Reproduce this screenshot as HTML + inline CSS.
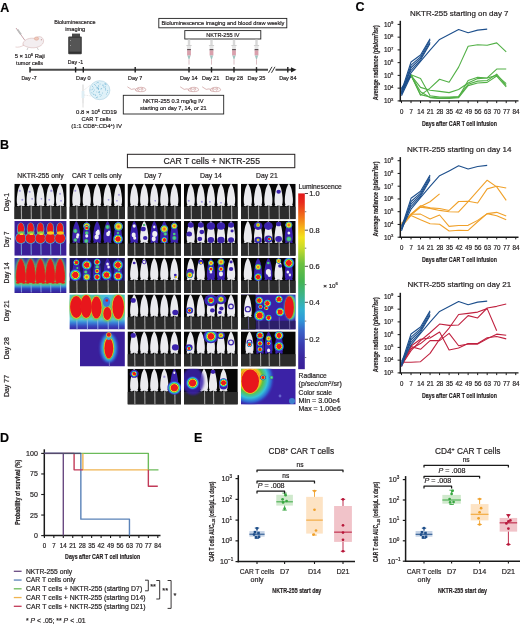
<!DOCTYPE html>
<html><head><meta charset="utf-8"><style>
html,body{margin:0;padding:0;background:#fff;width:520px;height:626px;overflow:hidden;}
svg{display:block;will-change:transform;}
text{font-family:"Liberation Sans", sans-serif;stroke:#231f20;stroke-width:0.2px;}
</style></head><body>
<svg width="520" height="626" viewBox="0 0 520 626" fill="#231f20">
<defs><radialGradient id="spR"><stop offset="0" stop-color="#ec1c1c"/><stop offset="0.42" stop-color="#ec1c1c"/><stop offset="0.52" stop-color="#f7e21b"/><stop offset="0.6" stop-color="#55c244"/><stop offset="0.7" stop-color="#2fc0dd"/><stop offset="0.82" stop-color="#3448d0"/><stop offset="1" stop-color="#3a1fa0" stop-opacity="0"/></radialGradient><radialGradient id="spP"><stop offset="0" stop-color="#4a32c8"/><stop offset="0.6" stop-color="#3a22b0"/><stop offset="1" stop-color="#3a22b0" stop-opacity="0"/></radialGradient><radialGradient id="spL"><stop offset="0" stop-color="#8d7fd8"/><stop offset="1" stop-color="#8d7fd8" stop-opacity="0"/></radialGradient><radialGradient id="spC"><stop offset="0" stop-color="#36d0e0"/><stop offset="0.5" stop-color="#50c060"/><stop offset="1" stop-color="#3a22b0" stop-opacity="0"/></radialGradient><filter id="bl" x="-20%" y="-20%" width="140%" height="140%"><feGaussianBlur stdDeviation="0.42"/></filter><filter id="bl2" x="-20%" y="-20%" width="140%" height="140%"><feGaussianBlur stdDeviation="0.8"/></filter><radialGradient id="spO"><stop offset="0" stop-color="#f04a1a"/><stop offset="0.3" stop-color="#f5a21a"/><stop offset="0.5" stop-color="#f0e030"/><stop offset="0.68" stop-color="#50c060"/><stop offset="0.84" stop-color="#3a6ad0"/><stop offset="1" stop-color="#3a22b0" stop-opacity="0"/></radialGradient><clipPath id="c00"><rect x="14.30" y="183.80" width="52.30" height="35.40"/></clipPath><clipPath id="c10"><rect x="69.40" y="183.80" width="55.50" height="35.40"/></clipPath><clipPath id="c20"><rect x="127.50" y="183.80" width="53.50" height="35.40"/></clipPath><clipPath id="c30"><rect x="184.00" y="183.80" width="53.80" height="35.40"/></clipPath><clipPath id="c40"><rect x="241.00" y="183.80" width="54.70" height="35.40"/></clipPath><clipPath id="c11"><rect x="69.40" y="221.00" width="55.50" height="34.80"/></clipPath><clipPath id="c21"><rect x="127.50" y="221.00" width="53.50" height="34.80"/></clipPath><clipPath id="c31"><rect x="184.00" y="221.00" width="53.80" height="34.80"/></clipPath><clipPath id="c41"><rect x="241.00" y="221.00" width="54.70" height="34.80"/></clipPath><clipPath id="c12"><rect x="69.40" y="258.00" width="55.50" height="35.00"/></clipPath><clipPath id="c22"><rect x="127.50" y="258.00" width="53.50" height="35.00"/></clipPath><clipPath id="c32"><rect x="184.00" y="258.00" width="53.80" height="35.00"/></clipPath><clipPath id="c42"><rect x="241.00" y="258.00" width="54.70" height="35.00"/></clipPath><clipPath id="c23"><rect x="127.50" y="294.40" width="53.50" height="35.10"/></clipPath><clipPath id="c33"><rect x="184.00" y="294.40" width="53.80" height="35.10"/></clipPath><clipPath id="c24"><rect x="127.50" y="331.40" width="53.50" height="35.10"/></clipPath><clipPath id="c34"><rect x="184.00" y="331.40" width="53.80" height="35.10"/></clipPath><clipPath id="c44"><rect x="241.00" y="331.40" width="54.70" height="35.10"/></clipPath><clipPath id="c25"><rect x="127.50" y="368.80" width="53.50" height="35.80"/></clipPath><clipPath id="c35"><rect x="184.00" y="368.80" width="53.80" height="35.80"/></clipPath><clipPath id="h21"><rect x="14.30" y="221.00" width="52.30" height="34.80"/></clipPath><linearGradient id="g31" x1="0" y1="0" x2="0" y2="1"><stop offset="0" stop-color="#3a3aa8"/><stop offset="0.5" stop-color="#3a7ad0"/><stop offset="0.74" stop-color="#48c0b8"/><stop offset="0.8" stop-color="#3aa0d8"/><stop offset="0.88" stop-color="#3040b8"/><stop offset="1" stop-color="#3a1f98"/></linearGradient><clipPath id="h31"><rect x="14.30" y="258.00" width="52.30" height="35.00"/></clipPath><linearGradient id="g42" x1="0" y1="0" x2="0" y2="1"><stop offset="0" stop-color="#48c0d8"/><stop offset="0.6" stop-color="#50c4c8"/><stop offset="0.7" stop-color="#58cce0"/><stop offset="0.8" stop-color="#3a88d8"/><stop offset="0.9" stop-color="#3848c0"/><stop offset="1" stop-color="#3a24a0"/></linearGradient><clipPath id="h42"><rect x="69.40" y="294.40" width="55.50" height="35.10"/></clipPath><clipPath id="h52"><rect x="80.00" y="331.40" width="44.90" height="35.10"/></clipPath><clipPath id="h45"><rect x="241.00" y="294.40" width="54.70" height="35.10"/></clipPath><clipPath id="h65"><rect x="241.00" y="368.80" width="54.70" height="35.80"/></clipPath><radialGradient id="g65" cx="0.5" cy="0.5" r="0.5"><stop offset="0" stop-color="#ec1c1c"/><stop offset="0.3" stop-color="#ec1c1c"/><stop offset="0.42" stop-color="#f5c01b"/><stop offset="0.52" stop-color="#5cc244"/><stop offset="0.7" stop-color="#34c3d9"/><stop offset="0.86" stop-color="#3060d0"/><stop offset="1" stop-color="#3b22a6" stop-opacity="0"/></radialGradient><linearGradient id="cbar" x1="0" y1="0" x2="0" y2="1"><stop offset="0" stop-color="#e3191c"/><stop offset="0.05" stop-color="#e82a1c"/><stop offset="0.14" stop-color="#f27a1a"/><stop offset="0.2" stop-color="#f6b81a"/><stop offset="0.25" stop-color="#f3e21c"/><stop offset="0.31" stop-color="#c8dc2a"/><stop offset="0.4" stop-color="#6cc040"/><stop offset="0.5" stop-color="#44b452"/><stop offset="0.58" stop-color="#3cb48a"/><stop offset="0.66" stop-color="#30b0d0"/><stop offset="0.72" stop-color="#3098d8"/><stop offset="0.78" stop-color="#3a64c8"/><stop offset="0.86" stop-color="#3a3cb0"/><stop offset="0.93" stop-color="#3a28a0"/><stop offset="1" stop-color="#3a1f98"/></linearGradient></defs>
<text x="0.30" y="11.90" font-size="12.5" font-weight="bold" fill="#000" >A</text>
<text x="0.10" y="149.00" font-size="12.5" font-weight="bold" fill="#000" >B</text>
<text x="355.60" y="10.80" font-size="12.5" font-weight="bold" fill="#000" >C</text>
<text x="0.10" y="442.30" font-size="12.5" font-weight="bold" fill="#000" >D</text>
<text x="193.90" y="442.30" font-size="12.5" font-weight="bold" fill="#000" >E</text>
<line x1="30.00" y1="69.80" x2="292.00" y2="69.80" stroke="#4a4a4a" stroke-width="2.1" />
<path d="M291,67.2 L296.5,69.8 L291,72.39999999999999 Z" fill="#222"/>
<line x1="30.00" y1="67.10" x2="30.00" y2="72.50" stroke="#222" stroke-width="1.4" />
<line x1="75.60" y1="67.10" x2="75.60" y2="72.50" stroke="#222" stroke-width="1.4" />
<line x1="83.30" y1="67.10" x2="83.30" y2="72.50" stroke="#222" stroke-width="1.4" />
<line x1="135.20" y1="67.10" x2="135.20" y2="72.50" stroke="#222" stroke-width="1.4" />
<line x1="189.00" y1="67.10" x2="189.00" y2="72.50" stroke="#222" stroke-width="1.4" />
<line x1="211.50" y1="67.10" x2="211.50" y2="72.50" stroke="#222" stroke-width="1.4" />
<line x1="234.00" y1="67.10" x2="234.00" y2="72.50" stroke="#222" stroke-width="1.4" />
<line x1="256.50" y1="67.10" x2="256.50" y2="72.50" stroke="#222" stroke-width="1.4" />
<line x1="287.80" y1="67.10" x2="287.80" y2="72.50" stroke="#222" stroke-width="1.4" />
<rect x="268" y="67.8" width="7.5" height="4" fill="#fff"/>
<line x1="268.50" y1="72.80" x2="272.00" y2="66.80" stroke="#222" stroke-width="0.9" />
<line x1="271.50" y1="72.80" x2="275.00" y2="66.80" stroke="#222" stroke-width="0.9" />
<text x="29.00" y="80.20" font-size="5.6" text-anchor="middle" textLength="15.20" lengthAdjust="spacingAndGlyphs" >Day -7</text>
<text x="75.50" y="63.60" font-size="5.6" text-anchor="middle" textLength="15.40" lengthAdjust="spacingAndGlyphs" >Day -1</text>
<text x="83.40" y="80.20" font-size="5.6" text-anchor="middle" textLength="14.60" lengthAdjust="spacingAndGlyphs" >Day 0</text>
<text x="135.20" y="80.20" font-size="5.6" text-anchor="middle" textLength="14.20" lengthAdjust="spacingAndGlyphs" >Day 7</text>
<text x="188.80" y="80.20" font-size="5.6" text-anchor="middle" textLength="17.60" lengthAdjust="spacingAndGlyphs" >Day 14</text>
<text x="210.70" y="80.20" font-size="5.6" text-anchor="middle" textLength="17.40" lengthAdjust="spacingAndGlyphs" >Day 21</text>
<text x="234.20" y="80.20" font-size="5.6" text-anchor="middle" textLength="17.60" lengthAdjust="spacingAndGlyphs" >Day 28</text>
<text x="256.40" y="80.20" font-size="5.6" text-anchor="middle" textLength="18.00" lengthAdjust="spacingAndGlyphs" >Day 35</text>
<text x="287.80" y="80.20" font-size="5.6" text-anchor="middle" textLength="17.30" lengthAdjust="spacingAndGlyphs" >Day 84</text>
<text x="74.90" y="23.80" font-size="6.2" text-anchor="middle" textLength="41.50" lengthAdjust="spacingAndGlyphs" >Bioluminescence</text>
<text x="75.30" y="30.80" font-size="6.2" text-anchor="middle" textLength="19.90" lengthAdjust="spacingAndGlyphs" >imaging</text>
<text x="29.80" y="58.40" font-size="5.9" text-anchor="middle" textLength="30.20" lengthAdjust="spacingAndGlyphs" >5 × 10<tspan font-size="3.8" dy="-2.3">6</tspan><tspan dy="2.3"> Raji</tspan></text>
<text x="29.60" y="65.30" font-size="5.9" text-anchor="middle" textLength="27.00" lengthAdjust="spacingAndGlyphs" >tumor cells</text>
<rect x="158.80" y="18.40" width="128.00" height="9.40" fill="#fff" stroke="#222" stroke-width="0.9" />
<text x="222.90" y="25.20" font-size="6.1" text-anchor="middle" textLength="123.00" lengthAdjust="spacingAndGlyphs" >Bioluminescence imaging and blood draw weekly</text>
<rect x="184.80" y="30.60" width="76.00" height="8.40" fill="#fff" stroke="#222" stroke-width="0.9" />
<text x="222.90" y="36.80" font-size="6.1" text-anchor="middle" textLength="33.40" lengthAdjust="spacingAndGlyphs" >NKTR-255 IV</text>
<rect x="123.30" y="95.30" width="100.40" height="18.70" fill="#fff" stroke="#222" stroke-width="0.9" />
<text x="173.30" y="103.30" font-size="6.0" text-anchor="middle" textLength="60.80" lengthAdjust="spacingAndGlyphs" >NKTR-255 0.3 mg/kg IV</text>
<text x="173.30" y="110.30" font-size="6.0" text-anchor="middle" textLength="66.70" lengthAdjust="spacingAndGlyphs" >starting on day 7, 14, or 21</text>
<g transform="translate(189,39.6)"><rect x="-1.2" y="0" width="2.4" height="5.6" fill="#d8d8d8"/><rect x="-2.6" y="5.4" width="5.2" height="1.1" fill="#cfcfcf"/><rect x="-1.9" y="6.5" width="3.8" height="3" fill="#e4e4e4"/><rect x="-1.9" y="9.4" width="3.8" height="1.5" fill="#5a4b50"/><rect x="-1.9" y="10.9" width="3.8" height="5" fill="#d9a0ac"/><path d="M-1.6,15.9 L1.6,15.9 L0.5,19.5 L-0.5,19.5 Z" fill="#9fc4c0"/><rect x="-0.35" y="19.5" width="0.7" height="5.5" fill="#c9a3aa"/></g>
<g transform="translate(211.5,39.6)"><rect x="-1.2" y="0" width="2.4" height="5.6" fill="#d8d8d8"/><rect x="-2.6" y="5.4" width="5.2" height="1.1" fill="#cfcfcf"/><rect x="-1.9" y="6.5" width="3.8" height="3" fill="#e4e4e4"/><rect x="-1.9" y="9.4" width="3.8" height="1.5" fill="#5a4b50"/><rect x="-1.9" y="10.9" width="3.8" height="5" fill="#d9a0ac"/><path d="M-1.6,15.9 L1.6,15.9 L0.5,19.5 L-0.5,19.5 Z" fill="#9fc4c0"/><rect x="-0.35" y="19.5" width="0.7" height="5.5" fill="#c9a3aa"/></g>
<g transform="translate(234,39.6)"><rect x="-1.2" y="0" width="2.4" height="5.6" fill="#d8d8d8"/><rect x="-2.6" y="5.4" width="5.2" height="1.1" fill="#cfcfcf"/><rect x="-1.9" y="6.5" width="3.8" height="3" fill="#e4e4e4"/><rect x="-1.9" y="9.4" width="3.8" height="1.5" fill="#5a4b50"/><rect x="-1.9" y="10.9" width="3.8" height="5" fill="#d9a0ac"/><path d="M-1.6,15.9 L1.6,15.9 L0.5,19.5 L-0.5,19.5 Z" fill="#9fc4c0"/><rect x="-0.35" y="19.5" width="0.7" height="5.5" fill="#c9a3aa"/></g>
<g transform="translate(256.5,39.6)"><rect x="-1.2" y="0" width="2.4" height="5.6" fill="#d8d8d8"/><rect x="-2.6" y="5.4" width="5.2" height="1.1" fill="#cfcfcf"/><rect x="-1.9" y="6.5" width="3.8" height="3" fill="#e4e4e4"/><rect x="-1.9" y="9.4" width="3.8" height="1.5" fill="#5a4b50"/><rect x="-1.9" y="10.9" width="3.8" height="5" fill="#d9a0ac"/><path d="M-1.6,15.9 L1.6,15.9 L0.5,19.5 L-0.5,19.5 Z" fill="#9fc4c0"/><rect x="-0.35" y="19.5" width="0.7" height="5.5" fill="#c9a3aa"/></g>
<g><rect x="72" y="33.6" width="8" height="4" fill="#4a4a4a"/><rect x="68.2" y="36.5" width="13.6" height="17.8" rx="1" fill="#3d3d3d"/><rect x="69.5" y="38" width="11" height="14.5" fill="#555"/><rect x="70" y="40" width="1" height="1" fill="#999"/><rect x="70" y="45" width="1" height="1" fill="#999"/><line x1="69" y1="52.2" x2="81" y2="52.2" stroke="#222" stroke-width="0.8"/></g>
<g><line x1="16" y1="28" x2="25" y2="40.5" stroke="#c9a3aa" stroke-width="1"/><line x1="17.5" y1="29.5" x2="21" y2="34.5" stroke="#bbb" stroke-width="1.8"/><path d="M23,43 C25,39 30,37.5 35,38.5 C37,36.5 40,36 42,37.5 C44,39.5 44,42 42.5,44 C41,46 38,47.5 34,47.8 C30,48 26,47 23,45 Z" fill="#f3eef0" stroke="#d9b7b7" stroke-width="0.6"/><ellipse cx="36.5" cy="38.6" rx="2.2" ry="1.6" fill="#f0c9bc" stroke="#d79c8a" stroke-width="0.5"/><circle cx="41.3" cy="39.8" r="0.5" fill="#a66"/><path d="M24,45 C21,47 18,47.5 15.5,47" fill="none" stroke="#d9b7b7" stroke-width="0.6"/><line x1="28" y1="47.6" x2="27" y2="50" stroke="#aaa" stroke-width="0.6"/><line x1="37" y1="47.5" x2="38.5" y2="50" stroke="#aaa" stroke-width="0.6"/></g>
<g><rect x="82.2" y="84.5" width="1.6" height="19" fill="#e3e3e3"/><rect x="81.6" y="91" width="2.8" height="7" fill="#dfeef4"/><line x1="83" y1="103.5" x2="83" y2="107.5" stroke="#bbb" stroke-width="0.5"/><line x1="84" y1="90" x2="90.5" y2="85" stroke="#bbb" stroke-width="0.4" stroke-dasharray="0.8,0.8"/><line x1="84" y1="95" x2="91" y2="96" stroke="#bbb" stroke-width="0.4" stroke-dasharray="0.8,0.8"/><ellipse cx="99.7" cy="90.2" rx="10.2" ry="9.5" fill="#dff1f8" stroke="#9cc6da" stroke-width="0.5"/></g>
<circle cx="100.19" cy="96.16" r="0.45" fill="#5aa8cc"/>
<circle cx="95.02" cy="94.79" r="0.45" fill="#5aa8cc"/>
<circle cx="98.11" cy="88.73" r="0.45" fill="#5aa8cc"/>
<circle cx="107.73" cy="90.81" r="0.45" fill="#5aa8cc"/>
<circle cx="99.45" cy="94.11" r="0.45" fill="#5aa8cc"/>
<circle cx="105.73" cy="90.05" r="0.45" fill="#5aa8cc"/>
<circle cx="102.84" cy="85.42" r="0.45" fill="#5aa8cc"/>
<circle cx="97.51" cy="87.79" r="0.45" fill="#5aa8cc"/>
<circle cx="94.27" cy="84.55" r="0.45" fill="#5aa8cc"/>
<circle cx="92.20" cy="89.19" r="0.45" fill="#5aa8cc"/>
<circle cx="98.64" cy="88.40" r="0.45" fill="#5aa8cc"/>
<circle cx="100.05" cy="83.98" r="0.45" fill="#5aa8cc"/>
<circle cx="99.21" cy="91.55" r="0.45" fill="#5aa8cc"/>
<circle cx="103.72" cy="86.04" r="0.45" fill="#5aa8cc"/>
<circle cx="98.09" cy="82.76" r="0.45" fill="#5aa8cc"/>
<circle cx="97.81" cy="82.63" r="0.45" fill="#5aa8cc"/>
<circle cx="93.48" cy="94.64" r="0.45" fill="#5aa8cc"/>
<circle cx="91.70" cy="92.87" r="0.45" fill="#5aa8cc"/>
<circle cx="101.69" cy="88.46" r="0.45" fill="#5aa8cc"/>
<circle cx="102.39" cy="93.04" r="0.45" fill="#5aa8cc"/>
<circle cx="105.38" cy="89.05" r="0.45" fill="#5aa8cc"/>
<circle cx="96.32" cy="87.03" r="0.45" fill="#5aa8cc"/>
<circle cx="94.24" cy="89.97" r="0.45" fill="#5aa8cc"/>
<circle cx="95.71" cy="95.19" r="0.45" fill="#5aa8cc"/>
<circle cx="92.48" cy="86.31" r="0.45" fill="#5aa8cc"/>
<circle cx="96.18" cy="83.10" r="0.45" fill="#5aa8cc"/>
<circle cx="105.13" cy="83.88" r="0.45" fill="#5aa8cc"/>
<circle cx="98.01" cy="87.32" r="0.45" fill="#5aa8cc"/>
<circle cx="105.24" cy="84.09" r="0.45" fill="#5aa8cc"/>
<circle cx="105.18" cy="86.76" r="0.45" fill="#5aa8cc"/>
<circle cx="98.79" cy="86.58" r="0.45" fill="#5aa8cc"/>
<circle cx="102.97" cy="84.86" r="0.45" fill="#5aa8cc"/>
<circle cx="99.22" cy="92.19" r="0.45" fill="#5aa8cc"/>
<circle cx="105.02" cy="83.80" r="0.45" fill="#5aa8cc"/>
<circle cx="106.39" cy="94.02" r="0.45" fill="#5aa8cc"/>
<circle cx="96.81" cy="91.88" r="0.45" fill="#5aa8cc"/>
<circle cx="97.60" cy="97.03" r="0.45" fill="#5aa8cc"/>
<circle cx="100.99" cy="88.98" r="0.45" fill="#5aa8cc"/>
<circle cx="98.30" cy="89.07" r="0.45" fill="#5aa8cc"/>
<circle cx="98.70" cy="85.63" r="0.45" fill="#5aa8cc"/>
<circle cx="106.09" cy="84.75" r="0.45" fill="#5aa8cc"/>
<circle cx="90.91" cy="89.92" r="0.45" fill="#5aa8cc"/>
<circle cx="98.81" cy="92.29" r="0.45" fill="#5aa8cc"/>
<circle cx="98.44" cy="89.36" r="0.45" fill="#5aa8cc"/>
<circle cx="101.52" cy="95.09" r="0.45" fill="#5aa8cc"/>
<circle cx="97.03" cy="88.15" r="0.45" fill="#5aa8cc"/>
<circle cx="107.61" cy="92.19" r="0.45" fill="#5aa8cc"/>
<circle cx="96.34" cy="97.50" r="0.45" fill="#5aa8cc"/>
<circle cx="104.01" cy="87.19" r="0.45" fill="#5aa8cc"/>
<circle cx="93.55" cy="91.64" r="0.45" fill="#5aa8cc"/>
<circle cx="95.50" cy="85.29" r="0.45" fill="#5aa8cc"/>
<circle cx="93.25" cy="87.88" r="0.45" fill="#5aa8cc"/>
<circle cx="105.54" cy="88.10" r="0.45" fill="#5aa8cc"/>
<circle cx="92.92" cy="93.08" r="0.45" fill="#5aa8cc"/>
<circle cx="100.07" cy="94.63" r="0.45" fill="#5aa8cc"/>
<text x="96.50" y="114.00" font-size="5.9" text-anchor="middle" textLength="40.80" lengthAdjust="spacingAndGlyphs" >0.8 × 10<tspan font-size="3.8" dy="-2.3">6</tspan><tspan dy="2.3"> CD19</tspan></text>
<text x="96.30" y="121.10" font-size="5.9" text-anchor="middle" textLength="29.60" lengthAdjust="spacingAndGlyphs" >CAR T cells</text>
<text x="96.60" y="128.00" font-size="5.9" text-anchor="middle" textLength="50.60" lengthAdjust="spacingAndGlyphs" >(1:1 CD8<tspan font-size="3.8" dy="-2.3">+</tspan><tspan dy="2.3">:CD4</tspan><tspan font-size="3.8" dy="-2.3">+</tspan><tspan dy="2.3">) IV</tspan></text>
<g transform="translate(127.4,88.8)" fill="none" stroke="#cc9a9a" stroke-width="0.7"><path d="M0,-2 L4,0.6 L7,0 L9,1.8"/><path d="M8,0.5 C10,-1.5 14,-2 16.5,-1 C18.5,-0.5 19,1.2 17.5,2.2 C15,3.2 11,3 8.5,2 Z"/><circle cx="11" cy="0.5" r="1"/><circle cx="14.5" cy="0.4" r="1"/></g>
<g transform="translate(180.2,88.8)" fill="none" stroke="#cc9a9a" stroke-width="0.7"><path d="M0,-2 L4,0.6 L7,0 L9,1.8"/><path d="M8,0.5 C10,-1.5 14,-2 16.5,-1 C18.5,-0.5 19,1.2 17.5,2.2 C15,3.2 11,3 8.5,2 Z"/><circle cx="11" cy="0.5" r="1"/><circle cx="14.5" cy="0.4" r="1"/></g>
<g transform="translate(202.2,88.8)" fill="none" stroke="#cc9a9a" stroke-width="0.7"><path d="M0,-2 L4,0.6 L7,0 L9,1.8"/><path d="M8,0.5 C10,-1.5 14,-2 16.5,-1 C18.5,-0.5 19,1.2 17.5,2.2 C15,3.2 11,3 8.5,2 Z"/><circle cx="11" cy="0.5" r="1"/><circle cx="14.5" cy="0.4" r="1"/></g>
<g clip-path="url(#c00)">
<rect x="14.30" y="183.80" width="52.30" height="35.40" fill="#070707" />
<rect x="14.30" y="206.73" width="52.30" height="12.47" fill="#2c2c2c" />
<line x1="21.34" y1="204.93" x2="21.54" y2="219.20" stroke="#a4a4a4" stroke-width="1.1" />
<line x1="31.14" y1="204.93" x2="31.34" y2="219.20" stroke="#a4a4a4" stroke-width="1.1" />
<line x1="40.95" y1="204.93" x2="41.15" y2="219.20" stroke="#a4a4a4" stroke-width="1.1" />
<line x1="50.76" y1="204.93" x2="50.96" y2="219.20" stroke="#a4a4a4" stroke-width="1.1" />
<line x1="60.56" y1="204.93" x2="60.76" y2="219.20" stroke="#a4a4a4" stroke-width="1.1" />
<path d="M20.84,184.10 C21.36,184.10 21.78,184.87 22.10,185.64 L22.94,187.56 C23.25,188.53 23.46,189.29 23.67,190.06 C23.88,191.22 24.09,192.18 24.25,193.33 C24.41,194.30 24.62,196.03 24.83,198.05 C24.98,199.97 24.93,201.90 24.72,203.34 L24.20,204.49 L24.93,205.84 L22.94,206.23 L21.68,205.46 L20.00,205.46 L18.74,206.23 L16.74,205.84 L17.48,204.49 L16.95,203.34 C16.74,201.90 16.69,199.97 16.85,198.05 C17.06,196.03 17.27,194.30 17.42,193.33 C17.58,192.18 17.79,191.22 18.00,190.06 C18.21,189.29 18.42,188.53 18.74,187.56 L19.58,185.64 C19.89,184.87 20.31,184.10 20.84,184.10 Z" fill="#ebebef" filter="url(#bl)"/>
<circle cx="19.84" cy="190.80" r="1.70" fill="url(#spL)"/>
<circle cx="22.34" cy="199.80" r="1.50" fill="url(#spL)"/>
<path d="M30.64,184.10 C31.17,184.10 31.59,184.87 31.90,185.64 L32.74,187.56 C33.06,188.53 33.27,189.29 33.48,190.06 C33.69,191.22 33.90,192.18 34.06,193.33 C34.21,194.30 34.42,196.03 34.63,198.05 C34.79,199.97 34.74,201.90 34.53,203.34 L34.00,204.49 L34.74,205.84 L32.74,206.23 L31.48,205.46 L29.80,205.46 L28.54,206.23 L26.55,205.84 L27.28,204.49 L26.76,203.34 C26.55,201.90 26.50,199.97 26.65,198.05 C26.86,196.03 27.07,194.30 27.23,193.33 C27.39,192.18 27.60,191.22 27.81,190.06 C28.02,189.29 28.23,188.53 28.54,187.56 L29.38,185.64 C29.70,184.87 30.12,184.10 30.64,184.10 Z" fill="#ebebef" filter="url(#bl)"/>
<circle cx="29.64" cy="191.80" r="1.60" fill="url(#spL)"/>
<circle cx="32.14" cy="198.80" r="1.40" fill="url(#spL)"/>
<path d="M40.45,184.10 C40.98,184.10 41.40,184.87 41.71,185.64 L42.55,187.56 C42.87,188.53 43.08,189.29 43.29,190.06 C43.50,191.22 43.71,192.18 43.86,193.33 C44.02,194.30 44.23,196.03 44.44,198.05 C44.60,199.97 44.55,201.90 44.34,203.34 L43.81,204.49 L44.55,205.84 L42.55,206.23 L41.29,205.46 L39.61,205.46 L38.35,206.23 L36.36,205.84 L37.09,204.49 L36.57,203.34 C36.36,201.90 36.30,199.97 36.46,198.05 C36.67,196.03 36.88,194.30 37.04,193.33 C37.20,192.18 37.41,191.22 37.62,190.06 C37.83,189.29 38.04,188.53 38.35,187.56 L39.19,185.64 C39.51,184.87 39.93,184.10 40.45,184.10 Z" fill="#ebebef" filter="url(#bl)"/>
<circle cx="41.45" cy="198.80" r="1.30" fill="url(#spL)"/>
<path d="M50.26,184.10 C50.78,184.10 51.20,184.87 51.52,185.64 L52.36,187.56 C52.67,188.53 52.88,189.29 53.09,190.06 C53.30,191.22 53.51,192.18 53.67,193.33 C53.83,194.30 54.04,196.03 54.25,198.05 C54.40,199.97 54.35,201.90 54.14,203.34 L53.62,204.49 L54.35,205.84 L52.36,206.23 L51.10,205.46 L49.42,205.46 L48.16,206.23 L46.16,205.84 L46.90,204.49 L46.37,203.34 C46.16,201.90 46.11,199.97 46.27,198.05 C46.48,196.03 46.69,194.30 46.84,193.33 C47.00,192.18 47.21,191.22 47.42,190.06 C47.63,189.29 47.84,188.53 48.16,187.56 L49.00,185.64 C49.31,184.87 49.73,184.10 50.26,184.10 Z" fill="#ebebef" filter="url(#bl)"/>
<circle cx="51.26" cy="190.80" r="1.90" fill="url(#spL)"/>
<circle cx="49.26" cy="199.80" r="1.40" fill="url(#spL)"/>
<path d="M60.06,184.10 C60.59,184.10 61.01,184.87 61.32,185.64 L62.16,187.56 C62.48,188.53 62.69,189.29 62.90,190.06 C63.11,191.22 63.32,192.18 63.48,193.33 C63.63,194.30 63.84,196.03 64.05,198.05 C64.21,199.97 64.16,201.90 63.95,203.34 L63.42,204.49 L64.16,205.84 L62.16,206.23 L60.90,205.46 L59.22,205.46 L57.96,206.23 L55.97,205.84 L56.70,204.49 L56.18,203.34 C55.97,201.90 55.91,199.97 56.07,198.05 C56.28,196.03 56.49,194.30 56.65,193.33 C56.81,192.18 57.02,191.22 57.23,190.06 C57.44,189.29 57.65,188.53 57.96,187.56 L58.80,185.64 C59.12,184.87 59.54,184.10 60.06,184.10 Z" fill="#ebebef" filter="url(#bl)"/>
<circle cx="60.06" cy="193.80" r="1.50" fill="url(#spL)"/>
<circle cx="61.06" cy="200.80" r="1.40" fill="url(#spL)"/>
</g>
<g clip-path="url(#c10)">
<rect x="69.40" y="183.80" width="55.50" height="35.40" fill="#070707" />
<rect x="69.40" y="206.73" width="55.50" height="12.47" fill="#2c2c2c" />
<line x1="76.84" y1="204.93" x2="77.04" y2="219.20" stroke="#a4a4a4" stroke-width="1.1" />
<line x1="87.24" y1="204.93" x2="87.44" y2="219.20" stroke="#a4a4a4" stroke-width="1.1" />
<line x1="97.65" y1="204.93" x2="97.85" y2="219.20" stroke="#a4a4a4" stroke-width="1.1" />
<line x1="108.06" y1="204.93" x2="108.26" y2="219.20" stroke="#a4a4a4" stroke-width="1.1" />
<line x1="118.46" y1="204.93" x2="118.66" y2="219.20" stroke="#a4a4a4" stroke-width="1.1" />
<path d="M76.34,184.10 C76.86,184.10 77.28,184.87 77.60,185.64 L78.44,187.56 C78.75,188.53 78.96,189.29 79.17,190.06 C79.38,191.22 79.59,192.18 79.75,193.33 C79.91,194.30 80.12,196.03 80.33,198.05 C80.48,199.97 80.43,201.90 80.22,203.34 L79.70,204.49 L80.43,205.84 L78.44,206.23 L77.18,205.46 L75.50,205.46 L74.24,206.23 L72.24,205.84 L72.98,204.49 L72.45,203.34 C72.24,201.90 72.19,199.97 72.35,198.05 C72.56,196.03 72.77,194.30 72.93,193.33 C73.08,192.18 73.29,191.22 73.50,190.06 C73.71,189.29 73.92,188.53 74.24,187.56 L75.08,185.64 C75.39,184.87 75.81,184.10 76.34,184.10 Z" fill="#ebebef" filter="url(#bl)"/>
<circle cx="75.34" cy="190.80" r="1.50" fill="url(#spL)"/>
<path d="M86.74,184.10 C87.27,184.10 87.69,184.87 88.00,185.64 L88.84,187.56 C89.16,188.53 89.37,189.29 89.58,190.06 C89.79,191.22 90.00,192.18 90.16,193.33 C90.31,194.30 90.52,196.03 90.73,198.05 C90.89,199.97 90.84,201.90 90.63,203.34 L90.10,204.49 L90.84,205.84 L88.84,206.23 L87.58,205.46 L85.90,205.46 L84.64,206.23 L82.65,205.84 L83.38,204.49 L82.86,203.34 C82.65,201.90 82.60,199.97 82.75,198.05 C82.96,196.03 83.17,194.30 83.33,193.33 C83.49,192.18 83.70,191.22 83.91,190.06 C84.12,189.29 84.33,188.53 84.64,187.56 L85.48,185.64 C85.80,184.87 86.22,184.10 86.74,184.10 Z" fill="#ebebef" filter="url(#bl)"/>
<path d="M97.15,184.10 C97.68,184.10 98.09,184.87 98.41,185.64 L99.25,187.56 C99.57,188.53 99.78,189.29 99.98,190.06 C100.20,191.22 100.41,192.18 100.56,193.33 C100.72,194.30 100.93,196.03 101.14,198.05 C101.30,199.97 101.25,201.90 101.04,203.34 L100.51,204.49 L101.25,205.84 L99.25,206.23 L97.99,205.46 L96.31,205.46 L95.05,206.23 L93.06,205.84 L93.79,204.49 L93.27,203.34 C93.06,201.90 93.00,199.97 93.16,198.05 C93.37,196.03 93.58,194.30 93.74,193.33 C93.90,192.18 94.11,191.22 94.32,190.06 C94.53,189.29 94.73,188.53 95.05,187.56 L95.89,185.64 C96.21,184.87 96.62,184.10 97.15,184.10 Z" fill="#ebebef" filter="url(#bl)"/>
<path d="M107.56,184.10 C108.08,184.10 108.50,184.87 108.82,185.64 L109.66,187.56 C109.97,188.53 110.18,189.29 110.39,190.06 C110.60,191.22 110.81,192.18 110.97,193.33 C111.13,194.30 111.34,196.03 111.55,198.05 C111.70,199.97 111.65,201.90 111.44,203.34 L110.92,204.49 L111.65,205.84 L109.66,206.23 L108.40,205.46 L106.72,205.46 L105.46,206.23 L103.46,205.84 L104.20,204.49 L103.67,203.34 C103.46,201.90 103.41,199.97 103.57,198.05 C103.78,196.03 103.99,194.30 104.14,193.33 C104.30,192.18 104.51,191.22 104.72,190.06 C104.93,189.29 105.14,188.53 105.46,187.56 L106.30,185.64 C106.61,184.87 107.03,184.10 107.56,184.10 Z" fill="#ebebef" filter="url(#bl)"/>
<circle cx="108.56" cy="199.80" r="1.40" fill="url(#spL)"/>
<path d="M117.96,184.10 C118.49,184.10 118.91,184.87 119.22,185.64 L120.06,187.56 C120.38,188.53 120.59,189.29 120.80,190.06 C121.01,191.22 121.22,192.18 121.38,193.33 C121.53,194.30 121.74,196.03 121.95,198.05 C122.11,199.97 122.06,201.90 121.85,203.34 L121.32,204.49 L122.06,205.84 L120.06,206.23 L118.80,205.46 L117.12,205.46 L115.86,206.23 L113.87,205.84 L114.60,204.49 L114.08,203.34 C113.87,201.90 113.82,199.97 113.97,198.05 C114.18,196.03 114.39,194.30 114.55,193.33 C114.71,192.18 114.92,191.22 115.13,190.06 C115.34,189.29 115.55,188.53 115.86,187.56 L116.70,185.64 C117.02,184.87 117.44,184.10 117.96,184.10 Z" fill="#ebebef" filter="url(#bl)"/>
<circle cx="118.96" cy="194.80" r="1.60" fill="url(#spL)"/>
<circle cx="116.96" cy="200.80" r="1.30" fill="url(#spL)"/>
</g>
<g clip-path="url(#c20)">
<rect x="127.50" y="183.80" width="53.50" height="35.40" fill="#070707" />
<rect x="127.50" y="206.73" width="53.50" height="12.47" fill="#2c2c2c" />
<line x1="134.69" y1="204.93" x2="134.89" y2="219.20" stroke="#a4a4a4" stroke-width="1.1" />
<line x1="144.72" y1="204.93" x2="144.92" y2="219.20" stroke="#a4a4a4" stroke-width="1.1" />
<line x1="154.75" y1="204.93" x2="154.95" y2="219.20" stroke="#a4a4a4" stroke-width="1.1" />
<line x1="164.78" y1="204.93" x2="164.98" y2="219.20" stroke="#a4a4a4" stroke-width="1.1" />
<line x1="174.81" y1="204.93" x2="175.01" y2="219.20" stroke="#a4a4a4" stroke-width="1.1" />
<path d="M134.19,184.10 C134.71,184.10 135.13,184.87 135.45,185.64 L136.29,187.56 C136.60,188.53 136.81,189.29 137.02,190.06 C137.23,191.22 137.44,192.18 137.60,193.33 C137.76,194.30 137.97,196.03 138.18,198.05 C138.34,199.97 138.28,201.90 138.07,203.34 L137.55,204.49 L138.28,205.84 L136.29,206.23 L135.03,205.46 L133.35,205.46 L132.09,206.23 L130.09,205.84 L130.83,204.49 L130.30,203.34 C130.09,201.90 130.04,199.97 130.20,198.05 C130.41,196.03 130.62,194.30 130.78,193.33 C130.93,192.18 131.14,191.22 131.35,190.06 C131.56,189.29 131.77,188.53 132.09,187.56 L132.93,185.64 C133.24,184.87 133.66,184.10 134.19,184.10 Z" fill="#ebebef" filter="url(#bl)"/>
<path d="M144.22,184.10 C144.74,184.10 145.16,184.87 145.48,185.64 L146.32,187.56 C146.63,188.53 146.84,189.29 147.05,190.06 C147.26,191.22 147.47,192.18 147.63,193.33 C147.79,194.30 148.00,196.03 148.21,198.05 C148.37,199.97 148.31,201.90 148.10,203.34 L147.58,204.49 L148.31,205.84 L146.32,206.23 L145.06,205.46 L143.38,205.46 L142.12,206.23 L140.12,205.84 L140.86,204.49 L140.33,203.34 C140.12,201.90 140.07,199.97 140.23,198.05 C140.44,196.03 140.65,194.30 140.81,193.33 C140.96,192.18 141.17,191.22 141.38,190.06 C141.59,189.29 141.80,188.53 142.12,187.56 L142.96,185.64 C143.27,184.87 143.69,184.10 144.22,184.10 Z" fill="#ebebef" filter="url(#bl)"/>
<path d="M154.25,184.10 C154.78,184.10 155.19,184.87 155.51,185.64 L156.35,187.56 C156.66,188.53 156.88,189.29 157.09,190.06 C157.29,191.22 157.50,192.18 157.66,193.33 C157.82,194.30 158.03,196.03 158.24,198.05 C158.40,199.97 158.34,201.90 158.13,203.34 L157.61,204.49 L158.34,205.84 L156.35,206.23 L155.09,205.46 L153.41,205.46 L152.15,206.23 L150.16,205.84 L150.89,204.49 L150.37,203.34 C150.16,201.90 150.10,199.97 150.26,198.05 C150.47,196.03 150.68,194.30 150.84,193.33 C151.00,192.18 151.21,191.22 151.41,190.06 C151.62,189.29 151.84,188.53 152.15,187.56 L152.99,185.64 C153.31,184.87 153.72,184.10 154.25,184.10 Z" fill="#ebebef" filter="url(#bl)"/>
<circle cx="155.25" cy="200.80" r="1.30" fill="url(#spL)"/>
<path d="M164.28,184.10 C164.81,184.10 165.23,184.87 165.54,185.64 L166.38,187.56 C166.70,188.53 166.91,189.29 167.12,190.06 C167.33,191.22 167.54,192.18 167.69,193.33 C167.85,194.30 168.06,196.03 168.27,198.05 C168.43,199.97 168.38,201.90 168.17,203.34 L167.64,204.49 L168.38,205.84 L166.38,206.23 L165.12,205.46 L163.44,205.46 L162.18,206.23 L160.19,205.84 L160.92,204.49 L160.40,203.34 C160.19,201.90 160.13,199.97 160.29,198.05 C160.50,196.03 160.71,194.30 160.87,193.33 C161.03,192.18 161.24,191.22 161.45,190.06 C161.66,189.29 161.87,188.53 162.18,187.56 L163.02,185.64 C163.34,184.87 163.76,184.10 164.28,184.10 Z" fill="#ebebef" filter="url(#bl)"/>
<path d="M174.31,184.10 C174.84,184.10 175.26,184.87 175.57,185.64 L176.41,187.56 C176.73,188.53 176.94,189.29 177.15,190.06 C177.36,191.22 177.57,192.18 177.72,193.33 C177.88,194.30 178.09,196.03 178.30,198.05 C178.46,199.97 178.41,201.90 178.20,203.34 L177.67,204.49 L178.41,205.84 L176.41,206.23 L175.15,205.46 L173.47,205.46 L172.21,206.23 L170.22,205.84 L170.95,204.49 L170.43,203.34 C170.22,201.90 170.16,199.97 170.32,198.05 C170.53,196.03 170.74,194.30 170.90,193.33 C171.06,192.18 171.27,191.22 171.48,190.06 C171.69,189.29 171.90,188.53 172.21,187.56 L173.05,185.64 C173.37,184.87 173.79,184.10 174.31,184.10 Z" fill="#ebebef" filter="url(#bl)"/>
</g>
<g clip-path="url(#c30)">
<rect x="184.00" y="183.80" width="53.80" height="35.40" fill="#070707" />
<rect x="184.00" y="206.73" width="53.80" height="12.47" fill="#2c2c2c" />
<line x1="191.22" y1="204.93" x2="191.42" y2="219.20" stroke="#a4a4a4" stroke-width="1.1" />
<line x1="201.31" y1="204.93" x2="201.51" y2="219.20" stroke="#a4a4a4" stroke-width="1.1" />
<line x1="211.40" y1="204.93" x2="211.60" y2="219.20" stroke="#a4a4a4" stroke-width="1.1" />
<line x1="221.49" y1="204.93" x2="221.69" y2="219.20" stroke="#a4a4a4" stroke-width="1.1" />
<line x1="231.58" y1="204.93" x2="231.78" y2="219.20" stroke="#a4a4a4" stroke-width="1.1" />
<path d="M190.72,184.10 C191.25,184.10 191.67,184.87 191.98,185.64 L192.82,187.56 C193.14,188.53 193.35,189.29 193.56,190.06 C193.77,191.22 193.98,192.18 194.14,193.33 C194.29,194.30 194.50,196.03 194.72,198.05 C194.87,199.97 194.82,201.90 194.61,203.34 L194.09,204.49 L194.82,205.84 L192.82,206.23 L191.56,205.46 L189.88,205.46 L188.62,206.23 L186.63,205.84 L187.36,204.49 L186.84,203.34 C186.63,201.90 186.58,199.97 186.73,198.05 C186.94,196.03 187.16,194.30 187.31,193.33 C187.47,192.18 187.68,191.22 187.89,190.06 C188.10,189.29 188.31,188.53 188.62,187.56 L189.47,185.64 C189.78,184.87 190.20,184.10 190.72,184.10 Z" fill="#ebebef" filter="url(#bl)"/>
<circle cx="188.72" cy="200.80" r="1.50" fill="url(#spL)"/>
<path d="M200.81,184.10 C201.34,184.10 201.76,184.87 202.07,185.64 L202.91,187.56 C203.23,188.53 203.44,189.29 203.65,190.06 C203.86,191.22 204.07,192.18 204.22,193.33 C204.38,194.30 204.59,196.03 204.80,198.05 C204.96,199.97 204.91,201.90 204.70,203.34 L204.17,204.49 L204.91,205.84 L202.91,206.23 L201.65,205.46 L199.97,205.46 L198.71,206.23 L196.72,205.84 L197.45,204.49 L196.93,203.34 C196.72,201.90 196.66,199.97 196.82,198.05 C197.03,196.03 197.24,194.30 197.40,193.33 C197.56,192.18 197.77,191.22 197.98,190.06 C198.19,189.29 198.40,188.53 198.71,187.56 L199.55,185.64 C199.87,184.87 200.29,184.10 200.81,184.10 Z" fill="#ebebef" filter="url(#bl)"/>
<circle cx="201.81" cy="201.80" r="1.60" fill="url(#spL)"/>
<path d="M210.90,184.10 C211.43,184.10 211.84,184.87 212.16,185.64 L213.00,187.56 C213.31,188.53 213.53,189.29 213.74,190.06 C213.94,191.22 214.16,192.18 214.31,193.33 C214.47,194.30 214.68,196.03 214.89,198.05 C215.05,199.97 215.00,201.90 214.78,203.34 L214.26,204.49 L215.00,205.84 L213.00,206.23 L211.74,205.46 L210.06,205.46 L208.80,206.23 L206.81,205.84 L207.54,204.49 L207.02,203.34 C206.81,201.90 206.75,199.97 206.91,198.05 C207.12,196.03 207.33,194.30 207.49,193.33 C207.65,192.18 207.86,191.22 208.06,190.06 C208.28,189.29 208.49,188.53 208.80,187.56 L209.64,185.64 C209.96,184.87 210.38,184.10 210.90,184.10 Z" fill="#ebebef" filter="url(#bl)"/>
<circle cx="209.90" cy="201.80" r="1.40" fill="url(#spL)"/>
<path d="M220.99,184.10 C221.51,184.10 221.93,184.87 222.25,185.64 L223.09,187.56 C223.40,188.53 223.61,189.29 223.82,190.06 C224.03,191.22 224.24,192.18 224.40,193.33 C224.56,194.30 224.77,196.03 224.98,198.05 C225.14,199.97 225.08,201.90 224.87,203.34 L224.35,204.49 L225.08,205.84 L223.09,206.23 L221.83,205.46 L220.15,205.46 L218.89,206.23 L216.89,205.84 L217.63,204.49 L217.10,203.34 C216.89,201.90 216.84,199.97 217.00,198.05 C217.21,196.03 217.42,194.30 217.58,193.33 C217.73,192.18 217.94,191.22 218.15,190.06 C218.36,189.29 218.57,188.53 218.89,187.56 L219.73,185.64 C220.04,184.87 220.46,184.10 220.99,184.10 Z" fill="#ebebef" filter="url(#bl)"/>
<circle cx="220.99" cy="202.80" r="1.30" fill="url(#spL)"/>
<path d="M231.08,184.10 C231.60,184.10 232.02,184.87 232.34,185.64 L233.18,187.56 C233.49,188.53 233.70,189.29 233.91,190.06 C234.12,191.22 234.33,192.18 234.49,193.33 C234.65,194.30 234.86,196.03 235.07,198.05 C235.22,199.97 235.17,201.90 234.96,203.34 L234.44,204.49 L235.17,205.84 L233.18,206.23 L231.92,205.46 L230.24,205.46 L228.98,206.23 L226.98,205.84 L227.72,204.49 L227.19,203.34 C226.98,201.90 226.93,199.97 227.09,198.05 C227.30,196.03 227.51,194.30 227.66,193.33 C227.82,192.18 228.03,191.22 228.24,190.06 C228.45,189.29 228.66,188.53 228.98,187.56 L229.82,185.64 C230.13,184.87 230.55,184.10 231.08,184.10 Z" fill="#ebebef" filter="url(#bl)"/>
</g>
<g clip-path="url(#c40)">
<rect x="241.00" y="183.80" width="54.70" height="35.40" fill="#070707" />
<rect x="241.00" y="206.73" width="54.70" height="12.47" fill="#2c2c2c" />
<line x1="248.34" y1="204.93" x2="248.54" y2="219.20" stroke="#a4a4a4" stroke-width="1.1" />
<line x1="258.59" y1="204.93" x2="258.79" y2="219.20" stroke="#a4a4a4" stroke-width="1.1" />
<line x1="268.85" y1="204.93" x2="269.05" y2="219.20" stroke="#a4a4a4" stroke-width="1.1" />
<line x1="279.11" y1="204.93" x2="279.31" y2="219.20" stroke="#a4a4a4" stroke-width="1.1" />
<line x1="289.36" y1="204.93" x2="289.56" y2="219.20" stroke="#a4a4a4" stroke-width="1.1" />
<path d="M247.84,184.10 C248.36,184.10 248.78,184.87 249.10,185.64 L249.94,187.56 C250.25,188.53 250.46,189.29 250.67,190.06 C250.88,191.22 251.09,192.18 251.25,193.33 C251.41,194.30 251.62,196.03 251.83,198.05 C251.99,199.97 251.93,201.90 251.72,203.34 L251.20,204.49 L251.93,205.84 L249.94,206.23 L248.68,205.46 L247.00,205.46 L245.74,206.23 L243.74,205.84 L244.48,204.49 L243.95,203.34 C243.74,201.90 243.69,199.97 243.85,198.05 C244.06,196.03 244.27,194.30 244.43,193.33 C244.58,192.18 244.79,191.22 245.00,190.06 C245.21,189.29 245.42,188.53 245.74,187.56 L246.58,185.64 C246.89,184.87 247.31,184.10 247.84,184.10 Z" fill="#ebebef" filter="url(#bl)"/>
<path d="M258.09,184.10 C258.62,184.10 259.04,184.87 259.35,185.64 L260.19,187.56 C260.51,188.53 260.72,189.29 260.93,190.06 C261.14,191.22 261.35,192.18 261.51,193.33 C261.66,194.30 261.87,196.03 262.08,198.05 C262.24,199.97 262.19,201.90 261.98,203.34 L261.45,204.49 L262.19,205.84 L260.19,206.23 L258.93,205.46 L257.25,205.46 L255.99,206.23 L254.00,205.84 L254.73,204.49 L254.21,203.34 C254.00,201.90 253.95,199.97 254.10,198.05 C254.31,196.03 254.52,194.30 254.68,193.33 C254.84,192.18 255.05,191.22 255.26,190.06 C255.47,189.29 255.68,188.53 255.99,187.56 L256.83,185.64 C257.15,184.87 257.57,184.10 258.09,184.10 Z" fill="#ebebef" filter="url(#bl)"/>
<path d="M268.35,184.10 C268.88,184.10 269.30,184.87 269.61,185.64 L270.45,187.56 C270.77,188.53 270.98,189.29 271.19,190.06 C271.40,191.22 271.61,192.18 271.76,193.33 C271.92,194.30 272.13,196.03 272.34,198.05 C272.50,199.97 272.45,201.90 272.24,203.34 L271.71,204.49 L272.45,205.84 L270.45,206.23 L269.19,205.46 L267.51,205.46 L266.25,206.23 L264.25,205.84 L264.99,204.49 L264.47,203.34 C264.25,201.90 264.20,199.97 264.36,198.05 C264.57,196.03 264.78,194.30 264.94,193.33 C265.10,192.18 265.31,191.22 265.52,190.06 C265.73,189.29 265.94,188.53 266.25,187.56 L267.09,185.64 C267.41,184.87 267.83,184.10 268.35,184.10 Z" fill="#ebebef" filter="url(#bl)"/>
<path d="M278.61,184.10 C279.13,184.10 279.55,184.87 279.87,185.64 L280.71,187.56 C281.02,188.53 281.23,189.29 281.44,190.06 C281.65,191.22 281.86,192.18 282.02,193.33 C282.18,194.30 282.39,196.03 282.60,198.05 C282.75,199.97 282.70,201.90 282.49,203.34 L281.97,204.49 L282.70,205.84 L280.71,206.23 L279.45,205.46 L277.77,205.46 L276.51,206.23 L274.51,205.84 L275.25,204.49 L274.72,203.34 C274.51,201.90 274.46,199.97 274.62,198.05 C274.83,196.03 275.04,194.30 275.19,193.33 C275.35,192.18 275.56,191.22 275.77,190.06 C275.98,189.29 276.19,188.53 276.51,187.56 L277.35,185.64 C277.66,184.87 278.08,184.10 278.61,184.10 Z" fill="#ebebef" filter="url(#bl)"/>
<ellipse cx="278.61" cy="191.80" rx="2.20" ry="1.98" fill="#3b22ad" filter="url(#bl)"/>
<path d="M288.86,184.10 C289.39,184.10 289.81,184.87 290.12,185.64 L290.96,187.56 C291.28,188.53 291.49,189.29 291.70,190.06 C291.91,191.22 292.12,192.18 292.28,193.33 C292.43,194.30 292.64,196.03 292.85,198.05 C293.01,199.97 292.96,201.90 292.75,203.34 L292.22,204.49 L292.96,205.84 L290.96,206.23 L289.70,205.46 L288.02,205.46 L286.76,206.23 L284.77,205.84 L285.50,204.49 L284.98,203.34 C284.77,201.90 284.72,199.97 284.87,198.05 C285.08,196.03 285.29,194.30 285.45,193.33 C285.61,192.18 285.82,191.22 286.03,190.06 C286.24,189.29 286.45,188.53 286.76,187.56 L287.60,185.64 C287.92,184.87 288.34,184.10 288.86,184.10 Z" fill="#ebebef" filter="url(#bl)"/>
</g>
<g clip-path="url(#c11)">
<rect x="69.40" y="221.00" width="55.50" height="34.80" fill="#070707" />
<rect x="69.40" y="243.55" width="55.50" height="12.25" fill="#2c2c2c" />
<line x1="76.84" y1="241.75" x2="77.04" y2="255.80" stroke="#a4a4a4" stroke-width="1.1" />
<line x1="87.24" y1="241.75" x2="87.44" y2="255.80" stroke="#a4a4a4" stroke-width="1.1" />
<line x1="97.65" y1="241.75" x2="97.85" y2="255.80" stroke="#a4a4a4" stroke-width="1.1" />
<line x1="108.06" y1="241.75" x2="108.26" y2="255.80" stroke="#a4a4a4" stroke-width="1.1" />
<line x1="118.46" y1="241.75" x2="118.66" y2="255.80" stroke="#a4a4a4" stroke-width="1.1" />
<path d="M76.34,221.30 C76.86,221.30 77.28,222.06 77.60,222.81 L78.44,224.70 C78.75,225.65 78.96,226.41 79.17,227.16 C79.38,228.30 79.59,229.24 79.75,230.38 C79.91,231.32 80.12,233.03 80.33,235.01 C80.48,236.90 80.43,238.79 80.22,240.21 L79.70,241.35 L80.43,242.67 L78.44,243.05 L77.18,242.29 L75.50,242.29 L74.24,243.05 L72.24,242.67 L72.98,241.35 L72.45,240.21 C72.24,238.79 72.19,236.90 72.35,235.01 C72.56,233.03 72.77,231.32 72.93,230.38 C73.08,229.24 73.29,228.30 73.50,227.16 C73.71,226.41 73.92,225.65 74.24,224.70 L75.08,222.81 C75.39,222.06 75.81,221.30 76.34,221.30 Z" fill="#3b22ad" filter="url(#bl)"/>
<circle cx="75.34" cy="231.00" r="3.00" fill="url(#spC)"/>
<ellipse cx="77.84" cy="235.00" rx="1.53" ry="1.80" fill="#f0f0f4" filter="url(#bl)"/>
<ellipse cx="77.34" cy="237.00" rx="1.36" ry="1.60" fill="#f0f0f4" filter="url(#bl)"/>
<circle cx="75.34" cy="240.00" r="2.60" fill="url(#spC)"/>
<path d="M86.74,221.30 C87.27,221.30 87.69,222.06 88.00,222.81 L88.84,224.70 C89.16,225.65 89.37,226.41 89.58,227.16 C89.79,228.30 90.00,229.24 90.16,230.38 C90.31,231.32 90.52,233.03 90.73,235.01 C90.89,236.90 90.84,238.79 90.63,240.21 L90.10,241.35 L90.84,242.67 L88.84,243.05 L87.58,242.29 L85.90,242.29 L84.64,243.05 L82.65,242.67 L83.38,241.35 L82.86,240.21 C82.65,238.79 82.60,236.90 82.75,235.01 C82.96,233.03 83.17,231.32 83.33,230.38 C83.49,229.24 83.70,228.30 83.91,227.16 C84.12,226.41 84.33,225.65 84.64,224.70 L85.48,222.81 C85.80,222.06 86.22,221.30 86.74,221.30 Z" fill="#3b22ad" filter="url(#bl)"/>
<circle cx="86.74" cy="226.00" r="4.00" fill="url(#spO)"/>
<circle cx="86.74" cy="228.00" r="3.00" fill="url(#spR)"/>
<circle cx="86.74" cy="233.00" r="2.60" fill="url(#spC)"/>
<ellipse cx="86.74" cy="236.00" rx="1.53" ry="1.80" fill="#f0f0f4" filter="url(#bl)"/>
<circle cx="86.24" cy="241.00" r="3.00" fill="url(#spC)"/>
<path d="M97.15,221.30 C97.68,221.30 98.09,222.06 98.41,222.81 L99.25,224.70 C99.57,225.65 99.78,226.41 99.98,227.16 C100.20,228.30 100.41,229.24 100.56,230.38 C100.72,231.32 100.93,233.03 101.14,235.01 C101.30,236.90 101.25,238.79 101.04,240.21 L100.51,241.35 L101.25,242.67 L99.25,243.05 L97.99,242.29 L96.31,242.29 L95.05,243.05 L93.06,242.67 L93.79,241.35 L93.27,240.21 C93.06,238.79 93.00,236.90 93.16,235.01 C93.37,233.03 93.58,231.32 93.74,230.38 C93.90,229.24 94.11,228.30 94.32,227.16 C94.53,226.41 94.73,225.65 95.05,224.70 L95.89,222.81 C96.21,222.06 96.62,221.30 97.15,221.30 Z" fill="#3b22ad" filter="url(#bl)"/>
<ellipse cx="97.65" cy="233.00" rx="2.21" ry="2.60" fill="#f0f0f4" filter="url(#bl)"/>
<ellipse cx="96.65" cy="237.00" rx="2.21" ry="2.60" fill="#f0f0f4" filter="url(#bl)"/>
<ellipse cx="98.15" cy="231.00" rx="1.36" ry="1.60" fill="#f0f0f4" filter="url(#bl)"/>
<path d="M107.56,221.30 C108.08,221.30 108.50,222.06 108.82,222.81 L109.66,224.70 C109.97,225.65 110.18,226.41 110.39,227.16 C110.60,228.30 110.81,229.24 110.97,230.38 C111.13,231.32 111.34,233.03 111.55,235.01 C111.70,236.90 111.65,238.79 111.44,240.21 L110.92,241.35 L111.65,242.67 L109.66,243.05 L108.40,242.29 L106.72,242.29 L105.46,243.05 L103.46,242.67 L104.20,241.35 L103.67,240.21 C103.46,238.79 103.41,236.90 103.57,235.01 C103.78,233.03 103.99,231.32 104.14,230.38 C104.30,229.24 104.51,228.30 104.72,227.16 C104.93,226.41 105.14,225.65 105.46,224.70 L106.30,222.81 C106.61,222.06 107.03,221.30 107.56,221.30 Z" fill="#3b22ad" filter="url(#bl)"/>
<circle cx="107.56" cy="227.00" r="3.00" fill="url(#spC)"/>
<ellipse cx="108.06" cy="234.00" rx="1.87" ry="2.20" fill="#f0f0f4" filter="url(#bl)"/>
<ellipse cx="109.06" cy="232.00" rx="1.27" ry="1.50" fill="#f0f0f4" filter="url(#bl)"/>
<path d="M117.96,221.30 C118.49,221.30 118.91,222.06 119.22,222.81 L120.06,224.70 C120.38,225.65 120.59,226.41 120.80,227.16 C121.01,228.30 121.22,229.24 121.38,230.38 C121.53,231.32 121.74,233.03 121.95,235.01 C122.11,236.90 122.06,238.79 121.85,240.21 L121.32,241.35 L122.06,242.67 L120.06,243.05 L118.80,242.29 L117.12,242.29 L115.86,243.05 L113.87,242.67 L114.60,241.35 L114.08,240.21 C113.87,238.79 113.82,236.90 113.97,235.01 C114.18,233.03 114.39,231.32 114.55,230.38 C114.71,229.24 114.92,228.30 115.13,227.16 C115.34,226.41 115.55,225.65 115.86,224.70 L116.70,222.81 C117.02,222.06 117.44,221.30 117.96,221.30 Z" fill="#3b22ad" filter="url(#bl)"/>
<circle cx="118.46" cy="226.50" r="5.00" fill="url(#spO)"/>
<circle cx="117.96" cy="239.00" r="5.50" fill="url(#spR)"/>
<circle cx="117.96" cy="233.00" r="2.00" fill="url(#spC)"/>
</g>
<g clip-path="url(#c21)">
<rect x="127.50" y="221.00" width="53.50" height="34.80" fill="#070707" />
<rect x="127.50" y="243.55" width="53.50" height="12.25" fill="#2c2c2c" />
<line x1="134.69" y1="241.75" x2="134.89" y2="255.80" stroke="#a4a4a4" stroke-width="1.1" />
<line x1="144.72" y1="241.75" x2="144.92" y2="255.80" stroke="#a4a4a4" stroke-width="1.1" />
<line x1="154.75" y1="241.75" x2="154.95" y2="255.80" stroke="#a4a4a4" stroke-width="1.1" />
<line x1="164.78" y1="241.75" x2="164.98" y2="255.80" stroke="#a4a4a4" stroke-width="1.1" />
<line x1="174.81" y1="241.75" x2="175.01" y2="255.80" stroke="#a4a4a4" stroke-width="1.1" />
<path d="M134.19,221.30 C134.71,221.30 135.13,222.06 135.45,222.81 L136.29,224.70 C136.60,225.65 136.81,226.41 137.02,227.16 C137.23,228.30 137.44,229.24 137.60,230.38 C137.76,231.32 137.97,233.03 138.18,235.01 C138.34,236.90 138.28,238.79 138.07,240.21 L137.55,241.35 L138.28,242.67 L136.29,243.05 L135.03,242.29 L133.35,242.29 L132.09,243.05 L130.09,242.67 L130.83,241.35 L130.30,240.21 C130.09,238.79 130.04,236.90 130.20,235.01 C130.41,233.03 130.62,231.32 130.78,230.38 C130.93,229.24 131.14,228.30 131.35,227.16 C131.56,226.41 131.77,225.65 132.09,224.70 L132.93,222.81 C133.24,222.06 133.66,221.30 134.19,221.30 Z" fill="#3b22ad" filter="url(#bl)"/>
<ellipse cx="134.19" cy="226.00" rx="1.53" ry="1.80" fill="#f0f0f4" filter="url(#bl)"/>
<ellipse cx="133.69" cy="235.00" rx="2.04" ry="2.40" fill="#f0f0f4" filter="url(#bl)"/>
<ellipse cx="134.69" cy="238.00" rx="1.53" ry="1.80" fill="#f0f0f4" filter="url(#bl)"/>
<path d="M144.22,221.30 C144.74,221.30 145.16,222.06 145.48,222.81 L146.32,224.70 C146.63,225.65 146.84,226.41 147.05,227.16 C147.26,228.30 147.47,229.24 147.63,230.38 C147.79,231.32 148.00,233.03 148.21,235.01 C148.37,236.90 148.31,238.79 148.10,240.21 L147.58,241.35 L148.31,242.67 L146.32,243.05 L145.06,242.29 L143.38,242.29 L142.12,243.05 L140.12,242.67 L140.86,241.35 L140.33,240.21 C140.12,238.79 140.07,236.90 140.23,235.01 C140.44,233.03 140.65,231.32 140.81,230.38 C140.96,229.24 141.17,228.30 141.38,227.16 C141.59,226.41 141.80,225.65 142.12,224.70 L142.96,222.81 C143.27,222.06 143.69,221.30 144.22,221.30 Z" fill="#ebebef" filter="url(#bl)"/>
<ellipse cx="143.22" cy="229.00" rx="2.60" ry="2.34" fill="#3b22ad" filter="url(#bl)"/>
<ellipse cx="145.22" cy="238.00" rx="2.20" ry="1.98" fill="#3b22ad" filter="url(#bl)"/>
<circle cx="144.22" cy="225.00" r="1.60" fill="url(#spC)"/>
<path d="M154.25,221.30 C154.78,221.30 155.19,222.06 155.51,222.81 L156.35,224.70 C156.66,225.65 156.88,226.41 157.09,227.16 C157.29,228.30 157.50,229.24 157.66,230.38 C157.82,231.32 158.03,233.03 158.24,235.01 C158.40,236.90 158.34,238.79 158.13,240.21 L157.61,241.35 L158.34,242.67 L156.35,243.05 L155.09,242.29 L153.41,242.29 L152.15,243.05 L150.16,242.67 L150.89,241.35 L150.37,240.21 C150.16,238.79 150.10,236.90 150.26,235.01 C150.47,233.03 150.68,231.32 150.84,230.38 C151.00,229.24 151.21,228.30 151.41,227.16 C151.62,226.41 151.84,225.65 152.15,224.70 L152.99,222.81 C153.31,222.06 153.72,221.30 154.25,221.30 Z" fill="#3b22ad" filter="url(#bl)"/>
<ellipse cx="154.75" cy="234.00" rx="2.55" ry="3.00" fill="#f0f0f4" filter="url(#bl)"/>
<ellipse cx="153.75" cy="239.00" rx="2.04" ry="2.40" fill="#f0f0f4" filter="url(#bl)"/>
<ellipse cx="154.25" cy="227.00" rx="1.19" ry="1.40" fill="#f0f0f4" filter="url(#bl)"/>
<path d="M164.28,221.30 C164.81,221.30 165.23,222.06 165.54,222.81 L166.38,224.70 C166.70,225.65 166.91,226.41 167.12,227.16 C167.33,228.30 167.54,229.24 167.69,230.38 C167.85,231.32 168.06,233.03 168.27,235.01 C168.43,236.90 168.38,238.79 168.17,240.21 L167.64,241.35 L168.38,242.67 L166.38,243.05 L165.12,242.29 L163.44,242.29 L162.18,243.05 L160.19,242.67 L160.92,241.35 L160.40,240.21 C160.19,238.79 160.13,236.90 160.29,235.01 C160.50,233.03 160.71,231.32 160.87,230.38 C161.03,229.24 161.24,228.30 161.45,227.16 C161.66,226.41 161.87,225.65 162.18,224.70 L163.02,222.81 C163.34,222.06 163.76,221.30 164.28,221.30 Z" fill="#3b22ad" filter="url(#bl)"/>
<circle cx="164.28" cy="229.00" r="4.50" fill="url(#spO)"/>
<circle cx="164.28" cy="240.00" r="3.50" fill="url(#spR)"/>
<circle cx="165.28" cy="234.00" r="2.40" fill="url(#spC)"/>
<path d="M174.31,221.30 C174.84,221.30 175.26,222.06 175.57,222.81 L176.41,224.70 C176.73,225.65 176.94,226.41 177.15,227.16 C177.36,228.30 177.57,229.24 177.72,230.38 C177.88,231.32 178.09,233.03 178.30,235.01 C178.46,236.90 178.41,238.79 178.20,240.21 L177.67,241.35 L178.41,242.67 L176.41,243.05 L175.15,242.29 L173.47,242.29 L172.21,243.05 L170.22,242.67 L170.95,241.35 L170.43,240.21 C170.22,238.79 170.16,236.90 170.32,235.01 C170.53,233.03 170.74,231.32 170.90,230.38 C171.06,229.24 171.27,228.30 171.48,227.16 C171.69,226.41 171.90,225.65 172.21,224.70 L173.05,222.81 C173.37,222.06 173.79,221.30 174.31,221.30 Z" fill="#3b22ad" filter="url(#bl)"/>
<circle cx="174.31" cy="226.00" r="3.60" fill="url(#spO)"/>
<circle cx="174.31" cy="238.00" r="3.00" fill="url(#spC)"/>
<circle cx="174.31" cy="234.00" r="2.00" fill="url(#spC)"/>
</g>
<g clip-path="url(#c31)">
<rect x="184.00" y="221.00" width="53.80" height="34.80" fill="#070707" />
<rect x="184.00" y="243.55" width="53.80" height="12.25" fill="#2c2c2c" />
<line x1="191.22" y1="241.75" x2="191.42" y2="255.80" stroke="#a4a4a4" stroke-width="1.1" />
<line x1="201.31" y1="241.75" x2="201.51" y2="255.80" stroke="#a4a4a4" stroke-width="1.1" />
<line x1="211.40" y1="241.75" x2="211.60" y2="255.80" stroke="#a4a4a4" stroke-width="1.1" />
<line x1="221.49" y1="241.75" x2="221.69" y2="255.80" stroke="#a4a4a4" stroke-width="1.1" />
<line x1="231.58" y1="241.75" x2="231.78" y2="255.80" stroke="#a4a4a4" stroke-width="1.1" />
<path d="M190.72,221.30 C191.25,221.30 191.67,222.06 191.98,222.81 L192.82,224.70 C193.14,225.65 193.35,226.41 193.56,227.16 C193.77,228.30 193.98,229.24 194.14,230.38 C194.29,231.32 194.50,233.03 194.72,235.01 C194.87,236.90 194.82,238.79 194.61,240.21 L194.09,241.35 L194.82,242.67 L192.82,243.05 L191.56,242.29 L189.88,242.29 L188.62,243.05 L186.63,242.67 L187.36,241.35 L186.84,240.21 C186.63,238.79 186.58,236.90 186.73,235.01 C186.94,233.03 187.16,231.32 187.31,230.38 C187.47,229.24 187.68,228.30 187.89,227.16 C188.10,226.41 188.31,225.65 188.62,224.70 L189.47,222.81 C189.78,222.06 190.20,221.30 190.72,221.30 Z" fill="#ebebef" filter="url(#bl)"/>
<ellipse cx="190.72" cy="225.00" rx="3.00" ry="2.70" fill="#3b22ad" filter="url(#bl)"/>
<ellipse cx="189.22" cy="234.00" rx="2.80" ry="2.52" fill="#3b22ad" filter="url(#bl)"/>
<path d="M200.81,221.30 C201.34,221.30 201.76,222.06 202.07,222.81 L202.91,224.70 C203.23,225.65 203.44,226.41 203.65,227.16 C203.86,228.30 204.07,229.24 204.22,230.38 C204.38,231.32 204.59,233.03 204.80,235.01 C204.96,236.90 204.91,238.79 204.70,240.21 L204.17,241.35 L204.91,242.67 L202.91,243.05 L201.65,242.29 L199.97,242.29 L198.71,243.05 L196.72,242.67 L197.45,241.35 L196.93,240.21 C196.72,238.79 196.66,236.90 196.82,235.01 C197.03,233.03 197.24,231.32 197.40,230.38 C197.56,229.24 197.77,228.30 197.98,227.16 C198.19,226.41 198.40,225.65 198.71,224.70 L199.55,222.81 C199.87,222.06 200.29,221.30 200.81,221.30 Z" fill="#ebebef" filter="url(#bl)"/>
<ellipse cx="200.81" cy="225.00" rx="3.00" ry="2.70" fill="#3b22ad" filter="url(#bl)"/>
<ellipse cx="201.81" cy="232.00" rx="2.40" ry="2.16" fill="#3b22ad" filter="url(#bl)"/>
<ellipse cx="199.81" cy="239.00" rx="2.40" ry="2.16" fill="#3b22ad" filter="url(#bl)"/>
<path d="M210.90,221.30 C211.43,221.30 211.84,222.06 212.16,222.81 L213.00,224.70 C213.31,225.65 213.53,226.41 213.74,227.16 C213.94,228.30 214.16,229.24 214.31,230.38 C214.47,231.32 214.68,233.03 214.89,235.01 C215.05,236.90 215.00,238.79 214.78,240.21 L214.26,241.35 L215.00,242.67 L213.00,243.05 L211.74,242.29 L210.06,242.29 L208.80,243.05 L206.81,242.67 L207.54,241.35 L207.02,240.21 C206.81,238.79 206.75,236.90 206.91,235.01 C207.12,233.03 207.33,231.32 207.49,230.38 C207.65,229.24 207.86,228.30 208.06,227.16 C208.28,226.41 208.49,225.65 208.80,224.70 L209.64,222.81 C209.96,222.06 210.38,221.30 210.90,221.30 Z" fill="#ebebef" filter="url(#bl)"/>
<ellipse cx="210.90" cy="226.00" rx="4.20" ry="3.78" fill="#3b22ad" filter="url(#bl)"/>
<ellipse cx="210.90" cy="240.00" rx="3.20" ry="2.88" fill="#3b22ad" filter="url(#bl)"/>
<path d="M220.99,221.30 C221.51,221.30 221.93,222.06 222.25,222.81 L223.09,224.70 C223.40,225.65 223.61,226.41 223.82,227.16 C224.03,228.30 224.24,229.24 224.40,230.38 C224.56,231.32 224.77,233.03 224.98,235.01 C225.14,236.90 225.08,238.79 224.87,240.21 L224.35,241.35 L225.08,242.67 L223.09,243.05 L221.83,242.29 L220.15,242.29 L218.89,243.05 L216.89,242.67 L217.63,241.35 L217.10,240.21 C216.89,238.79 216.84,236.90 217.00,235.01 C217.21,233.03 217.42,231.32 217.58,230.38 C217.73,229.24 217.94,228.30 218.15,227.16 C218.36,226.41 218.57,225.65 218.89,224.70 L219.73,222.81 C220.04,222.06 220.46,221.30 220.99,221.30 Z" fill="#ebebef" filter="url(#bl)"/>
<ellipse cx="220.99" cy="226.00" rx="4.20" ry="3.78" fill="#3b22ad" filter="url(#bl)"/>
<ellipse cx="220.99" cy="240.00" rx="3.60" ry="3.24" fill="#3b22ad" filter="url(#bl)"/>
<path d="M231.08,221.30 C231.60,221.30 232.02,222.06 232.34,222.81 L233.18,224.70 C233.49,225.65 233.70,226.41 233.91,227.16 C234.12,228.30 234.33,229.24 234.49,230.38 C234.65,231.32 234.86,233.03 235.07,235.01 C235.22,236.90 235.17,238.79 234.96,240.21 L234.44,241.35 L235.17,242.67 L233.18,243.05 L231.92,242.29 L230.24,242.29 L228.98,243.05 L226.98,242.67 L227.72,241.35 L227.19,240.21 C226.98,238.79 226.93,236.90 227.09,235.01 C227.30,233.03 227.51,231.32 227.66,230.38 C227.82,229.24 228.03,228.30 228.24,227.16 C228.45,226.41 228.66,225.65 228.98,224.70 L229.82,222.81 C230.13,222.06 230.55,221.30 231.08,221.30 Z" fill="#ebebef" filter="url(#bl)"/>
<ellipse cx="231.08" cy="225.00" rx="3.00" ry="2.70" fill="#3b22ad" filter="url(#bl)"/>
<ellipse cx="231.08" cy="240.00" rx="3.00" ry="2.70" fill="#3b22ad" filter="url(#bl)"/>
<ellipse cx="232.08" cy="231.00" rx="1.60" ry="1.44" fill="#3b22ad" filter="url(#bl)"/>
</g>
<g clip-path="url(#c41)">
<rect x="241.00" y="221.00" width="54.70" height="34.80" fill="#070707" />
<rect x="241.00" y="243.55" width="54.70" height="12.25" fill="#2c2c2c" />
<line x1="248.34" y1="241.75" x2="248.54" y2="255.80" stroke="#a4a4a4" stroke-width="1.1" />
<line x1="258.59" y1="241.75" x2="258.79" y2="255.80" stroke="#a4a4a4" stroke-width="1.1" />
<line x1="268.85" y1="241.75" x2="269.05" y2="255.80" stroke="#a4a4a4" stroke-width="1.1" />
<line x1="279.11" y1="241.75" x2="279.31" y2="255.80" stroke="#a4a4a4" stroke-width="1.1" />
<line x1="289.36" y1="241.75" x2="289.56" y2="255.80" stroke="#a4a4a4" stroke-width="1.1" />
<path d="M247.84,221.30 C248.36,221.30 248.78,222.06 249.10,222.81 L249.94,224.70 C250.25,225.65 250.46,226.41 250.67,227.16 C250.88,228.30 251.09,229.24 251.25,230.38 C251.41,231.32 251.62,233.03 251.83,235.01 C251.99,236.90 251.93,238.79 251.72,240.21 L251.20,241.35 L251.93,242.67 L249.94,243.05 L248.68,242.29 L247.00,242.29 L245.74,243.05 L243.74,242.67 L244.48,241.35 L243.95,240.21 C243.74,238.79 243.69,236.90 243.85,235.01 C244.06,233.03 244.27,231.32 244.43,230.38 C244.58,229.24 244.79,228.30 245.00,227.16 C245.21,226.41 245.42,225.65 245.74,224.70 L246.58,222.81 C246.89,222.06 247.31,221.30 247.84,221.30 Z" fill="#ebebef" filter="url(#bl)"/>
<path d="M258.09,221.30 C258.62,221.30 259.04,222.06 259.35,222.81 L260.19,224.70 C260.51,225.65 260.72,226.41 260.93,227.16 C261.14,228.30 261.35,229.24 261.51,230.38 C261.66,231.32 261.87,233.03 262.08,235.01 C262.24,236.90 262.19,238.79 261.98,240.21 L261.45,241.35 L262.19,242.67 L260.19,243.05 L258.93,242.29 L257.25,242.29 L255.99,243.05 L254.00,242.67 L254.73,241.35 L254.21,240.21 C254.00,238.79 253.95,236.90 254.10,235.01 C254.31,233.03 254.52,231.32 254.68,230.38 C254.84,229.24 255.05,228.30 255.26,227.16 C255.47,226.41 255.68,225.65 255.99,224.70 L256.83,222.81 C257.15,222.06 257.57,221.30 258.09,221.30 Z" fill="#ebebef" filter="url(#bl)"/>
<ellipse cx="258.09" cy="226.00" rx="4.40" ry="3.96" fill="#3b22ad" filter="url(#bl)"/>
<circle cx="258.09" cy="225.00" r="2.60" fill="url(#spO)"/>
<ellipse cx="258.09" cy="240.00" rx="3.60" ry="3.24" fill="#3b22ad" filter="url(#bl)"/>
<circle cx="258.09" cy="240.00" r="2.00" fill="url(#spO)"/>
<path d="M268.35,221.30 C268.88,221.30 269.30,222.06 269.61,222.81 L270.45,224.70 C270.77,225.65 270.98,226.41 271.19,227.16 C271.40,228.30 271.61,229.24 271.76,230.38 C271.92,231.32 272.13,233.03 272.34,235.01 C272.50,236.90 272.45,238.79 272.24,240.21 L271.71,241.35 L272.45,242.67 L270.45,243.05 L269.19,242.29 L267.51,242.29 L266.25,243.05 L264.25,242.67 L264.99,241.35 L264.47,240.21 C264.25,238.79 264.20,236.90 264.36,235.01 C264.57,233.03 264.78,231.32 264.94,230.38 C265.10,229.24 265.31,228.30 265.52,227.16 C265.73,226.41 265.94,225.65 266.25,224.70 L267.09,222.81 C267.41,222.06 267.83,221.30 268.35,221.30 Z" fill="#ebebef" filter="url(#bl)"/>
<ellipse cx="268.35" cy="226.00" rx="4.40" ry="3.96" fill="#3b22ad" filter="url(#bl)"/>
<ellipse cx="268.35" cy="239.00" rx="4.00" ry="3.60" fill="#3b22ad" filter="url(#bl)"/>
<circle cx="269.35" cy="239.00" r="2.40" fill="url(#spR)"/>
<path d="M278.61,221.30 C279.13,221.30 279.55,222.06 279.87,222.81 L280.71,224.70 C281.02,225.65 281.23,226.41 281.44,227.16 C281.65,228.30 281.86,229.24 282.02,230.38 C282.18,231.32 282.39,233.03 282.60,235.01 C282.75,236.90 282.70,238.79 282.49,240.21 L281.97,241.35 L282.70,242.67 L280.71,243.05 L279.45,242.29 L277.77,242.29 L276.51,243.05 L274.51,242.67 L275.25,241.35 L274.72,240.21 C274.51,238.79 274.46,236.90 274.62,235.01 C274.83,233.03 275.04,231.32 275.19,230.38 C275.35,229.24 275.56,228.30 275.77,227.16 C275.98,226.41 276.19,225.65 276.51,224.70 L277.35,222.81 C277.66,222.06 278.08,221.30 278.61,221.30 Z" fill="#ebebef" filter="url(#bl)"/>
<ellipse cx="278.61" cy="224.00" rx="2.60" ry="2.34" fill="#3b22ad" filter="url(#bl)"/>
<ellipse cx="278.61" cy="239.00" rx="3.40" ry="3.06" fill="#3b22ad" filter="url(#bl)"/>
<path d="M288.86,221.30 C289.39,221.30 289.81,222.06 290.12,222.81 L290.96,224.70 C291.28,225.65 291.49,226.41 291.70,227.16 C291.91,228.30 292.12,229.24 292.28,230.38 C292.43,231.32 292.64,233.03 292.85,235.01 C293.01,236.90 292.96,238.79 292.75,240.21 L292.22,241.35 L292.96,242.67 L290.96,243.05 L289.70,242.29 L288.02,242.29 L286.76,243.05 L284.77,242.67 L285.50,241.35 L284.98,240.21 C284.77,238.79 284.72,236.90 284.87,235.01 C285.08,233.03 285.29,231.32 285.45,230.38 C285.61,229.24 285.82,228.30 286.03,227.16 C286.24,226.41 286.45,225.65 286.76,224.70 L287.60,222.81 C287.92,222.06 288.34,221.30 288.86,221.30 Z" fill="#3b22ad" filter="url(#bl)"/>
<circle cx="288.86" cy="225.00" r="4.00" fill="url(#spO)"/>
<circle cx="288.86" cy="239.00" r="3.60" fill="url(#spC)"/>
<ellipse cx="288.86" cy="233.00" rx="1.36" ry="1.60" fill="#f0f0f4" filter="url(#bl)"/>
</g>
<g clip-path="url(#c12)">
<rect x="69.40" y="258.00" width="55.50" height="35.00" fill="#1e1560" />
<rect x="69.40" y="280.68" width="55.50" height="12.32" fill="#2c2c2c" />
<line x1="76.84" y1="278.88" x2="77.04" y2="293.00" stroke="#a4a4a4" stroke-width="1.1" />
<line x1="87.24" y1="278.88" x2="87.44" y2="293.00" stroke="#a4a4a4" stroke-width="1.1" />
<line x1="97.65" y1="278.88" x2="97.85" y2="293.00" stroke="#a4a4a4" stroke-width="1.1" />
<line x1="108.06" y1="278.88" x2="108.26" y2="293.00" stroke="#a4a4a4" stroke-width="1.1" />
<line x1="118.46" y1="278.88" x2="118.66" y2="293.00" stroke="#a4a4a4" stroke-width="1.1" />
<path d="M76.34,258.30 C76.86,258.30 77.28,259.06 77.60,259.82 L78.44,261.72 C78.75,262.68 78.96,263.44 79.17,264.20 C79.38,265.34 79.59,266.29 79.75,267.43 C79.91,268.38 80.12,270.09 80.33,272.09 C80.48,273.99 80.43,275.90 80.22,277.32 L79.70,278.46 L80.43,279.79 L78.44,280.18 L77.18,279.41 L75.50,279.41 L74.24,280.18 L72.24,279.79 L72.98,278.46 L72.45,277.32 C72.24,275.90 72.19,273.99 72.35,272.09 C72.56,270.09 72.77,268.38 72.93,267.43 C73.08,266.29 73.29,265.34 73.50,264.20 C73.71,263.44 73.92,262.68 74.24,261.72 L75.08,259.82 C75.39,259.06 75.81,258.30 76.34,258.30 Z" fill="#3b22ad" filter="url(#bl)"/>
<circle cx="76.34" cy="262.50" r="3.60" fill="url(#spR)"/>
<circle cx="75.34" cy="275.00" r="6.60" fill="url(#spR)"/>
<circle cx="77.34" cy="268.00" r="1.60" fill="url(#spC)"/>
<path d="M86.74,258.30 C87.27,258.30 87.69,259.06 88.00,259.82 L88.84,261.72 C89.16,262.68 89.37,263.44 89.58,264.20 C89.79,265.34 90.00,266.29 90.16,267.43 C90.31,268.38 90.52,270.09 90.73,272.09 C90.89,273.99 90.84,275.90 90.63,277.32 L90.10,278.46 L90.84,279.79 L88.84,280.18 L87.58,279.41 L85.90,279.41 L84.64,280.18 L82.65,279.79 L83.38,278.46 L82.86,277.32 C82.65,275.90 82.60,273.99 82.75,272.09 C82.96,270.09 83.17,268.38 83.33,267.43 C83.49,266.29 83.70,265.34 83.91,264.20 C84.12,263.44 84.33,262.68 84.64,261.72 L85.48,259.82 C85.80,259.06 86.22,258.30 86.74,258.30 Z" fill="#3b22ad" filter="url(#bl)"/>
<circle cx="86.74" cy="265.00" r="5.60" fill="url(#spR)"/>
<circle cx="85.74" cy="272.00" r="2.40" fill="url(#spC)"/>
<circle cx="86.74" cy="277.00" r="4.00" fill="url(#spO)"/>
<path d="M97.15,258.30 C97.68,258.30 98.09,259.06 98.41,259.82 L99.25,261.72 C99.57,262.68 99.78,263.44 99.98,264.20 C100.20,265.34 100.41,266.29 100.56,267.43 C100.72,268.38 100.93,270.09 101.14,272.09 C101.30,273.99 101.25,275.90 101.04,277.32 L100.51,278.46 L101.25,279.79 L99.25,280.18 L97.99,279.41 L96.31,279.41 L95.05,280.18 L93.06,279.79 L93.79,278.46 L93.27,277.32 C93.06,275.90 93.00,273.99 93.16,272.09 C93.37,270.09 93.58,268.38 93.74,267.43 C93.90,266.29 94.11,265.34 94.32,264.20 C94.53,263.44 94.73,262.68 95.05,261.72 L95.89,259.82 C96.21,259.06 96.62,258.30 97.15,258.30 Z" fill="#3b22ad" filter="url(#bl)"/>
<circle cx="97.15" cy="262.00" r="4.00" fill="url(#spR)"/>
<circle cx="97.15" cy="267.00" r="2.80" fill="url(#spC)"/>
<circle cx="97.15" cy="271.00" r="3.00" fill="url(#spR)"/>
<circle cx="97.15" cy="277.00" r="4.00" fill="url(#spR)"/>
<path d="M107.56,258.30 C108.08,258.30 108.50,259.06 108.82,259.82 L109.66,261.72 C109.97,262.68 110.18,263.44 110.39,264.20 C110.60,265.34 110.81,266.29 110.97,267.43 C111.13,268.38 111.34,270.09 111.55,272.09 C111.70,273.99 111.65,275.90 111.44,277.32 L110.92,278.46 L111.65,279.79 L109.66,280.18 L108.40,279.41 L106.72,279.41 L105.46,280.18 L103.46,279.79 L104.20,278.46 L103.67,277.32 C103.46,275.90 103.41,273.99 103.57,272.09 C103.78,270.09 103.99,268.38 104.14,267.43 C104.30,266.29 104.51,265.34 104.72,264.20 C104.93,263.44 105.14,262.68 105.46,261.72 L106.30,259.82 C106.61,259.06 107.03,258.30 107.56,258.30 Z" fill="#3b22ad" filter="url(#bl)"/>
<ellipse cx="107.56" cy="264.00" rx="1.36" ry="1.60" fill="#f0f0f4" filter="url(#bl)"/>
<ellipse cx="108.56" cy="267.00" rx="1.27" ry="1.50" fill="#f0f0f4" filter="url(#bl)"/>
<circle cx="106.56" cy="275.00" r="5.60" fill="url(#spR)"/>
<path d="M117.96,258.30 C118.49,258.30 118.91,259.06 119.22,259.82 L120.06,261.72 C120.38,262.68 120.59,263.44 120.80,264.20 C121.01,265.34 121.22,266.29 121.38,267.43 C121.53,268.38 121.74,270.09 121.95,272.09 C122.11,273.99 122.06,275.90 121.85,277.32 L121.32,278.46 L122.06,279.79 L120.06,280.18 L118.80,279.41 L117.12,279.41 L115.86,280.18 L113.87,279.79 L114.60,278.46 L114.08,277.32 C113.87,275.90 113.82,273.99 113.97,272.09 C114.18,270.09 114.39,268.38 114.55,267.43 C114.71,266.29 114.92,265.34 115.13,264.20 C115.34,263.44 115.55,262.68 115.86,261.72 L116.70,259.82 C117.02,259.06 117.44,258.30 117.96,258.30 Z" fill="#3b22ad" filter="url(#bl)"/>
<circle cx="117.96" cy="265.00" r="5.80" fill="url(#spR)"/>
<circle cx="117.96" cy="276.00" r="5.40" fill="url(#spR)"/>
<circle cx="118.96" cy="270.00" r="2.00" fill="url(#spC)"/>
</g>
<g clip-path="url(#c22)">
<rect x="127.50" y="258.00" width="53.50" height="35.00" fill="#070707" />
<rect x="127.50" y="280.68" width="53.50" height="12.32" fill="#2c2c2c" />
<line x1="134.69" y1="278.88" x2="134.89" y2="293.00" stroke="#a4a4a4" stroke-width="1.1" />
<line x1="144.72" y1="278.88" x2="144.92" y2="293.00" stroke="#a4a4a4" stroke-width="1.1" />
<line x1="154.75" y1="278.88" x2="154.95" y2="293.00" stroke="#a4a4a4" stroke-width="1.1" />
<line x1="164.78" y1="278.88" x2="164.98" y2="293.00" stroke="#a4a4a4" stroke-width="1.1" />
<line x1="174.81" y1="278.88" x2="175.01" y2="293.00" stroke="#a4a4a4" stroke-width="1.1" />
<path d="M134.19,258.30 C134.71,258.30 135.13,259.06 135.45,259.82 L136.29,261.72 C136.60,262.68 136.81,263.44 137.02,264.20 C137.23,265.34 137.44,266.29 137.60,267.43 C137.76,268.38 137.97,270.09 138.18,272.09 C138.34,273.99 138.28,275.90 138.07,277.32 L137.55,278.46 L138.28,279.79 L136.29,280.18 L135.03,279.41 L133.35,279.41 L132.09,280.18 L130.09,279.79 L130.83,278.46 L130.30,277.32 C130.09,275.90 130.04,273.99 130.20,272.09 C130.41,270.09 130.62,268.38 130.78,267.43 C130.93,266.29 131.14,265.34 131.35,264.20 C131.56,263.44 131.77,262.68 132.09,261.72 L132.93,259.82 C133.24,259.06 133.66,258.30 134.19,258.30 Z" fill="#ebebef" filter="url(#bl)"/>
<ellipse cx="134.19" cy="263.00" rx="1.40" ry="1.26" fill="#3b22ad" filter="url(#bl)"/>
<path d="M144.22,258.30 C144.74,258.30 145.16,259.06 145.48,259.82 L146.32,261.72 C146.63,262.68 146.84,263.44 147.05,264.20 C147.26,265.34 147.47,266.29 147.63,267.43 C147.79,268.38 148.00,270.09 148.21,272.09 C148.37,273.99 148.31,275.90 148.10,277.32 L147.58,278.46 L148.31,279.79 L146.32,280.18 L145.06,279.41 L143.38,279.41 L142.12,280.18 L140.12,279.79 L140.86,278.46 L140.33,277.32 C140.12,275.90 140.07,273.99 140.23,272.09 C140.44,270.09 140.65,268.38 140.81,267.43 C140.96,266.29 141.17,265.34 141.38,264.20 C141.59,263.44 141.80,262.68 142.12,261.72 L142.96,259.82 C143.27,259.06 143.69,258.30 144.22,258.30 Z" fill="#ebebef" filter="url(#bl)"/>
<circle cx="144.22" cy="262.00" r="1.80" fill="none" stroke="#3b22ad" stroke-width="0.90" filter="url(#bl)"/>
<path d="M154.25,258.30 C154.78,258.30 155.19,259.06 155.51,259.82 L156.35,261.72 C156.66,262.68 156.88,263.44 157.09,264.20 C157.29,265.34 157.50,266.29 157.66,267.43 C157.82,268.38 158.03,270.09 158.24,272.09 C158.40,273.99 158.34,275.90 158.13,277.32 L157.61,278.46 L158.34,279.79 L156.35,280.18 L155.09,279.41 L153.41,279.41 L152.15,280.18 L150.16,279.79 L150.89,278.46 L150.37,277.32 C150.16,275.90 150.10,273.99 150.26,272.09 C150.47,270.09 150.68,268.38 150.84,267.43 C151.00,266.29 151.21,265.34 151.41,264.20 C151.62,263.44 151.84,262.68 152.15,261.72 L152.99,259.82 C153.31,259.06 153.72,258.30 154.25,258.30 Z" fill="#ebebef" filter="url(#bl)"/>
<path d="M164.28,258.30 C164.81,258.30 165.23,259.06 165.54,259.82 L166.38,261.72 C166.70,262.68 166.91,263.44 167.12,264.20 C167.33,265.34 167.54,266.29 167.69,267.43 C167.85,268.38 168.06,270.09 168.27,272.09 C168.43,273.99 168.38,275.90 168.17,277.32 L167.64,278.46 L168.38,279.79 L166.38,280.18 L165.12,279.41 L163.44,279.41 L162.18,280.18 L160.19,279.79 L160.92,278.46 L160.40,277.32 C160.19,275.90 160.13,273.99 160.29,272.09 C160.50,270.09 160.71,268.38 160.87,267.43 C161.03,266.29 161.24,265.34 161.45,264.20 C161.66,263.44 161.87,262.68 162.18,261.72 L163.02,259.82 C163.34,259.06 163.76,258.30 164.28,258.30 Z" fill="#ebebef" filter="url(#bl)"/>
<path d="M174.31,258.30 C174.84,258.30 175.26,259.06 175.57,259.82 L176.41,261.72 C176.73,262.68 176.94,263.44 177.15,264.20 C177.36,265.34 177.57,266.29 177.72,267.43 C177.88,268.38 178.09,270.09 178.30,272.09 C178.46,273.99 178.41,275.90 178.20,277.32 L177.67,278.46 L178.41,279.79 L176.41,280.18 L175.15,279.41 L173.47,279.41 L172.21,280.18 L170.22,279.79 L170.95,278.46 L170.43,277.32 C170.22,275.90 170.16,273.99 170.32,272.09 C170.53,270.09 170.74,268.38 170.90,267.43 C171.06,266.29 171.27,265.34 171.48,264.20 C171.69,263.44 171.90,262.68 172.21,261.72 L173.05,259.82 C173.37,259.06 173.79,258.30 174.31,258.30 Z" fill="#ebebef" filter="url(#bl)"/>
<circle cx="175.81" cy="277.00" r="1.60" fill="url(#spO)"/>
<ellipse cx="175.31" cy="275.00" rx="1.40" ry="1.26" fill="#3b22ad" filter="url(#bl)"/>
</g>
<g clip-path="url(#c32)">
<rect x="184.00" y="258.00" width="53.80" height="35.00" fill="#070707" />
<rect x="184.00" y="280.68" width="53.80" height="12.32" fill="#2c2c2c" />
<line x1="191.22" y1="278.88" x2="191.42" y2="293.00" stroke="#a4a4a4" stroke-width="1.1" />
<line x1="201.31" y1="278.88" x2="201.51" y2="293.00" stroke="#a4a4a4" stroke-width="1.1" />
<line x1="211.40" y1="278.88" x2="211.60" y2="293.00" stroke="#a4a4a4" stroke-width="1.1" />
<line x1="221.49" y1="278.88" x2="221.69" y2="293.00" stroke="#a4a4a4" stroke-width="1.1" />
<line x1="231.58" y1="278.88" x2="231.78" y2="293.00" stroke="#a4a4a4" stroke-width="1.1" />
<path d="M190.72,258.30 C191.25,258.30 191.67,259.06 191.98,259.82 L192.82,261.72 C193.14,262.68 193.35,263.44 193.56,264.20 C193.77,265.34 193.98,266.29 194.14,267.43 C194.29,268.38 194.50,270.09 194.72,272.09 C194.87,273.99 194.82,275.90 194.61,277.32 L194.09,278.46 L194.82,279.79 L192.82,280.18 L191.56,279.41 L189.88,279.41 L188.62,280.18 L186.63,279.79 L187.36,278.46 L186.84,277.32 C186.63,275.90 186.58,273.99 186.73,272.09 C186.94,270.09 187.16,268.38 187.31,267.43 C187.47,266.29 187.68,265.34 187.89,264.20 C188.10,263.44 188.31,262.68 188.62,261.72 L189.47,259.82 C189.78,259.06 190.20,258.30 190.72,258.30 Z" fill="#ebebef" filter="url(#bl)"/>
<ellipse cx="190.22" cy="272.00" rx="3.60" ry="3.24" fill="#3b22ad" filter="url(#bl)"/>
<circle cx="189.72" cy="275.00" r="3.60" fill="url(#spO)"/>
<path d="M200.81,258.30 C201.34,258.30 201.76,259.06 202.07,259.82 L202.91,261.72 C203.23,262.68 203.44,263.44 203.65,264.20 C203.86,265.34 204.07,266.29 204.22,267.43 C204.38,268.38 204.59,270.09 204.80,272.09 C204.96,273.99 204.91,275.90 204.70,277.32 L204.17,278.46 L204.91,279.79 L202.91,280.18 L201.65,279.41 L199.97,279.41 L198.71,280.18 L196.72,279.79 L197.45,278.46 L196.93,277.32 C196.72,275.90 196.66,273.99 196.82,272.09 C197.03,270.09 197.24,268.38 197.40,267.43 C197.56,266.29 197.77,265.34 197.98,264.20 C198.19,263.44 198.40,262.68 198.71,261.72 L199.55,259.82 C199.87,259.06 200.29,258.30 200.81,258.30 Z" fill="#ebebef" filter="url(#bl)"/>
<ellipse cx="200.81" cy="262.00" rx="2.60" ry="2.34" fill="#3b22ad" filter="url(#bl)"/>
<circle cx="200.81" cy="263.00" r="1.80" fill="url(#spO)"/>
<path d="M210.90,258.30 C211.43,258.30 211.84,259.06 212.16,259.82 L213.00,261.72 C213.31,262.68 213.53,263.44 213.74,264.20 C213.94,265.34 214.16,266.29 214.31,267.43 C214.47,268.38 214.68,270.09 214.89,272.09 C215.05,273.99 215.00,275.90 214.78,277.32 L214.26,278.46 L215.00,279.79 L213.00,280.18 L211.74,279.41 L210.06,279.41 L208.80,280.18 L206.81,279.79 L207.54,278.46 L207.02,277.32 C206.81,275.90 206.75,273.99 206.91,272.09 C207.12,270.09 207.33,268.38 207.49,267.43 C207.65,266.29 207.86,265.34 208.06,264.20 C208.28,263.44 208.49,262.68 208.80,261.72 L209.64,259.82 C209.96,259.06 210.38,258.30 210.90,258.30 Z" fill="#3b22ad" filter="url(#bl)"/>
<circle cx="210.90" cy="263.00" r="3.20" fill="url(#spO)"/>
<circle cx="210.90" cy="269.00" r="3.00" fill="url(#spR)"/>
<circle cx="210.90" cy="276.00" r="2.20" fill="none" stroke="#3b22ad" stroke-width="1.10" filter="url(#bl)"/>
<ellipse cx="210.90" cy="272.00" rx="1.36" ry="1.60" fill="#f0f0f4" filter="url(#bl)"/>
<path d="M220.99,258.30 C221.51,258.30 221.93,259.06 222.25,259.82 L223.09,261.72 C223.40,262.68 223.61,263.44 223.82,264.20 C224.03,265.34 224.24,266.29 224.40,267.43 C224.56,268.38 224.77,270.09 224.98,272.09 C225.14,273.99 225.08,275.90 224.87,277.32 L224.35,278.46 L225.08,279.79 L223.09,280.18 L221.83,279.41 L220.15,279.41 L218.89,280.18 L216.89,279.79 L217.63,278.46 L217.10,277.32 C216.89,275.90 216.84,273.99 217.00,272.09 C217.21,270.09 217.42,268.38 217.58,267.43 C217.73,266.29 217.94,265.34 218.15,264.20 C218.36,263.44 218.57,262.68 218.89,261.72 L219.73,259.82 C220.04,259.06 220.46,258.30 220.99,258.30 Z" fill="#3b22ad" filter="url(#bl)"/>
<circle cx="220.99" cy="262.00" r="4.00" fill="url(#spO)"/>
<circle cx="220.99" cy="269.00" r="3.20" fill="url(#spR)"/>
<ellipse cx="220.99" cy="274.00" rx="2.04" ry="2.40" fill="#f0f0f4" filter="url(#bl)"/>
<path d="M231.08,258.30 C231.60,258.30 232.02,259.06 232.34,259.82 L233.18,261.72 C233.49,262.68 233.70,263.44 233.91,264.20 C234.12,265.34 234.33,266.29 234.49,267.43 C234.65,268.38 234.86,270.09 235.07,272.09 C235.22,273.99 235.17,275.90 234.96,277.32 L234.44,278.46 L235.17,279.79 L233.18,280.18 L231.92,279.41 L230.24,279.41 L228.98,280.18 L226.98,279.79 L227.72,278.46 L227.19,277.32 C226.98,275.90 226.93,273.99 227.09,272.09 C227.30,270.09 227.51,268.38 227.66,267.43 C227.82,266.29 228.03,265.34 228.24,264.20 C228.45,263.44 228.66,262.68 228.98,261.72 L229.82,259.82 C230.13,259.06 230.55,258.30 231.08,258.30 Z" fill="#ebebef" filter="url(#bl)"/>
<ellipse cx="231.08" cy="269.00" rx="2.20" ry="1.98" fill="#3b22ad" filter="url(#bl)"/>
<ellipse cx="231.08" cy="262.00" rx="1.60" ry="1.44" fill="#3b22ad" filter="url(#bl)"/>
</g>
<g clip-path="url(#c42)">
<rect x="241.00" y="258.00" width="54.70" height="35.00" fill="#070707" />
<rect x="241.00" y="280.68" width="54.70" height="12.32" fill="#2c2c2c" />
<line x1="248.34" y1="278.88" x2="248.54" y2="293.00" stroke="#a4a4a4" stroke-width="1.1" />
<line x1="258.59" y1="278.88" x2="258.79" y2="293.00" stroke="#a4a4a4" stroke-width="1.1" />
<line x1="268.85" y1="278.88" x2="269.05" y2="293.00" stroke="#a4a4a4" stroke-width="1.1" />
<line x1="279.11" y1="278.88" x2="279.31" y2="293.00" stroke="#a4a4a4" stroke-width="1.1" />
<line x1="289.36" y1="278.88" x2="289.56" y2="293.00" stroke="#a4a4a4" stroke-width="1.1" />
<path d="M247.84,258.30 C248.36,258.30 248.78,259.06 249.10,259.82 L249.94,261.72 C250.25,262.68 250.46,263.44 250.67,264.20 C250.88,265.34 251.09,266.29 251.25,267.43 C251.41,268.38 251.62,270.09 251.83,272.09 C251.99,273.99 251.93,275.90 251.72,277.32 L251.20,278.46 L251.93,279.79 L249.94,280.18 L248.68,279.41 L247.00,279.41 L245.74,280.18 L243.74,279.79 L244.48,278.46 L243.95,277.32 C243.74,275.90 243.69,273.99 243.85,272.09 C244.06,270.09 244.27,268.38 244.43,267.43 C244.58,266.29 244.79,265.34 245.00,264.20 C245.21,263.44 245.42,262.68 245.74,261.72 L246.58,259.82 C246.89,259.06 247.31,258.30 247.84,258.30 Z" fill="#ebebef" filter="url(#bl)"/>
<path d="M258.09,258.30 C258.62,258.30 259.04,259.06 259.35,259.82 L260.19,261.72 C260.51,262.68 260.72,263.44 260.93,264.20 C261.14,265.34 261.35,266.29 261.51,267.43 C261.66,268.38 261.87,270.09 262.08,272.09 C262.24,273.99 262.19,275.90 261.98,277.32 L261.45,278.46 L262.19,279.79 L260.19,280.18 L258.93,279.41 L257.25,279.41 L255.99,280.18 L254.00,279.79 L254.73,278.46 L254.21,277.32 C254.00,275.90 253.95,273.99 254.10,272.09 C254.31,270.09 254.52,268.38 254.68,267.43 C254.84,266.29 255.05,265.34 255.26,264.20 C255.47,263.44 255.68,262.68 255.99,261.72 L256.83,259.82 C257.15,259.06 257.57,258.30 258.09,258.30 Z" fill="#3b22ad" filter="url(#bl)"/>
<circle cx="258.09" cy="267.00" r="3.60" fill="url(#spO)"/>
<circle cx="258.09" cy="277.00" r="4.50" fill="url(#spR)"/>
<path d="M268.35,258.30 C268.88,258.30 269.30,259.06 269.61,259.82 L270.45,261.72 C270.77,262.68 270.98,263.44 271.19,264.20 C271.40,265.34 271.61,266.29 271.76,267.43 C271.92,268.38 272.13,270.09 272.34,272.09 C272.50,273.99 272.45,275.90 272.24,277.32 L271.71,278.46 L272.45,279.79 L270.45,280.18 L269.19,279.41 L267.51,279.41 L266.25,280.18 L264.25,279.79 L264.99,278.46 L264.47,277.32 C264.25,275.90 264.20,273.99 264.36,272.09 C264.57,270.09 264.78,268.38 264.94,267.43 C265.10,266.29 265.31,265.34 265.52,264.20 C265.73,263.44 265.94,262.68 266.25,261.72 L267.09,259.82 C267.41,259.06 267.83,258.30 268.35,258.30 Z" fill="#3b22ad" filter="url(#bl)"/>
<ellipse cx="268.35" cy="272.00" rx="2.55" ry="3.00" fill="#f0f0f4" filter="url(#bl)"/>
<ellipse cx="269.35" cy="275.00" rx="1.70" ry="2.00" fill="#f0f0f4" filter="url(#bl)"/>
<circle cx="268.35" cy="263.00" r="2.00" fill="url(#spC)"/>
<path d="M278.61,258.30 C279.13,258.30 279.55,259.06 279.87,259.82 L280.71,261.72 C281.02,262.68 281.23,263.44 281.44,264.20 C281.65,265.34 281.86,266.29 282.02,267.43 C282.18,268.38 282.39,270.09 282.60,272.09 C282.75,273.99 282.70,275.90 282.49,277.32 L281.97,278.46 L282.70,279.79 L280.71,280.18 L279.45,279.41 L277.77,279.41 L276.51,280.18 L274.51,279.79 L275.25,278.46 L274.72,277.32 C274.51,275.90 274.46,273.99 274.62,272.09 C274.83,270.09 275.04,268.38 275.19,267.43 C275.35,266.29 275.56,265.34 275.77,264.20 C275.98,263.44 276.19,262.68 276.51,261.72 L277.35,259.82 C277.66,259.06 278.08,258.30 278.61,258.30 Z" fill="#ebebef" filter="url(#bl)"/>
<circle cx="278.61" cy="261.00" r="3.00" fill="url(#spO)"/>
<ellipse cx="280.11" cy="266.00" rx="2.00" ry="1.80" fill="#3b22ad" filter="url(#bl)"/>
<path d="M288.86,258.30 C289.39,258.30 289.81,259.06 290.12,259.82 L290.96,261.72 C291.28,262.68 291.49,263.44 291.70,264.20 C291.91,265.34 292.12,266.29 292.28,267.43 C292.43,268.38 292.64,270.09 292.85,272.09 C293.01,273.99 292.96,275.90 292.75,277.32 L292.22,278.46 L292.96,279.79 L290.96,280.18 L289.70,279.41 L288.02,279.41 L286.76,280.18 L284.77,279.79 L285.50,278.46 L284.98,277.32 C284.77,275.90 284.72,273.99 284.87,272.09 C285.08,270.09 285.29,268.38 285.45,267.43 C285.61,266.29 285.82,265.34 286.03,264.20 C286.24,263.44 286.45,262.68 286.76,261.72 L287.60,259.82 C287.92,259.06 288.34,258.30 288.86,258.30 Z" fill="#3b22ad" filter="url(#bl)"/>
<circle cx="288.86" cy="263.00" r="6.00" fill="url(#spR)"/>
<ellipse cx="287.86" cy="272.00" rx="1.36" ry="1.60" fill="#f0f0f4" filter="url(#bl)"/>
<ellipse cx="289.86" cy="275.00" rx="1.19" ry="1.40" fill="#f0f0f4" filter="url(#bl)"/>
</g>
<g clip-path="url(#c23)">
<rect x="127.50" y="294.40" width="53.50" height="35.10" fill="#070707" />
<rect x="127.50" y="317.14" width="53.50" height="12.36" fill="#2c2c2c" />
<line x1="134.69" y1="315.34" x2="134.89" y2="329.50" stroke="#a4a4a4" stroke-width="1.1" />
<line x1="144.72" y1="315.34" x2="144.92" y2="329.50" stroke="#a4a4a4" stroke-width="1.1" />
<line x1="154.75" y1="315.34" x2="154.95" y2="329.50" stroke="#a4a4a4" stroke-width="1.1" />
<line x1="164.78" y1="315.34" x2="164.98" y2="329.50" stroke="#a4a4a4" stroke-width="1.1" />
<line x1="174.81" y1="315.34" x2="175.01" y2="329.50" stroke="#a4a4a4" stroke-width="1.1" />
<path d="M134.19,294.70 C134.71,294.70 135.13,295.46 135.45,296.23 L136.29,298.13 C136.60,299.09 136.81,299.85 137.02,300.61 C137.23,301.76 137.44,302.71 137.60,303.86 C137.76,304.81 137.97,306.53 138.18,308.53 C138.34,310.44 138.28,312.35 138.07,313.78 L137.55,314.92 L138.28,316.26 L136.29,316.64 L135.03,315.87 L133.35,315.87 L132.09,316.64 L130.09,316.26 L130.83,314.92 L130.30,313.78 C130.09,312.35 130.04,310.44 130.20,308.53 C130.41,306.53 130.62,304.81 130.78,303.86 C130.93,302.71 131.14,301.76 131.35,300.61 C131.56,299.85 131.77,299.09 132.09,298.13 L132.93,296.23 C133.24,295.46 133.66,294.70 134.19,294.70 Z" fill="#ebebef" filter="url(#bl)"/>
<ellipse cx="133.19" cy="300.40" rx="2.60" ry="2.34" fill="#3b22ad" filter="url(#bl)"/>
<path d="M144.22,294.70 C144.74,294.70 145.16,295.46 145.48,296.23 L146.32,298.13 C146.63,299.09 146.84,299.85 147.05,300.61 C147.26,301.76 147.47,302.71 147.63,303.86 C147.79,304.81 148.00,306.53 148.21,308.53 C148.37,310.44 148.31,312.35 148.10,313.78 L147.58,314.92 L148.31,316.26 L146.32,316.64 L145.06,315.87 L143.38,315.87 L142.12,316.64 L140.12,316.26 L140.86,314.92 L140.33,313.78 C140.12,312.35 140.07,310.44 140.23,308.53 C140.44,306.53 140.65,304.81 140.81,303.86 C140.96,302.71 141.17,301.76 141.38,300.61 C141.59,299.85 141.80,299.09 142.12,298.13 L142.96,296.23 C143.27,295.46 143.69,294.70 144.22,294.70 Z" fill="#ebebef" filter="url(#bl)"/>
<path d="M154.25,294.70 C154.78,294.70 155.19,295.46 155.51,296.23 L156.35,298.13 C156.66,299.09 156.88,299.85 157.09,300.61 C157.29,301.76 157.50,302.71 157.66,303.86 C157.82,304.81 158.03,306.53 158.24,308.53 C158.40,310.44 158.34,312.35 158.13,313.78 L157.61,314.92 L158.34,316.26 L156.35,316.64 L155.09,315.87 L153.41,315.87 L152.15,316.64 L150.16,316.26 L150.89,314.92 L150.37,313.78 C150.16,312.35 150.10,310.44 150.26,308.53 C150.47,306.53 150.68,304.81 150.84,303.86 C151.00,302.71 151.21,301.76 151.41,300.61 C151.62,299.85 151.84,299.09 152.15,298.13 L152.99,296.23 C153.31,295.46 153.72,294.70 154.25,294.70 Z" fill="#ebebef" filter="url(#bl)"/>
<path d="M164.28,294.70 C164.81,294.70 165.23,295.46 165.54,296.23 L166.38,298.13 C166.70,299.09 166.91,299.85 167.12,300.61 C167.33,301.76 167.54,302.71 167.69,303.86 C167.85,304.81 168.06,306.53 168.27,308.53 C168.43,310.44 168.38,312.35 168.17,313.78 L167.64,314.92 L168.38,316.26 L166.38,316.64 L165.12,315.87 L163.44,315.87 L162.18,316.64 L160.19,316.26 L160.92,314.92 L160.40,313.78 C160.19,312.35 160.13,310.44 160.29,308.53 C160.50,306.53 160.71,304.81 160.87,303.86 C161.03,302.71 161.24,301.76 161.45,300.61 C161.66,299.85 161.87,299.09 162.18,298.13 L163.02,296.23 C163.34,295.46 163.76,294.70 164.28,294.70 Z" fill="#ebebef" filter="url(#bl)"/>
<path d="M174.31,294.70 C174.84,294.70 175.26,295.46 175.57,296.23 L176.41,298.13 C176.73,299.09 176.94,299.85 177.15,300.61 C177.36,301.76 177.57,302.71 177.72,303.86 C177.88,304.81 178.09,306.53 178.30,308.53 C178.46,310.44 178.41,312.35 178.20,313.78 L177.67,314.92 L178.41,316.26 L176.41,316.64 L175.15,315.87 L173.47,315.87 L172.21,316.64 L170.22,316.26 L170.95,314.92 L170.43,313.78 C170.22,312.35 170.16,310.44 170.32,308.53 C170.53,306.53 170.74,304.81 170.90,303.86 C171.06,302.71 171.27,301.76 171.48,300.61 C171.69,299.85 171.90,299.09 172.21,298.13 L173.05,296.23 C173.37,295.46 173.79,294.70 174.31,294.70 Z" fill="#ebebef" filter="url(#bl)"/>
<ellipse cx="175.31" cy="312.40" rx="3.00" ry="2.70" fill="#3b22ad" filter="url(#bl)"/>
</g>
<g clip-path="url(#c33)">
<rect x="184.00" y="294.40" width="53.80" height="35.10" fill="#070707" />
<rect x="184.00" y="317.14" width="53.80" height="12.36" fill="#2c2c2c" />
<line x1="191.00" y1="315.34" x2="191.20" y2="329.50" stroke="#a4a4a4" stroke-width="1.1" />
<line x1="201.30" y1="315.34" x2="201.50" y2="329.50" stroke="#a4a4a4" stroke-width="1.1" />
<line x1="211.40" y1="315.34" x2="211.60" y2="329.50" stroke="#a4a4a4" stroke-width="1.1" />
<line x1="221.40" y1="315.34" x2="221.60" y2="329.50" stroke="#a4a4a4" stroke-width="1.1" />
<line x1="231.50" y1="315.34" x2="231.70" y2="329.50" stroke="#a4a4a4" stroke-width="1.1" />
<path d="M190.50,294.70 C191.03,294.70 191.44,295.46 191.76,296.23 L192.60,298.13 C192.91,299.09 193.12,299.85 193.34,300.61 C193.54,301.76 193.75,302.71 193.91,303.86 C194.07,304.81 194.28,306.53 194.49,308.53 C194.65,310.44 194.59,312.35 194.38,313.78 L193.86,314.92 L194.59,316.26 L192.60,316.64 L191.34,315.87 L189.66,315.87 L188.40,316.64 L186.41,316.26 L187.14,314.92 L186.62,313.78 C186.41,312.35 186.35,310.44 186.51,308.53 C186.72,306.53 186.93,304.81 187.09,303.86 C187.25,302.71 187.46,301.76 187.66,300.61 C187.88,299.85 188.09,299.09 188.40,298.13 L189.24,296.23 C189.56,295.46 189.97,294.70 190.50,294.70 Z" fill="#ebebef" filter="url(#bl)"/>
<ellipse cx="189.50" cy="310.40" rx="3.60" ry="3.24" fill="#3b22ad" filter="url(#bl)"/>
<circle cx="189.50" cy="310.40" r="2.80" fill="url(#spR)"/>
<path d="M200.80,294.70 C201.33,294.70 201.75,295.46 202.06,296.23 L202.90,298.13 C203.22,299.09 203.43,299.85 203.64,300.61 C203.84,301.76 204.06,302.71 204.21,303.86 C204.37,304.81 204.58,306.53 204.79,308.53 C204.95,310.44 204.90,312.35 204.69,313.78 L204.16,314.92 L204.90,316.26 L202.90,316.64 L201.64,315.87 L199.96,315.87 L198.70,316.64 L196.71,316.26 L197.44,314.92 L196.92,313.78 C196.71,312.35 196.65,310.44 196.81,308.53 C197.02,306.53 197.23,304.81 197.39,303.86 C197.55,302.71 197.76,301.76 197.97,300.61 C198.18,299.85 198.39,299.09 198.70,298.13 L199.54,296.23 C199.86,295.46 200.28,294.70 200.80,294.70 Z" fill="#ebebef" filter="url(#bl)"/>
<path d="M210.90,294.70 C211.43,294.70 211.84,295.46 212.16,296.23 L213.00,298.13 C213.31,299.09 213.53,299.85 213.74,300.61 C213.94,301.76 214.16,302.71 214.31,303.86 C214.47,304.81 214.68,306.53 214.89,308.53 C215.05,310.44 215.00,312.35 214.78,313.78 L214.26,314.92 L215.00,316.26 L213.00,316.64 L211.74,315.87 L210.06,315.87 L208.80,316.64 L206.81,316.26 L207.54,314.92 L207.02,313.78 C206.81,312.35 206.75,310.44 206.91,308.53 C207.12,306.53 207.33,304.81 207.49,303.86 C207.65,302.71 207.86,301.76 208.06,300.61 C208.28,299.85 208.49,299.09 208.80,298.13 L209.64,296.23 C209.96,295.46 210.38,294.70 210.90,294.70 Z" fill="#ebebef" filter="url(#bl)"/>
<ellipse cx="210.90" cy="300.40" rx="6.50" ry="5.85" fill="#3b22ad" filter="url(#bl)"/>
<circle cx="210.90" cy="300.40" r="4.20" fill="url(#spR)"/>
<ellipse cx="212.40" cy="310.40" rx="2.40" ry="2.16" fill="#3b22ad" filter="url(#bl)"/>
<path d="M220.90,294.70 C221.43,294.70 221.84,295.46 222.16,296.23 L223.00,298.13 C223.31,299.09 223.53,299.85 223.74,300.61 C223.94,301.76 224.16,302.71 224.31,303.86 C224.47,304.81 224.68,306.53 224.89,308.53 C225.05,310.44 225.00,312.35 224.78,313.78 L224.26,314.92 L225.00,316.26 L223.00,316.64 L221.74,315.87 L220.06,315.87 L218.80,316.64 L216.81,316.26 L217.54,314.92 L217.02,313.78 C216.81,312.35 216.75,310.44 216.91,308.53 C217.12,306.53 217.33,304.81 217.49,303.86 C217.65,302.71 217.86,301.76 218.06,300.61 C218.28,299.85 218.49,299.09 218.80,298.13 L219.64,296.23 C219.96,295.46 220.38,294.70 220.90,294.70 Z" fill="#ebebef" filter="url(#bl)"/>
<ellipse cx="220.90" cy="299.40" rx="5.50" ry="4.95" fill="#3b22ad" filter="url(#bl)"/>
<circle cx="220.90" cy="299.40" r="3.60" fill="url(#spO)"/>
<ellipse cx="221.40" cy="308.40" rx="2.20" ry="1.98" fill="#3b22ad" filter="url(#bl)"/>
<ellipse cx="219.90" cy="312.40" rx="1.80" ry="1.62" fill="#3b22ad" filter="url(#bl)"/>
<path d="M231.00,294.70 C231.53,294.70 231.94,295.46 232.26,296.23 L233.10,298.13 C233.41,299.09 233.62,299.85 233.84,300.61 C234.04,301.76 234.25,302.71 234.41,303.86 C234.57,304.81 234.78,306.53 234.99,308.53 C235.15,310.44 235.09,312.35 234.88,313.78 L234.36,314.92 L235.09,316.26 L233.10,316.64 L231.84,315.87 L230.16,315.87 L228.90,316.64 L226.91,316.26 L227.64,314.92 L227.12,313.78 C226.91,312.35 226.85,310.44 227.01,308.53 C227.22,306.53 227.43,304.81 227.59,303.86 C227.75,302.71 227.96,301.76 228.16,300.61 C228.38,299.85 228.59,299.09 228.90,298.13 L229.74,296.23 C230.06,295.46 230.47,294.70 231.00,294.70 Z" fill="#ebebef" filter="url(#bl)"/>
<circle cx="231.00" cy="306.40" r="2.30" fill="none" stroke="#3b22ad" stroke-width="1.15" filter="url(#bl)"/>
</g>
<g clip-path="url(#c24)">
<rect x="127.50" y="331.40" width="53.50" height="35.10" fill="#070707" />
<rect x="127.50" y="354.14" width="53.50" height="12.36" fill="#2c2c2c" />
<line x1="134.69" y1="352.34" x2="134.89" y2="366.50" stroke="#a4a4a4" stroke-width="1.1" />
<line x1="144.72" y1="352.34" x2="144.92" y2="366.50" stroke="#a4a4a4" stroke-width="1.1" />
<line x1="154.75" y1="352.34" x2="154.95" y2="366.50" stroke="#a4a4a4" stroke-width="1.1" />
<line x1="164.78" y1="352.34" x2="164.98" y2="366.50" stroke="#a4a4a4" stroke-width="1.1" />
<line x1="174.81" y1="352.34" x2="175.01" y2="366.50" stroke="#a4a4a4" stroke-width="1.1" />
<path d="M134.19,331.70 C134.71,331.70 135.13,332.46 135.45,333.23 L136.29,335.13 C136.60,336.09 136.81,336.85 137.02,337.61 C137.23,338.76 137.44,339.71 137.60,340.86 C137.76,341.81 137.97,343.53 138.18,345.53 C138.34,347.44 138.28,349.35 138.07,350.78 L137.55,351.92 L138.28,353.26 L136.29,353.64 L135.03,352.87 L133.35,352.87 L132.09,353.64 L130.09,353.26 L130.83,351.92 L130.30,350.78 C130.09,349.35 130.04,347.44 130.20,345.53 C130.41,343.53 130.62,341.81 130.78,340.86 C130.93,339.71 131.14,338.76 131.35,337.61 C131.56,336.85 131.77,336.09 132.09,335.13 L132.93,333.23 C133.24,332.46 133.66,331.70 134.19,331.70 Z" fill="#ebebef" filter="url(#bl)"/>
<ellipse cx="133.19" cy="335.40" rx="2.60" ry="2.34" fill="#3b22ad" filter="url(#bl)"/>
<path d="M144.22,331.70 C144.74,331.70 145.16,332.46 145.48,333.23 L146.32,335.13 C146.63,336.09 146.84,336.85 147.05,337.61 C147.26,338.76 147.47,339.71 147.63,340.86 C147.79,341.81 148.00,343.53 148.21,345.53 C148.37,347.44 148.31,349.35 148.10,350.78 L147.58,351.92 L148.31,353.26 L146.32,353.64 L145.06,352.87 L143.38,352.87 L142.12,353.64 L140.12,353.26 L140.86,351.92 L140.33,350.78 C140.12,349.35 140.07,347.44 140.23,345.53 C140.44,343.53 140.65,341.81 140.81,340.86 C140.96,339.71 141.17,338.76 141.38,337.61 C141.59,336.85 141.80,336.09 142.12,335.13 L142.96,333.23 C143.27,332.46 143.69,331.70 144.22,331.70 Z" fill="#ebebef" filter="url(#bl)"/>
<path d="M154.25,331.70 C154.78,331.70 155.19,332.46 155.51,333.23 L156.35,335.13 C156.66,336.09 156.88,336.85 157.09,337.61 C157.29,338.76 157.50,339.71 157.66,340.86 C157.82,341.81 158.03,343.53 158.24,345.53 C158.40,347.44 158.34,349.35 158.13,350.78 L157.61,351.92 L158.34,353.26 L156.35,353.64 L155.09,352.87 L153.41,352.87 L152.15,353.64 L150.16,353.26 L150.89,351.92 L150.37,350.78 C150.16,349.35 150.10,347.44 150.26,345.53 C150.47,343.53 150.68,341.81 150.84,340.86 C151.00,339.71 151.21,338.76 151.41,337.61 C151.62,336.85 151.84,336.09 152.15,335.13 L152.99,333.23 C153.31,332.46 153.72,331.70 154.25,331.70 Z" fill="#ebebef" filter="url(#bl)"/>
<path d="M164.28,331.70 C164.81,331.70 165.23,332.46 165.54,333.23 L166.38,335.13 C166.70,336.09 166.91,336.85 167.12,337.61 C167.33,338.76 167.54,339.71 167.69,340.86 C167.85,341.81 168.06,343.53 168.27,345.53 C168.43,347.44 168.38,349.35 168.17,350.78 L167.64,351.92 L168.38,353.26 L166.38,353.64 L165.12,352.87 L163.44,352.87 L162.18,353.64 L160.19,353.26 L160.92,351.92 L160.40,350.78 C160.19,349.35 160.13,347.44 160.29,345.53 C160.50,343.53 160.71,341.81 160.87,340.86 C161.03,339.71 161.24,338.76 161.45,337.61 C161.66,336.85 161.87,336.09 162.18,335.13 L163.02,333.23 C163.34,332.46 163.76,331.70 164.28,331.70 Z" fill="#ebebef" filter="url(#bl)"/>
<path d="M174.31,331.70 C174.84,331.70 175.26,332.46 175.57,333.23 L176.41,335.13 C176.73,336.09 176.94,336.85 177.15,337.61 C177.36,338.76 177.57,339.71 177.72,340.86 C177.88,341.81 178.09,343.53 178.30,345.53 C178.46,347.44 178.41,349.35 178.20,350.78 L177.67,351.92 L178.41,353.26 L176.41,353.64 L175.15,352.87 L173.47,352.87 L172.21,353.64 L170.22,353.26 L170.95,351.92 L170.43,350.78 C170.22,349.35 170.16,347.44 170.32,345.53 C170.53,343.53 170.74,341.81 170.90,340.86 C171.06,339.71 171.27,338.76 171.48,337.61 C171.69,336.85 171.90,336.09 172.21,335.13 L173.05,333.23 C173.37,332.46 173.79,331.70 174.31,331.70 Z" fill="#ebebef" filter="url(#bl)"/>
<ellipse cx="175.31" cy="347.40" rx="3.40" ry="3.06" fill="#3b22ad" filter="url(#bl)"/>
</g>
<g clip-path="url(#c34)">
<rect x="184.00" y="331.40" width="53.80" height="35.10" fill="#070707" />
<rect x="184.00" y="354.14" width="53.80" height="12.36" fill="#2c2c2c" />
<line x1="191.00" y1="352.34" x2="191.20" y2="366.50" stroke="#a4a4a4" stroke-width="1.1" />
<line x1="201.30" y1="352.34" x2="201.50" y2="366.50" stroke="#a4a4a4" stroke-width="1.1" />
<line x1="211.40" y1="352.34" x2="211.60" y2="366.50" stroke="#a4a4a4" stroke-width="1.1" />
<line x1="221.40" y1="352.34" x2="221.60" y2="366.50" stroke="#a4a4a4" stroke-width="1.1" />
<line x1="231.50" y1="352.34" x2="231.70" y2="366.50" stroke="#a4a4a4" stroke-width="1.1" />
<path d="M190.50,331.70 C191.03,331.70 191.44,332.46 191.76,333.23 L192.60,335.13 C192.91,336.09 193.12,336.85 193.34,337.61 C193.54,338.76 193.75,339.71 193.91,340.86 C194.07,341.81 194.28,343.53 194.49,345.53 C194.65,347.44 194.59,349.35 194.38,350.78 L193.86,351.92 L194.59,353.26 L192.60,353.64 L191.34,352.87 L189.66,352.87 L188.40,353.64 L186.41,353.26 L187.14,351.92 L186.62,350.78 C186.41,349.35 186.35,347.44 186.51,345.53 C186.72,343.53 186.93,341.81 187.09,340.86 C187.25,339.71 187.46,338.76 187.66,337.61 C187.88,336.85 188.09,336.09 188.40,335.13 L189.24,333.23 C189.56,332.46 189.97,331.70 190.50,331.70 Z" fill="#ebebef" filter="url(#bl)"/>
<ellipse cx="189.00" cy="347.40" rx="3.60" ry="3.24" fill="#3b22ad" filter="url(#bl)"/>
<circle cx="189.00" cy="348.40" r="2.80" fill="url(#spR)"/>
<path d="M200.80,331.70 C201.33,331.70 201.75,332.46 202.06,333.23 L202.90,335.13 C203.22,336.09 203.43,336.85 203.64,337.61 C203.84,338.76 204.06,339.71 204.21,340.86 C204.37,341.81 204.58,343.53 204.79,345.53 C204.95,347.44 204.90,349.35 204.69,350.78 L204.16,351.92 L204.90,353.26 L202.90,353.64 L201.64,352.87 L199.96,352.87 L198.70,353.64 L196.71,353.26 L197.44,351.92 L196.92,350.78 C196.71,349.35 196.65,347.44 196.81,345.53 C197.02,343.53 197.23,341.81 197.39,340.86 C197.55,339.71 197.76,338.76 197.97,337.61 C198.18,336.85 198.39,336.09 198.70,335.13 L199.54,333.23 C199.86,332.46 200.28,331.70 200.80,331.70 Z" fill="#ebebef" filter="url(#bl)"/>
<path d="M210.90,331.70 C211.43,331.70 211.84,332.46 212.16,333.23 L213.00,335.13 C213.31,336.09 213.53,336.85 213.74,337.61 C213.94,338.76 214.16,339.71 214.31,340.86 C214.47,341.81 214.68,343.53 214.89,345.53 C215.05,347.44 215.00,349.35 214.78,350.78 L214.26,351.92 L215.00,353.26 L213.00,353.64 L211.74,352.87 L210.06,352.87 L208.80,353.64 L206.81,353.26 L207.54,351.92 L207.02,350.78 C206.81,349.35 206.75,347.44 206.91,345.53 C207.12,343.53 207.33,341.81 207.49,340.86 C207.65,339.71 207.86,338.76 208.06,337.61 C208.28,336.85 208.49,336.09 208.80,335.13 L209.64,333.23 C209.96,332.46 210.38,331.70 210.90,331.70 Z" fill="#ebebef" filter="url(#bl)"/>
<ellipse cx="210.90" cy="336.40" rx="7.50" ry="6.75" fill="#3b22ad" filter="url(#bl)"/>
<circle cx="210.90" cy="336.40" r="6.80" fill="url(#spR)"/>
<path d="M220.90,331.70 C221.43,331.70 221.84,332.46 222.16,333.23 L223.00,335.13 C223.31,336.09 223.53,336.85 223.74,337.61 C223.94,338.76 224.16,339.71 224.31,340.86 C224.47,341.81 224.68,343.53 224.89,345.53 C225.05,347.44 225.00,349.35 224.78,350.78 L224.26,351.92 L225.00,353.26 L223.00,353.64 L221.74,352.87 L220.06,352.87 L218.80,353.64 L216.81,353.26 L217.54,351.92 L217.02,350.78 C216.81,349.35 216.75,347.44 216.91,345.53 C217.12,343.53 217.33,341.81 217.49,340.86 C217.65,339.71 217.86,338.76 218.06,337.61 C218.28,336.85 218.49,336.09 218.80,335.13 L219.64,333.23 C219.96,332.46 220.38,331.70 220.90,331.70 Z" fill="#ebebef" filter="url(#bl)"/>
<ellipse cx="220.90" cy="335.40" rx="4.00" ry="3.60" fill="#3b22ad" filter="url(#bl)"/>
<circle cx="220.90" cy="335.40" r="3.20" fill="url(#spO)"/>
<path d="M231.00,331.70 C231.53,331.70 231.94,332.46 232.26,333.23 L233.10,335.13 C233.41,336.09 233.62,336.85 233.84,337.61 C234.04,338.76 234.25,339.71 234.41,340.86 C234.57,341.81 234.78,343.53 234.99,345.53 C235.15,347.44 235.09,349.35 234.88,350.78 L234.36,351.92 L235.09,353.26 L233.10,353.64 L231.84,352.87 L230.16,352.87 L228.90,353.64 L226.91,353.26 L227.64,351.92 L227.12,350.78 C226.91,349.35 226.85,347.44 227.01,345.53 C227.22,343.53 227.43,341.81 227.59,340.86 C227.75,339.71 227.96,338.76 228.16,337.61 C228.38,336.85 228.59,336.09 228.90,335.13 L229.74,333.23 C230.06,332.46 230.47,331.70 231.00,331.70 Z" fill="#ebebef" filter="url(#bl)"/>
<circle cx="231.00" cy="342.40" r="2.40" fill="none" stroke="#3b22ad" stroke-width="1.20" filter="url(#bl)"/>
</g>
<g clip-path="url(#c44)">
<rect x="241.00" y="331.40" width="54.70" height="35.10" fill="#070707" />
<rect x="241.00" y="354.14" width="54.70" height="12.36" fill="#2c2c2c" />
<line x1="250.00" y1="352.34" x2="250.20" y2="366.50" stroke="#a4a4a4" stroke-width="1.1" />
<line x1="260.50" y1="352.34" x2="260.70" y2="366.50" stroke="#a4a4a4" stroke-width="1.1" />
<line x1="269.10" y1="352.34" x2="269.30" y2="366.50" stroke="#a4a4a4" stroke-width="1.1" />
<line x1="279.50" y1="352.34" x2="279.70" y2="366.50" stroke="#a4a4a4" stroke-width="1.1" />
<path d="M249.50,331.70 C250.03,331.70 250.44,332.46 250.76,333.23 L251.60,335.13 C251.91,336.09 252.12,336.85 252.34,337.61 C252.54,338.76 252.75,339.71 252.91,340.86 C253.07,341.81 253.28,343.53 253.49,345.53 C253.65,347.44 253.59,349.35 253.38,350.78 L252.86,351.92 L253.59,353.26 L251.60,353.64 L250.34,352.87 L248.66,352.87 L247.40,353.64 L245.41,353.26 L246.14,351.92 L245.62,350.78 C245.41,349.35 245.35,347.44 245.51,345.53 C245.72,343.53 245.93,341.81 246.09,340.86 C246.25,339.71 246.46,338.76 246.66,337.61 C246.88,336.85 247.09,336.09 247.40,335.13 L248.24,333.23 C248.56,332.46 248.97,331.70 249.50,331.70 Z" fill="#ebebef" filter="url(#bl)"/>
<circle cx="249.50" cy="342.40" r="2.40" fill="none" stroke="#3b22ad" stroke-width="1.20" filter="url(#bl)"/>
<circle cx="249.50" cy="344.40" r="3.00" fill="url(#spR)"/>
<path d="M260.00,331.70 C260.52,331.70 260.94,332.46 261.26,333.23 L262.10,335.13 C262.42,336.09 262.62,336.85 262.83,337.61 C263.05,338.76 263.25,339.71 263.41,340.86 C263.57,341.81 263.78,343.53 263.99,345.53 C264.15,347.44 264.10,349.35 263.88,350.78 L263.36,351.92 L264.10,353.26 L262.10,353.64 L260.84,352.87 L259.16,352.87 L257.90,353.64 L255.91,353.26 L256.64,351.92 L256.12,350.78 C255.91,349.35 255.85,347.44 256.01,345.53 C256.22,343.53 256.43,341.81 256.59,340.86 C256.75,339.71 256.95,338.76 257.17,337.61 C257.38,336.85 257.58,336.09 257.90,335.13 L258.74,333.23 C259.06,332.46 259.48,331.70 260.00,331.70 Z" fill="#3b22ad" filter="url(#bl)"/>
<circle cx="260.00" cy="335.40" r="4.50" fill="url(#spR)"/>
<circle cx="260.00" cy="343.40" r="3.40" fill="url(#spR)"/>
<circle cx="260.00" cy="349.40" r="3.20" fill="url(#spR)"/>
<path d="M268.60,331.70 C269.12,331.70 269.55,332.46 269.86,333.23 L270.70,335.13 C271.02,336.09 271.23,336.85 271.44,337.61 C271.65,338.76 271.86,339.71 272.01,340.86 C272.17,341.81 272.38,343.53 272.59,345.53 C272.75,347.44 272.70,349.35 272.49,350.78 L271.96,351.92 L272.70,353.26 L270.70,353.64 L269.44,352.87 L267.76,352.87 L266.50,353.64 L264.50,353.26 L265.24,351.92 L264.72,350.78 C264.50,349.35 264.45,347.44 264.61,345.53 C264.82,343.53 265.03,341.81 265.19,340.86 C265.35,339.71 265.56,338.76 265.77,337.61 C265.98,336.85 266.19,336.09 266.50,335.13 L267.34,333.23 C267.66,332.46 268.08,331.70 268.60,331.70 Z" fill="#3b22ad" filter="url(#bl)"/>
<circle cx="268.60" cy="338.40" r="3.20" fill="url(#spO)"/>
<circle cx="268.60" cy="343.40" r="2.60" fill="url(#spR)"/>
<ellipse cx="268.60" cy="350.40" rx="1.53" ry="1.80" fill="#f0f0f4" filter="url(#bl)"/>
<path d="M279.00,331.70 C279.52,331.70 279.94,332.46 280.26,333.23 L281.10,335.13 C281.42,336.09 281.62,336.85 281.83,337.61 C282.05,338.76 282.25,339.71 282.41,340.86 C282.57,341.81 282.78,343.53 282.99,345.53 C283.15,347.44 283.10,349.35 282.88,350.78 L282.36,351.92 L283.10,353.26 L281.10,353.64 L279.84,352.87 L278.16,352.87 L276.90,353.64 L274.90,353.26 L275.64,351.92 L275.12,350.78 C274.90,349.35 274.85,347.44 275.01,345.53 C275.22,343.53 275.43,341.81 275.59,340.86 C275.75,339.71 275.95,338.76 276.17,337.61 C276.38,336.85 276.58,336.09 276.90,335.13 L277.74,333.23 C278.06,332.46 278.48,331.70 279.00,331.70 Z" fill="#3b22ad" filter="url(#bl)"/>
<circle cx="279.00" cy="335.40" r="5.00" fill="url(#spR)"/>
<circle cx="279.00" cy="346.40" r="5.40" fill="url(#spR)"/>
</g>
<g clip-path="url(#c25)">
<rect x="127.50" y="368.80" width="53.50" height="35.80" fill="#070707" />
<rect x="127.50" y="391.98" width="53.50" height="12.63" fill="#2c2c2c" />
<line x1="134.69" y1="390.18" x2="134.89" y2="404.60" stroke="#a4a4a4" stroke-width="1.1" />
<line x1="144.72" y1="390.18" x2="144.92" y2="404.60" stroke="#a4a4a4" stroke-width="1.1" />
<line x1="154.75" y1="390.18" x2="154.95" y2="404.60" stroke="#a4a4a4" stroke-width="1.1" />
<line x1="164.78" y1="390.18" x2="164.98" y2="404.60" stroke="#a4a4a4" stroke-width="1.1" />
<line x1="174.81" y1="390.18" x2="175.01" y2="404.60" stroke="#a4a4a4" stroke-width="1.1" />
<path d="M134.19,369.10 C134.71,369.10 135.13,369.88 135.45,370.66 L136.29,372.60 C136.60,373.58 136.81,374.35 137.02,375.13 C137.23,376.30 137.44,377.27 137.60,378.44 C137.76,379.41 137.97,381.16 138.18,383.21 C138.34,385.15 138.28,387.10 138.07,388.56 L137.55,389.72 L138.28,391.09 L136.29,391.48 L135.03,390.70 L133.35,390.70 L132.09,391.48 L130.09,391.09 L130.83,389.72 L130.30,388.56 C130.09,387.10 130.04,385.15 130.20,383.21 C130.41,381.16 130.62,379.41 130.78,378.44 C130.93,377.27 131.14,376.30 131.35,375.13 C131.56,374.35 131.77,373.58 132.09,372.60 L132.93,370.66 C133.24,369.88 133.66,369.10 134.19,369.10 Z" fill="#ebebef" filter="url(#bl)"/>
<ellipse cx="134.19" cy="373.80" rx="4.50" ry="4.05" fill="#3b22ad" filter="url(#bl)"/>
<circle cx="134.19" cy="373.80" r="3.60" fill="url(#spR)"/>
<path d="M144.22,369.10 C144.74,369.10 145.16,369.88 145.48,370.66 L146.32,372.60 C146.63,373.58 146.84,374.35 147.05,375.13 C147.26,376.30 147.47,377.27 147.63,378.44 C147.79,379.41 148.00,381.16 148.21,383.21 C148.37,385.15 148.31,387.10 148.10,388.56 L147.58,389.72 L148.31,391.09 L146.32,391.48 L145.06,390.70 L143.38,390.70 L142.12,391.48 L140.12,391.09 L140.86,389.72 L140.33,388.56 C140.12,387.10 140.07,385.15 140.23,383.21 C140.44,381.16 140.65,379.41 140.81,378.44 C140.96,377.27 141.17,376.30 141.38,375.13 C141.59,374.35 141.80,373.58 142.12,372.60 L142.96,370.66 C143.27,369.88 143.69,369.10 144.22,369.10 Z" fill="#ebebef" filter="url(#bl)"/>
<path d="M154.25,369.10 C154.78,369.10 155.19,369.88 155.51,370.66 L156.35,372.60 C156.66,373.58 156.88,374.35 157.09,375.13 C157.29,376.30 157.50,377.27 157.66,378.44 C157.82,379.41 158.03,381.16 158.24,383.21 C158.40,385.15 158.34,387.10 158.13,388.56 L157.61,389.72 L158.34,391.09 L156.35,391.48 L155.09,390.70 L153.41,390.70 L152.15,391.48 L150.16,391.09 L150.89,389.72 L150.37,388.56 C150.16,387.10 150.10,385.15 150.26,383.21 C150.47,381.16 150.68,379.41 150.84,378.44 C151.00,377.27 151.21,376.30 151.41,375.13 C151.62,374.35 151.84,373.58 152.15,372.60 L152.99,370.66 C153.31,369.88 153.72,369.10 154.25,369.10 Z" fill="#ebebef" filter="url(#bl)"/>
<path d="M164.28,369.10 C164.81,369.10 165.23,369.88 165.54,370.66 L166.38,372.60 C166.70,373.58 166.91,374.35 167.12,375.13 C167.33,376.30 167.54,377.27 167.69,378.44 C167.85,379.41 168.06,381.16 168.27,383.21 C168.43,385.15 168.38,387.10 168.17,388.56 L167.64,389.72 L168.38,391.09 L166.38,391.48 L165.12,390.70 L163.44,390.70 L162.18,391.48 L160.19,391.09 L160.92,389.72 L160.40,388.56 C160.19,387.10 160.13,385.15 160.29,383.21 C160.50,381.16 160.71,379.41 160.87,378.44 C161.03,377.27 161.24,376.30 161.45,375.13 C161.66,374.35 161.87,373.58 162.18,372.60 L163.02,370.66 C163.34,369.88 163.76,369.10 164.28,369.10 Z" fill="#ebebef" filter="url(#bl)"/>
<circle cx="164.28" cy="376.80" r="1.80" fill="url(#spL)"/>
<path d="M174.31,369.10 C174.84,369.10 175.26,369.88 175.57,370.66 L176.41,372.60 C176.73,373.58 176.94,374.35 177.15,375.13 C177.36,376.30 177.57,377.27 177.72,378.44 C177.88,379.41 178.09,381.16 178.30,383.21 C178.46,385.15 178.41,387.10 178.20,388.56 L177.67,389.72 L178.41,391.09 L176.41,391.48 L175.15,390.70 L173.47,390.70 L172.21,391.48 L170.22,391.09 L170.95,389.72 L170.43,388.56 C170.22,387.10 170.16,385.15 170.32,383.21 C170.53,381.16 170.74,379.41 170.90,378.44 C171.06,377.27 171.27,376.30 171.48,375.13 C171.69,374.35 171.90,373.58 172.21,372.60 L173.05,370.66 C173.37,369.88 173.79,369.10 174.31,369.10 Z" fill="#3b22ad" filter="url(#bl)"/>
<circle cx="174.31" cy="387.80" r="7.60" fill="url(#spR)"/>
<ellipse cx="174.31" cy="372.80" rx="1.02" ry="1.20" fill="#f0f0f4" filter="url(#bl)"/>
</g>
<g clip-path="url(#c35)">
<rect x="184.00" y="368.80" width="53.80" height="35.80" fill="#070707" />
<rect x="184.00" y="391.98" width="53.80" height="12.63" fill="#2c2c2c" />
<line x1="204.50" y1="390.18" x2="204.70" y2="404.60" stroke="#a4a4a4" stroke-width="1.1" />
<line x1="213.50" y1="390.18" x2="213.70" y2="404.60" stroke="#a4a4a4" stroke-width="1.1" />
<line x1="224.00" y1="390.18" x2="224.20" y2="404.60" stroke="#a4a4a4" stroke-width="1.1" />
<path d="M204.00,369.10 C204.53,369.10 204.94,369.88 205.26,370.66 L206.10,372.60 C206.41,373.58 206.62,374.35 206.84,375.13 C207.04,376.30 207.25,377.27 207.41,378.44 C207.57,379.41 207.78,381.16 207.99,383.21 C208.15,385.15 208.09,387.10 207.88,388.56 L207.36,389.72 L208.09,391.09 L206.10,391.48 L204.84,390.70 L203.16,390.70 L201.90,391.48 L199.91,391.09 L200.64,389.72 L200.12,388.56 C199.91,387.10 199.85,385.15 200.01,383.21 C200.22,381.16 200.43,379.41 200.59,378.44 C200.75,377.27 200.96,376.30 201.16,375.13 C201.38,374.35 201.59,373.58 201.90,372.60 L202.74,370.66 C203.06,369.88 203.47,369.10 204.00,369.10 Z" fill="#ebebef" filter="url(#bl)"/>
<path d="M213.00,369.10 C213.53,369.10 213.94,369.88 214.26,370.66 L215.10,372.60 C215.41,373.58 215.62,374.35 215.84,375.13 C216.04,376.30 216.25,377.27 216.41,378.44 C216.57,379.41 216.78,381.16 216.99,383.21 C217.15,385.15 217.09,387.10 216.88,388.56 L216.36,389.72 L217.09,391.09 L215.10,391.48 L213.84,390.70 L212.16,390.70 L210.90,391.48 L208.91,391.09 L209.64,389.72 L209.12,388.56 C208.91,387.10 208.85,385.15 209.01,383.21 C209.22,381.16 209.43,379.41 209.59,378.44 C209.75,377.27 209.96,376.30 210.16,375.13 C210.38,374.35 210.59,373.58 210.90,372.60 L211.74,370.66 C212.06,369.88 212.47,369.10 213.00,369.10 Z" fill="#ebebef" filter="url(#bl)"/>
<ellipse cx="213.00" cy="371.80" rx="2.40" ry="2.16" fill="#3b22ad" filter="url(#bl)"/>
<path d="M223.50,369.10 C224.03,369.10 224.44,369.88 224.76,370.66 L225.60,372.60 C225.91,373.58 226.12,374.35 226.34,375.13 C226.54,376.30 226.75,377.27 226.91,378.44 C227.07,379.41 227.28,381.16 227.49,383.21 C227.65,385.15 227.59,387.10 227.38,388.56 L226.86,389.72 L227.59,391.09 L225.60,391.48 L224.34,390.70 L222.66,390.70 L221.40,391.48 L219.41,391.09 L220.14,389.72 L219.62,388.56 C219.41,387.10 219.35,385.15 219.51,383.21 C219.72,381.16 219.93,379.41 220.09,378.44 C220.25,377.27 220.46,376.30 220.66,375.13 C220.88,374.35 221.09,373.58 221.40,372.60 L222.24,370.66 C222.56,369.88 222.97,369.10 223.50,369.10 Z" fill="#ebebef" filter="url(#bl)"/>
<ellipse cx="223.50" cy="385.80" rx="4.00" ry="3.60" fill="#3b22ad" filter="url(#bl)"/>
<circle cx="223.50" cy="382.80" r="5.00" fill="url(#spR)"/>
</g>
<g clip-path="url(#c35)"><ellipse cx="193" cy="381" rx="11" ry="14" fill="#3b22ad" opacity="0.85" filter="url(#bl2)"/><circle cx="192.6" cy="383" r="7.4" fill="url(#spR)"/></g>
<g clip-path="url(#h21)">
<rect x="14.30" y="221.00" width="52.30" height="34.80" fill="#3c1f98" />
<line x1="21.24" y1="242.58" x2="21.44" y2="254.80" stroke="#7fb0e0" stroke-width="0.9" />
<line x1="31.04" y1="242.58" x2="31.24" y2="254.80" stroke="#7fb0e0" stroke-width="0.9" />
<line x1="40.85" y1="242.58" x2="41.05" y2="254.80" stroke="#7fb0e0" stroke-width="0.9" />
<line x1="50.66" y1="242.58" x2="50.86" y2="254.80" stroke="#7fb0e0" stroke-width="0.9" />
<line x1="60.46" y1="242.58" x2="60.66" y2="254.80" stroke="#7fb0e0" stroke-width="0.9" />
<g filter="url(#bl)"><ellipse cx="20.84" cy="238.20" rx="5.6" ry="5.6" fill="#45b8d8"/><ellipse cx="20.84" cy="229.00" rx="3.9" ry="6.6" fill="#45b8d8"/><ellipse cx="20.84" cy="238.20" rx="5.0" ry="5.0" fill="#e8151b"/><ellipse cx="20.84" cy="228.60" rx="3.2" ry="5.8" fill="#e8151b"/><ellipse cx="21.14" cy="233.00" rx="3.6" ry="1.7" fill="#62c46a"/><ellipse cx="21.64" cy="234.20" rx="1.8" ry="0.9" fill="#f0dc28"/></g>
<g filter="url(#bl)"><ellipse cx="30.64" cy="238.20" rx="5.6" ry="5.6" fill="#45b8d8"/><ellipse cx="30.64" cy="229.00" rx="3.9" ry="6.6" fill="#45b8d8"/><ellipse cx="30.64" cy="238.20" rx="5.0" ry="5.0" fill="#e8151b"/><ellipse cx="30.64" cy="228.60" rx="3.2" ry="5.8" fill="#e8151b"/><ellipse cx="30.94" cy="233.00" rx="3.6" ry="1.7" fill="#7ac85a"/><ellipse cx="31.44" cy="234.20" rx="1.8" ry="0.9" fill="#f0dc28"/></g>
<g filter="url(#bl)"><ellipse cx="40.45" cy="238.20" rx="5.6" ry="5.6" fill="#45b8d8"/><ellipse cx="40.45" cy="229.00" rx="3.9" ry="6.6" fill="#45b8d8"/><ellipse cx="40.45" cy="238.20" rx="5.0" ry="5.0" fill="#e8151b"/><ellipse cx="40.45" cy="228.60" rx="3.2" ry="5.8" fill="#e8151b"/><ellipse cx="40.75" cy="233.00" rx="3.6" ry="1.7" fill="#8acb50"/><ellipse cx="41.25" cy="234.20" rx="1.8" ry="0.9" fill="#f0dc28"/></g>
<g filter="url(#bl)"><ellipse cx="50.26" cy="238.20" rx="5.6" ry="5.6" fill="#45b8d8"/><ellipse cx="50.26" cy="229.00" rx="3.9" ry="6.6" fill="#45b8d8"/><ellipse cx="50.26" cy="238.20" rx="5.0" ry="5.0" fill="#e8151b"/><ellipse cx="50.26" cy="228.60" rx="3.2" ry="5.8" fill="#e8151b"/><ellipse cx="50.56" cy="233.00" rx="3.6" ry="1.7" fill="#f0d020"/></g>
<g filter="url(#bl)"><ellipse cx="60.06" cy="238.20" rx="5.6" ry="5.6" fill="#45b8d8"/><ellipse cx="60.06" cy="229.00" rx="3.9" ry="6.6" fill="#45b8d8"/><ellipse cx="60.06" cy="238.20" rx="5.0" ry="5.0" fill="#e8151b"/><ellipse cx="60.06" cy="228.60" rx="3.2" ry="5.8" fill="#e8151b"/><ellipse cx="60.36" cy="233.00" rx="3.6" ry="1.7" fill="#f2c41c"/></g>
</g>
<g clip-path="url(#h31)">
<rect x="14.30" y="258.00" width="52.30" height="35.00" fill="url(#g31)" />
<line x1="21.24" y1="282.50" x2="21.44" y2="292.50" stroke="#8fa8e0" stroke-width="0.9" />
<line x1="31.04" y1="282.50" x2="31.24" y2="292.50" stroke="#8fa8e0" stroke-width="0.9" />
<line x1="40.85" y1="282.50" x2="41.05" y2="292.50" stroke="#8fa8e0" stroke-width="0.9" />
<line x1="50.66" y1="282.50" x2="50.86" y2="292.50" stroke="#8fa8e0" stroke-width="0.9" />
<line x1="60.46" y1="282.50" x2="60.66" y2="292.50" stroke="#8fa8e0" stroke-width="0.9" />
<path d="M20.84,259.20 C21.43,259.20 21.90,260.04 22.25,260.88 L23.20,262.98 C23.55,264.03 23.79,264.87 24.02,265.71 C24.26,266.97 24.50,268.02 24.67,269.28 C24.85,270.33 25.09,272.22 25.32,274.43 C25.50,276.52 25.44,278.62 25.20,280.20 L24.61,281.46 L25.44,282.93 L23.20,283.35 L21.78,282.51 L19.89,282.51 L18.48,283.35 L16.24,282.93 L17.06,281.46 L16.47,280.20 C16.24,278.62 16.18,276.52 16.35,274.43 C16.59,272.22 16.83,270.33 17.00,269.28 C17.18,268.02 17.42,266.97 17.65,265.71 C17.89,264.87 18.12,264.03 18.48,262.98 L19.42,260.88 C19.78,260.04 20.25,259.20 20.84,259.20 Z" fill="#6cc84a" stroke="#6cc84a" stroke-width="2.6" stroke-linejoin="round" filter="url(#bl2)"/>
<path d="M30.64,259.20 C31.23,259.20 31.71,260.04 32.06,260.88 L33.00,262.98 C33.36,264.03 33.59,264.87 33.83,265.71 C34.07,266.97 34.30,268.02 34.48,269.28 C34.66,270.33 34.89,272.22 35.13,274.43 C35.30,276.52 35.25,278.62 35.01,280.20 L34.42,281.46 L35.25,282.93 L33.00,283.35 L31.59,282.51 L29.70,282.51 L28.28,283.35 L26.04,282.93 L26.87,281.46 L26.28,280.20 C26.04,278.62 25.98,276.52 26.16,274.43 C26.40,272.22 26.63,270.33 26.81,269.28 C26.99,268.02 27.22,266.97 27.46,265.71 C27.69,264.87 27.93,264.03 28.28,262.98 L29.23,260.88 C29.58,260.04 30.05,259.20 30.64,259.20 Z" fill="#6cc84a" stroke="#6cc84a" stroke-width="2.6" stroke-linejoin="round" filter="url(#bl2)"/>
<path d="M40.45,259.20 C41.04,259.20 41.51,260.04 41.87,260.88 L42.81,262.98 C43.16,264.03 43.40,264.87 43.64,265.71 C43.87,266.97 44.11,268.02 44.29,269.28 C44.46,270.33 44.70,272.22 44.93,274.43 C45.11,276.52 45.05,278.62 44.82,280.20 L44.23,281.46 L45.05,282.93 L42.81,283.35 L41.39,282.51 L39.51,282.51 L38.09,283.35 L35.85,282.93 L36.67,281.46 L36.08,280.20 C35.85,278.62 35.79,276.52 35.97,274.43 C36.20,272.22 36.44,270.33 36.62,269.28 C36.79,268.02 37.03,266.97 37.26,265.71 C37.50,264.87 37.74,264.03 38.09,262.98 L39.03,260.88 C39.39,260.04 39.86,259.20 40.45,259.20 Z" fill="#6cc84a" stroke="#6cc84a" stroke-width="2.6" stroke-linejoin="round" filter="url(#bl2)"/>
<path d="M50.26,259.20 C50.85,259.20 51.32,260.04 51.67,260.88 L52.62,262.98 C52.97,264.03 53.21,264.87 53.44,265.71 C53.68,266.97 53.91,268.02 54.09,269.28 C54.27,270.33 54.50,272.22 54.74,274.43 C54.92,276.52 54.86,278.62 54.62,280.20 L54.03,281.46 L54.86,282.93 L52.62,283.35 L51.20,282.51 L49.31,282.51 L47.90,283.35 L45.65,282.93 L46.48,281.46 L45.89,280.20 C45.65,278.62 45.60,276.52 45.77,274.43 C46.01,272.22 46.24,270.33 46.42,269.28 C46.60,268.02 46.83,266.97 47.07,265.71 C47.31,264.87 47.54,264.03 47.90,262.98 L48.84,260.88 C49.19,260.04 49.67,259.20 50.26,259.20 Z" fill="#6cc84a" stroke="#6cc84a" stroke-width="2.6" stroke-linejoin="round" filter="url(#bl2)"/>
<path d="M60.06,259.20 C60.65,259.20 61.12,260.04 61.48,260.88 L62.42,262.98 C62.78,264.03 63.01,264.87 63.25,265.71 C63.48,266.97 63.72,268.02 63.90,269.28 C64.07,270.33 64.31,272.22 64.55,274.43 C64.72,276.52 64.66,278.62 64.43,280.20 L63.84,281.46 L64.66,282.93 L62.42,283.35 L61.01,282.51 L59.12,282.51 L57.70,283.35 L55.46,282.93 L56.29,281.46 L55.70,280.20 C55.46,278.62 55.40,276.52 55.58,274.43 C55.81,272.22 56.05,270.33 56.23,269.28 C56.40,268.02 56.64,266.97 56.88,265.71 C57.11,264.87 57.35,264.03 57.70,262.98 L58.65,260.88 C59.00,260.04 59.47,259.20 60.06,259.20 Z" fill="#6cc84a" stroke="#6cc84a" stroke-width="2.6" stroke-linejoin="round" filter="url(#bl2)"/>
<path d="M20.84,259.20 C21.43,259.20 21.90,260.04 22.25,260.88 L23.20,262.98 C23.55,264.03 23.79,264.87 24.02,265.71 C24.26,266.97 24.50,268.02 24.67,269.28 C24.85,270.33 25.09,272.22 25.32,274.43 C25.50,276.52 25.44,278.62 25.20,280.20 L24.61,281.46 L25.44,282.93 L23.20,283.35 L21.78,282.51 L19.89,282.51 L18.48,283.35 L16.24,282.93 L17.06,281.46 L16.47,280.20 C16.24,278.62 16.18,276.52 16.35,274.43 C16.59,272.22 16.83,270.33 17.00,269.28 C17.18,268.02 17.42,266.97 17.65,265.71 C17.89,264.87 18.12,264.03 18.48,262.98 L19.42,260.88 C19.78,260.04 20.25,259.20 20.84,259.20 Z" fill="#e8151b" stroke="#e8151b" stroke-width="0.8" stroke-linejoin="round" filter="url(#bl)"/>
<path d="M30.64,259.20 C31.23,259.20 31.71,260.04 32.06,260.88 L33.00,262.98 C33.36,264.03 33.59,264.87 33.83,265.71 C34.07,266.97 34.30,268.02 34.48,269.28 C34.66,270.33 34.89,272.22 35.13,274.43 C35.30,276.52 35.25,278.62 35.01,280.20 L34.42,281.46 L35.25,282.93 L33.00,283.35 L31.59,282.51 L29.70,282.51 L28.28,283.35 L26.04,282.93 L26.87,281.46 L26.28,280.20 C26.04,278.62 25.98,276.52 26.16,274.43 C26.40,272.22 26.63,270.33 26.81,269.28 C26.99,268.02 27.22,266.97 27.46,265.71 C27.69,264.87 27.93,264.03 28.28,262.98 L29.23,260.88 C29.58,260.04 30.05,259.20 30.64,259.20 Z" fill="#e8151b" stroke="#e8151b" stroke-width="0.8" stroke-linejoin="round" filter="url(#bl)"/>
<path d="M40.45,259.20 C41.04,259.20 41.51,260.04 41.87,260.88 L42.81,262.98 C43.16,264.03 43.40,264.87 43.64,265.71 C43.87,266.97 44.11,268.02 44.29,269.28 C44.46,270.33 44.70,272.22 44.93,274.43 C45.11,276.52 45.05,278.62 44.82,280.20 L44.23,281.46 L45.05,282.93 L42.81,283.35 L41.39,282.51 L39.51,282.51 L38.09,283.35 L35.85,282.93 L36.67,281.46 L36.08,280.20 C35.85,278.62 35.79,276.52 35.97,274.43 C36.20,272.22 36.44,270.33 36.62,269.28 C36.79,268.02 37.03,266.97 37.26,265.71 C37.50,264.87 37.74,264.03 38.09,262.98 L39.03,260.88 C39.39,260.04 39.86,259.20 40.45,259.20 Z" fill="#e8151b" stroke="#e8151b" stroke-width="0.8" stroke-linejoin="round" filter="url(#bl)"/>
<path d="M50.26,259.20 C50.85,259.20 51.32,260.04 51.67,260.88 L52.62,262.98 C52.97,264.03 53.21,264.87 53.44,265.71 C53.68,266.97 53.91,268.02 54.09,269.28 C54.27,270.33 54.50,272.22 54.74,274.43 C54.92,276.52 54.86,278.62 54.62,280.20 L54.03,281.46 L54.86,282.93 L52.62,283.35 L51.20,282.51 L49.31,282.51 L47.90,283.35 L45.65,282.93 L46.48,281.46 L45.89,280.20 C45.65,278.62 45.60,276.52 45.77,274.43 C46.01,272.22 46.24,270.33 46.42,269.28 C46.60,268.02 46.83,266.97 47.07,265.71 C47.31,264.87 47.54,264.03 47.90,262.98 L48.84,260.88 C49.19,260.04 49.67,259.20 50.26,259.20 Z" fill="#e8151b" stroke="#e8151b" stroke-width="0.8" stroke-linejoin="round" filter="url(#bl)"/>
<path d="M60.06,259.20 C60.65,259.20 61.12,260.04 61.48,260.88 L62.42,262.98 C62.78,264.03 63.01,264.87 63.25,265.71 C63.48,266.97 63.72,268.02 63.90,269.28 C64.07,270.33 64.31,272.22 64.55,274.43 C64.72,276.52 64.66,278.62 64.43,280.20 L63.84,281.46 L64.66,282.93 L62.42,283.35 L61.01,282.51 L59.12,282.51 L57.70,283.35 L55.46,282.93 L56.29,281.46 L55.70,280.20 C55.46,278.62 55.40,276.52 55.58,274.43 C55.81,272.22 56.05,270.33 56.23,269.28 C56.40,268.02 56.64,266.97 56.88,265.71 C57.11,264.87 57.35,264.03 57.70,262.98 L58.65,260.88 C59.00,260.04 59.47,259.20 60.06,259.20 Z" fill="#e8151b" stroke="#e8151b" stroke-width="0.8" stroke-linejoin="round" filter="url(#bl)"/>
</g>
<g clip-path="url(#h42)">
<rect x="69.40" y="294.40" width="55.50" height="35.10" fill="url(#g42)" />
<line x1="76.84" y1="317.57" x2="77.04" y2="329.50" stroke="#9ab8ea" stroke-width="0.9" />
<line x1="87.24" y1="317.57" x2="87.44" y2="329.50" stroke="#9ab8ea" stroke-width="0.9" />
<line x1="97.65" y1="317.57" x2="97.85" y2="329.50" stroke="#9ab8ea" stroke-width="0.9" />
<line x1="108.06" y1="317.57" x2="108.26" y2="329.50" stroke="#9ab8ea" stroke-width="0.9" />
<line x1="118.46" y1="317.57" x2="118.66" y2="329.50" stroke="#9ab8ea" stroke-width="0.9" />
<ellipse cx="76.3" cy="307" rx="7.800000000000001" ry="12.6" fill="#6cc648" filter="url(#bl2)"/>
<ellipse cx="86.2" cy="306.5" rx="7.199999999999999" ry="13.1" fill="#6cc648" filter="url(#bl2)"/>
<ellipse cx="96.4" cy="307.5" rx="6.800000000000001" ry="12.6" fill="#6cc648" filter="url(#bl2)"/>
<ellipse cx="107.3" cy="313.5" rx="5.6" ry="8.1" fill="#6cc648" filter="url(#bl2)"/>
<ellipse cx="118.2" cy="307" rx="7.4" ry="13.6" fill="#6cc648" filter="url(#bl2)"/>
<ellipse cx="76.3" cy="307" rx="6.8" ry="11.6" fill="#f0d020" filter="url(#bl)"/>
<ellipse cx="86.2" cy="306.5" rx="6.199999999999999" ry="12.1" fill="#f0d020" filter="url(#bl)"/>
<ellipse cx="96.4" cy="307.5" rx="5.8" ry="11.6" fill="#f0d020" filter="url(#bl)"/>
<ellipse cx="107.3" cy="313.5" rx="4.6" ry="7.1" fill="#f0d020" filter="url(#bl)"/>
<ellipse cx="118.2" cy="307" rx="6.3999999999999995" ry="12.6" fill="#f0d020" filter="url(#bl)"/>
<ellipse cx="76.3" cy="307" rx="6.2" ry="11" fill="#e8151b" filter="url(#bl)"/>
<ellipse cx="86.2" cy="306.5" rx="5.6" ry="11.5" fill="#e8151b" filter="url(#bl)"/>
<ellipse cx="96.4" cy="307.5" rx="5.2" ry="11" fill="#e8151b" filter="url(#bl)"/>
<ellipse cx="107.3" cy="313.5" rx="4.0" ry="6.5" fill="#e8151b" filter="url(#bl)"/>
<ellipse cx="118.2" cy="307" rx="5.8" ry="12" fill="#e8151b" filter="url(#bl)"/>
<ellipse cx="106.5" cy="302" rx="3.6" ry="5" fill="#3a78d8" filter="url(#bl)"/>
<circle cx="106.8" cy="300.5" r="1.3" fill="#e8151b"/>
</g>
<g clip-path="url(#h52)">
<rect x="80.00" y="331.40" width="44.90" height="35.10" fill="#3a1f9b" />
<line x1="109.20" y1="356.67" x2="109.40" y2="366.50" stroke="#8c84c8" stroke-width="0.9" />
<ellipse cx="108.8" cy="347.9" rx="9" ry="15" fill="#3468d8" filter="url(#bl2)" opacity="0.9"/>
<ellipse cx="108.8" cy="347.9" rx="6.8" ry="13" fill="#38c0d8" filter="url(#bl2)"/>
<ellipse cx="108.8" cy="347.9" rx="5.6" ry="11.5" fill="#60c448" filter="url(#bl)"/>
<ellipse cx="108.8" cy="347.9" rx="5.0" ry="10.8" fill="#f0d020" filter="url(#bl)"/>
<ellipse cx="108.8" cy="348.2" rx="4.4" ry="10.2" fill="#e8151b" filter="url(#bl)"/>
<circle cx="108.8" cy="334.79999999999995" r="2.6" fill="#f0d020" filter="url(#bl)"/>
<circle cx="108.8" cy="334.79999999999995" r="2.0" fill="#e8151b"/>
<ellipse cx="108.8" cy="338.59999999999997" rx="2.2" ry="1.3" fill="#38b0e0" filter="url(#bl)"/>
</g>
<g clip-path="url(#h45)">
<rect x="241.00" y="294.40" width="54.70" height="35.10" fill="#3b22a6" />
<rect x="241.00" y="320.73" width="54.70" height="8.78" fill="#2c1f6a" />
<rect x="241.0" y="294.4" width="14.5" height="35.10000000000002" fill="#0a0a0a" filter="url(#bl)"/>
<rect x="241.00" y="317.57" width="14.50" height="11.93" fill="#262626" />
<line x1="248.44" y1="317.21" x2="248.74" y2="329.50" stroke="#7a70b0" stroke-width="0.8" />
<line x1="258.69" y1="317.21" x2="258.99" y2="329.50" stroke="#7a70b0" stroke-width="0.8" />
<line x1="268.95" y1="317.21" x2="269.25" y2="329.50" stroke="#7a70b0" stroke-width="0.8" />
<line x1="279.21" y1="317.21" x2="279.51" y2="329.50" stroke="#7a70b0" stroke-width="0.8" />
<line x1="289.46" y1="317.21" x2="289.76" y2="329.50" stroke="#7a70b0" stroke-width="0.8" />
<path d="M247.84,294.90 C248.34,294.90 248.74,295.68 249.04,296.46 L249.84,298.42 C250.14,299.39 250.34,300.17 250.54,300.96 C250.74,302.13 250.94,303.10 251.09,304.28 C251.24,305.25 251.44,307.01 251.64,309.06 C251.79,311.02 251.74,312.97 251.54,314.43 L251.04,315.61 L251.74,316.97 L249.84,317.36 L248.64,316.58 L247.04,316.58 L245.84,317.36 L243.94,316.97 L244.64,315.61 L244.14,314.43 C243.94,312.97 243.89,311.02 244.04,309.06 C244.24,307.01 244.44,305.25 244.59,304.28 C244.74,303.10 244.94,302.13 245.14,300.96 C245.34,300.17 245.54,299.39 245.84,298.42 L246.64,296.46 C246.94,295.68 247.34,294.90 247.84,294.90 Z" fill="#f0f0f4" filter="url(#bl)"/>
<circle cx="247.84" cy="309.14" r="2.6" fill="none" stroke="#3b22a6" stroke-width="1.2"/>
<circle cx="259.3" cy="300.5" r="4.55" fill="url(#spR)"/>
<circle cx="260.5" cy="306.8" r="2.80" fill="url(#spR)"/>
<circle cx="259.6" cy="315.5" r="6.30" fill="url(#spR)"/>
<circle cx="267.4" cy="303.4" r="4.55" fill="url(#spR)"/>
<circle cx="266.3" cy="308" r="2.80" fill="url(#spR)"/>
<circle cx="268.6" cy="317.8" r="3.85" fill="url(#spR)"/>
<circle cx="279" cy="299.3" r="4.55" fill="url(#spR)"/>
<circle cx="280.1" cy="312" r="5.25" fill="url(#spR)"/>
<ellipse cx="291" cy="307.5" rx="6.5" ry="12.5" fill="#40c0d0" filter="url(#bl2)"/>
<ellipse cx="290" cy="307.5" rx="5.4" ry="11.8" fill="#7ac848" filter="url(#bl)"/>
<ellipse cx="289.2" cy="307.5" rx="4.6" ry="11.2" fill="#e8151b" filter="url(#bl)"/>
</g>
<g clip-path="url(#h65)">
<rect x="241.00" y="368.80" width="54.70" height="35.80" fill="#3b22a6" />
<ellipse cx="250" cy="379" rx="25" ry="27" fill="url(#g65)"/>
<ellipse cx="250.2" cy="381.2" rx="9.6" ry="12.6" fill="#f0d020" filter="url(#bl)"/>
<ellipse cx="250.2" cy="381.2" rx="8.8" ry="11.8" fill="#e8151b" filter="url(#bl)"/>
<circle cx="263" cy="377.5" r="3.2" fill="url(#spR)"/>
<circle cx="271.5" cy="377.5" r="2.4" fill="url(#spC)"/>
<circle cx="280" cy="396" r="1.4" fill="#7a80e0" opacity="0.7"/>
<circle cx="292" cy="401" r="3" fill="#40c0e8" opacity="0.6"/>
</g>
<text x="40.50" y="178.20" font-size="7.0" text-anchor="middle" textLength="46.30" lengthAdjust="spacingAndGlyphs" >NKTR-255 only</text>
<text x="96.80" y="178.20" font-size="7.0" text-anchor="middle" textLength="49.80" lengthAdjust="spacingAndGlyphs" >CAR T cells only</text>
<text x="153.00" y="178.40" font-size="7.1" text-anchor="middle" textLength="17.60" lengthAdjust="spacingAndGlyphs" >Day 7</text>
<text x="210.90" y="178.40" font-size="7.1" text-anchor="middle" textLength="22.00" lengthAdjust="spacingAndGlyphs" >Day 14</text>
<text x="266.90" y="178.40" font-size="7.1" text-anchor="middle" textLength="21.60" lengthAdjust="spacingAndGlyphs" >Day 21</text>
<rect x="127.40" y="154.30" width="167.40" height="13.40" fill="#fff" stroke="#231f20" stroke-width="1.0" />
<text x="211.70" y="164.00" font-size="9.3" text-anchor="middle" textLength="96.60" lengthAdjust="spacingAndGlyphs" >CAR T cells + NKTR-255</text>
<text transform="translate(8.7,202.1) rotate(-90)" x="0" y="0" font-size="6.9" text-anchor="middle" textLength="18.5" lengthAdjust="spacingAndGlyphs">Day-1</text>
<text transform="translate(8.7,239.5) rotate(-90)" x="0" y="0" font-size="6.9" text-anchor="middle" textLength="15.8" lengthAdjust="spacingAndGlyphs">Day 7</text>
<text transform="translate(8.7,272.9) rotate(-90)" x="0" y="0" font-size="6.9" text-anchor="middle" textLength="21" lengthAdjust="spacingAndGlyphs">Day 14</text>
<text transform="translate(8.7,310.8) rotate(-90)" x="0" y="0" font-size="6.9" text-anchor="middle" textLength="21" lengthAdjust="spacingAndGlyphs">Day 21</text>
<text transform="translate(8.7,348.2) rotate(-90)" x="0" y="0" font-size="6.9" text-anchor="middle" textLength="22" lengthAdjust="spacingAndGlyphs">Day 28</text>
<text transform="translate(8.7,386.0) rotate(-90)" x="0" y="0" font-size="6.9" text-anchor="middle" textLength="22" lengthAdjust="spacingAndGlyphs">Day 77</text>
<rect x="298.20" y="193.40" width="6.60" height="175.80" fill="url(#cbar)" />
<line x1="304.80" y1="193.50" x2="308.00" y2="193.50" stroke="#231f20" stroke-width="0.8" />
<text x="309.20" y="196.10" font-size="7.0" textLength="10.40" lengthAdjust="spacingAndGlyphs" >1.0</text>
<line x1="304.80" y1="230.20" x2="308.00" y2="230.20" stroke="#231f20" stroke-width="0.8" />
<text x="309.20" y="232.80" font-size="7.0" textLength="10.40" lengthAdjust="spacingAndGlyphs" >0.8</text>
<line x1="304.80" y1="266.30" x2="308.00" y2="266.30" stroke="#231f20" stroke-width="0.8" />
<text x="309.20" y="268.90" font-size="7.0" textLength="10.40" lengthAdjust="spacingAndGlyphs" >0.6</text>
<line x1="304.80" y1="302.30" x2="308.00" y2="302.30" stroke="#231f20" stroke-width="0.8" />
<text x="309.20" y="304.90" font-size="7.0" textLength="10.40" lengthAdjust="spacingAndGlyphs" >0.4</text>
<line x1="304.80" y1="339.30" x2="308.00" y2="339.30" stroke="#231f20" stroke-width="0.8" />
<text x="309.20" y="341.90" font-size="7.0" textLength="10.40" lengthAdjust="spacingAndGlyphs" >0.2</text>
<line x1="304.80" y1="211.72" x2="306.30" y2="211.72" stroke="#231f20" stroke-width="0.6" />
<line x1="304.80" y1="248.18" x2="306.30" y2="248.18" stroke="#231f20" stroke-width="0.6" />
<line x1="304.80" y1="284.62" x2="306.30" y2="284.62" stroke="#231f20" stroke-width="0.6" />
<line x1="304.80" y1="321.08" x2="306.30" y2="321.08" stroke="#231f20" stroke-width="0.6" />
<line x1="304.80" y1="357.52" x2="306.30" y2="357.52" stroke="#231f20" stroke-width="0.6" />
<text x="298.60" y="188.70" font-size="6.6" textLength="43.20" lengthAdjust="spacingAndGlyphs" >Luminescence</text>
<text x="323.30" y="287.60" font-size="6.2" >× 10<tspan font-size="4.2" dy="-2.6">6</tspan></text>
<text x="298.60" y="378.40" font-size="6.8" textLength="28.20" lengthAdjust="spacingAndGlyphs" >Radiance</text>
<text x="298.60" y="386.40" font-size="6.8" textLength="43.20" lengthAdjust="spacingAndGlyphs" >(p/sec/cm<tspan font-size="4.4" dy="-2.5">2</tspan><tspan dy="2.5">/sr)</tspan></text>
<text x="298.60" y="394.80" font-size="6.8" textLength="33.40" lengthAdjust="spacingAndGlyphs" >Color scale</text>
<text x="298.60" y="403.00" font-size="6.8" textLength="41.50" lengthAdjust="spacingAndGlyphs" >Min = 3.00e4</text>
<text x="298.60" y="411.20" font-size="6.8" textLength="42.20" lengthAdjust="spacingAndGlyphs" >Max = 1.00e6</text>
<line x1="400.30" y1="20.80" x2="400.30" y2="101.50" stroke="#1a1a1a" stroke-width="1.5" />
<line x1="399.60" y1="100.90" x2="518.50" y2="100.90" stroke="#1a1a1a" stroke-width="1.4" />
<line x1="397.60" y1="100.90" x2="400.30" y2="100.90" stroke="#1a1a1a" stroke-width="1.0" />
<text x="388.60" y="103.20" font-size="6.3" text-anchor="middle" >10<tspan font-size="4.2" dy="-2.6">3</tspan></text>
<line x1="397.60" y1="88.15" x2="400.30" y2="88.15" stroke="#1a1a1a" stroke-width="1.0" />
<text x="388.60" y="90.45" font-size="6.3" text-anchor="middle" >10<tspan font-size="4.2" dy="-2.6">4</tspan></text>
<line x1="397.60" y1="75.40" x2="400.30" y2="75.40" stroke="#1a1a1a" stroke-width="1.0" />
<text x="388.60" y="77.70" font-size="6.3" text-anchor="middle" >10<tspan font-size="4.2" dy="-2.6">5</tspan></text>
<line x1="397.60" y1="62.65" x2="400.30" y2="62.65" stroke="#1a1a1a" stroke-width="1.0" />
<text x="388.60" y="64.95" font-size="6.3" text-anchor="middle" >10<tspan font-size="4.2" dy="-2.6">6</tspan></text>
<line x1="397.60" y1="49.90" x2="400.30" y2="49.90" stroke="#1a1a1a" stroke-width="1.0" />
<text x="388.60" y="52.20" font-size="6.3" text-anchor="middle" >10<tspan font-size="4.2" dy="-2.6">7</tspan></text>
<line x1="397.60" y1="37.15" x2="400.30" y2="37.15" stroke="#1a1a1a" stroke-width="1.0" />
<text x="388.60" y="39.45" font-size="6.3" text-anchor="middle" >10<tspan font-size="4.2" dy="-2.6">8</tspan></text>
<line x1="397.60" y1="24.40" x2="400.30" y2="24.40" stroke="#1a1a1a" stroke-width="1.0" />
<text x="388.60" y="26.70" font-size="6.3" text-anchor="middle" >10<tspan font-size="4.2" dy="-2.6">9</tspan></text>
<line x1="401.50" y1="100.90" x2="401.50" y2="103.10" stroke="#1a1a1a" stroke-width="1.0" />
<line x1="411.02" y1="100.90" x2="411.02" y2="103.10" stroke="#1a1a1a" stroke-width="1.0" />
<line x1="420.54" y1="100.90" x2="420.54" y2="103.10" stroke="#1a1a1a" stroke-width="1.0" />
<line x1="430.06" y1="100.90" x2="430.06" y2="103.10" stroke="#1a1a1a" stroke-width="1.0" />
<line x1="439.58" y1="100.90" x2="439.58" y2="103.10" stroke="#1a1a1a" stroke-width="1.0" />
<line x1="449.10" y1="100.90" x2="449.10" y2="103.10" stroke="#1a1a1a" stroke-width="1.0" />
<line x1="458.62" y1="100.90" x2="458.62" y2="103.10" stroke="#1a1a1a" stroke-width="1.0" />
<line x1="468.14" y1="100.90" x2="468.14" y2="103.10" stroke="#1a1a1a" stroke-width="1.0" />
<line x1="477.66" y1="100.90" x2="477.66" y2="103.10" stroke="#1a1a1a" stroke-width="1.0" />
<line x1="487.18" y1="100.90" x2="487.18" y2="103.10" stroke="#1a1a1a" stroke-width="1.0" />
<line x1="496.70" y1="100.90" x2="496.70" y2="103.10" stroke="#1a1a1a" stroke-width="1.0" />
<line x1="506.22" y1="100.90" x2="506.22" y2="103.10" stroke="#1a1a1a" stroke-width="1.0" />
<line x1="515.74" y1="100.90" x2="515.74" y2="103.10" stroke="#1a1a1a" stroke-width="1.0" />
<text x="401.80" y="113.80" font-size="6.4" text-anchor="middle" textLength="3.40" lengthAdjust="spacingAndGlyphs" >0</text>
<text x="411.32" y="113.80" font-size="6.4" text-anchor="middle" textLength="3.40" lengthAdjust="spacingAndGlyphs" >7</text>
<text x="420.84" y="113.80" font-size="6.4" text-anchor="middle" textLength="7.00" lengthAdjust="spacingAndGlyphs" >14</text>
<text x="430.36" y="113.80" font-size="6.4" text-anchor="middle" textLength="7.00" lengthAdjust="spacingAndGlyphs" >21</text>
<text x="439.88" y="113.80" font-size="6.4" text-anchor="middle" textLength="7.00" lengthAdjust="spacingAndGlyphs" >28</text>
<text x="449.40" y="113.80" font-size="6.4" text-anchor="middle" textLength="7.00" lengthAdjust="spacingAndGlyphs" >35</text>
<text x="458.92" y="113.80" font-size="6.4" text-anchor="middle" textLength="7.00" lengthAdjust="spacingAndGlyphs" >42</text>
<text x="468.44" y="113.80" font-size="6.4" text-anchor="middle" textLength="7.00" lengthAdjust="spacingAndGlyphs" >49</text>
<text x="477.96" y="113.80" font-size="6.4" text-anchor="middle" textLength="7.00" lengthAdjust="spacingAndGlyphs" >56</text>
<text x="487.48" y="113.80" font-size="6.4" text-anchor="middle" textLength="7.00" lengthAdjust="spacingAndGlyphs" >63</text>
<text x="497.00" y="113.80" font-size="6.4" text-anchor="middle" textLength="7.00" lengthAdjust="spacingAndGlyphs" >70</text>
<text x="506.52" y="113.80" font-size="6.4" text-anchor="middle" textLength="7.00" lengthAdjust="spacingAndGlyphs" >77</text>
<text x="516.04" y="113.80" font-size="6.4" text-anchor="middle" textLength="7.00" lengthAdjust="spacingAndGlyphs" >84</text>
<text x="459.50" y="126.10" font-size="7.4" text-anchor="middle" textLength="75.00" lengthAdjust="spacingAndGlyphs" font-weight="bold" >Days after CAR T cell infusion</text>
<text transform="translate(377.6,62.7) rotate(-90)" x="0" y="0" font-size="6.9" font-weight="bold" text-anchor="middle" textLength="75" lengthAdjust="spacingAndGlyphs">Average radiance (p/s/cm<tspan font-size="4" dy="-2.3">2</tspan><tspan dy="2.3">/sr)</tspan></text>
<text x="459.30" y="15.60" font-size="7.6" text-anchor="middle" textLength="98.40" lengthAdjust="spacingAndGlyphs" >NKTR-255 starting on day 7</text>
<polyline points="401.50,95.80 411.02,75.40" fill="none" stroke="#1d4f8c" stroke-width="1.1" stroke-linejoin="round" />
<polyline points="401.50,91.98 411.02,74.76" fill="none" stroke="#1d4f8c" stroke-width="1.1" stroke-linejoin="round" />
<polyline points="401.50,89.43 411.02,76.04" fill="none" stroke="#1d4f8c" stroke-width="1.1" stroke-linejoin="round" />
<polyline points="401.50,93.89 411.02,74.13" fill="none" stroke="#1d4f8c" stroke-width="1.1" stroke-linejoin="round" />
<polyline points="401.50,88.15 411.02,75.40" fill="none" stroke="#1d4f8c" stroke-width="1.1" stroke-linejoin="round" />
<polyline points="411.02,74.76 420.54,78.59 430.06,95.80 439.58,97.08 449.10,97.08 458.62,96.44 468.14,84.33 477.66,81.14 487.18,80.50 496.70,74.13 506.22,85.60" fill="none" stroke="#52b046" stroke-width="1.1" stroke-linejoin="round" />
<polyline points="411.02,74.76 420.54,95.16 430.06,88.15 439.58,79.23 449.10,82.29 458.62,67.11 468.14,46.20 477.66,44.80 487.18,45.31 496.70,42.89 506.22,51.94" fill="none" stroke="#52b046" stroke-width="1.1" stroke-linejoin="round" />
<polyline points="411.02,75.40 420.54,87.39 430.06,90.32 439.58,91.34 449.10,92.61 458.62,89.43 468.14,83.05 477.66,78.59 487.18,77.95 496.70,69.03 506.22,69.03" fill="none" stroke="#52b046" stroke-width="1.1" stroke-linejoin="round" />
<polyline points="411.02,75.40 420.54,94.65 430.06,97.08 439.58,98.35 449.10,97.71 458.62,97.08 468.14,80.50 477.66,77.31 487.18,77.95 496.70,75.40 506.22,83.69" fill="none" stroke="#52b046" stroke-width="1.1" stroke-linejoin="round" />
<polyline points="411.02,75.40 420.54,91.72 430.06,97.59 439.58,98.35 449.10,98.35 458.62,97.71 468.14,85.60 477.66,83.05 487.18,82.41 496.70,76.04 506.22,86.88" fill="none" stroke="#52b046" stroke-width="1.1" stroke-linejoin="round" />
<polyline points="401.50,91.34 411.02,62.01 420.54,55.00 430.06,38.68" fill="none" stroke="#1d4f8c" stroke-width="1.1" stroke-linejoin="round" />
<polyline points="401.50,93.25 411.02,65.20 420.54,56.91 430.06,40.08" fill="none" stroke="#1d4f8c" stroke-width="1.1" stroke-linejoin="round" />
<polyline points="401.50,94.53 411.02,67.75 420.54,58.44 430.06,42.25" fill="none" stroke="#1d4f8c" stroke-width="1.1" stroke-linejoin="round" />
<polyline points="401.50,89.43 411.02,70.30 420.54,60.10 430.06,43.53" fill="none" stroke="#1d4f8c" stroke-width="1.1" stroke-linejoin="round" />
<polyline points="401.50,92.61 411.02,72.85 420.54,61.38 430.06,50.03 439.58,39.45 449.10,34.60 458.62,29.50 468.14,32.69 477.66,30.14 487.18,29.12" fill="none" stroke="#1d4f8c" stroke-width="1.1" stroke-linejoin="round" />
<line x1="400.30" y1="157.10" x2="400.30" y2="237.80" stroke="#1a1a1a" stroke-width="1.5" />
<line x1="399.60" y1="237.20" x2="518.50" y2="237.20" stroke="#1a1a1a" stroke-width="1.4" />
<line x1="397.60" y1="237.20" x2="400.30" y2="237.20" stroke="#1a1a1a" stroke-width="1.0" />
<text x="388.60" y="239.50" font-size="6.3" text-anchor="middle" >10<tspan font-size="4.2" dy="-2.6">3</tspan></text>
<line x1="397.60" y1="224.45" x2="400.30" y2="224.45" stroke="#1a1a1a" stroke-width="1.0" />
<text x="388.60" y="226.75" font-size="6.3" text-anchor="middle" >10<tspan font-size="4.2" dy="-2.6">4</tspan></text>
<line x1="397.60" y1="211.70" x2="400.30" y2="211.70" stroke="#1a1a1a" stroke-width="1.0" />
<text x="388.60" y="214.00" font-size="6.3" text-anchor="middle" >10<tspan font-size="4.2" dy="-2.6">5</tspan></text>
<line x1="397.60" y1="198.95" x2="400.30" y2="198.95" stroke="#1a1a1a" stroke-width="1.0" />
<text x="388.60" y="201.25" font-size="6.3" text-anchor="middle" >10<tspan font-size="4.2" dy="-2.6">6</tspan></text>
<line x1="397.60" y1="186.20" x2="400.30" y2="186.20" stroke="#1a1a1a" stroke-width="1.0" />
<text x="388.60" y="188.50" font-size="6.3" text-anchor="middle" >10<tspan font-size="4.2" dy="-2.6">7</tspan></text>
<line x1="397.60" y1="173.45" x2="400.30" y2="173.45" stroke="#1a1a1a" stroke-width="1.0" />
<text x="388.60" y="175.75" font-size="6.3" text-anchor="middle" >10<tspan font-size="4.2" dy="-2.6">8</tspan></text>
<line x1="397.60" y1="160.70" x2="400.30" y2="160.70" stroke="#1a1a1a" stroke-width="1.0" />
<text x="388.60" y="163.00" font-size="6.3" text-anchor="middle" >10<tspan font-size="4.2" dy="-2.6">9</tspan></text>
<line x1="401.50" y1="237.20" x2="401.50" y2="239.40" stroke="#1a1a1a" stroke-width="1.0" />
<line x1="411.02" y1="237.20" x2="411.02" y2="239.40" stroke="#1a1a1a" stroke-width="1.0" />
<line x1="420.54" y1="237.20" x2="420.54" y2="239.40" stroke="#1a1a1a" stroke-width="1.0" />
<line x1="430.06" y1="237.20" x2="430.06" y2="239.40" stroke="#1a1a1a" stroke-width="1.0" />
<line x1="439.58" y1="237.20" x2="439.58" y2="239.40" stroke="#1a1a1a" stroke-width="1.0" />
<line x1="449.10" y1="237.20" x2="449.10" y2="239.40" stroke="#1a1a1a" stroke-width="1.0" />
<line x1="458.62" y1="237.20" x2="458.62" y2="239.40" stroke="#1a1a1a" stroke-width="1.0" />
<line x1="468.14" y1="237.20" x2="468.14" y2="239.40" stroke="#1a1a1a" stroke-width="1.0" />
<line x1="477.66" y1="237.20" x2="477.66" y2="239.40" stroke="#1a1a1a" stroke-width="1.0" />
<line x1="487.18" y1="237.20" x2="487.18" y2="239.40" stroke="#1a1a1a" stroke-width="1.0" />
<line x1="496.70" y1="237.20" x2="496.70" y2="239.40" stroke="#1a1a1a" stroke-width="1.0" />
<line x1="506.22" y1="237.20" x2="506.22" y2="239.40" stroke="#1a1a1a" stroke-width="1.0" />
<line x1="515.74" y1="237.20" x2="515.74" y2="239.40" stroke="#1a1a1a" stroke-width="1.0" />
<text x="401.80" y="250.10" font-size="6.4" text-anchor="middle" textLength="3.40" lengthAdjust="spacingAndGlyphs" >0</text>
<text x="411.32" y="250.10" font-size="6.4" text-anchor="middle" textLength="3.40" lengthAdjust="spacingAndGlyphs" >7</text>
<text x="420.84" y="250.10" font-size="6.4" text-anchor="middle" textLength="7.00" lengthAdjust="spacingAndGlyphs" >14</text>
<text x="430.36" y="250.10" font-size="6.4" text-anchor="middle" textLength="7.00" lengthAdjust="spacingAndGlyphs" >21</text>
<text x="439.88" y="250.10" font-size="6.4" text-anchor="middle" textLength="7.00" lengthAdjust="spacingAndGlyphs" >28</text>
<text x="449.40" y="250.10" font-size="6.4" text-anchor="middle" textLength="7.00" lengthAdjust="spacingAndGlyphs" >35</text>
<text x="458.92" y="250.10" font-size="6.4" text-anchor="middle" textLength="7.00" lengthAdjust="spacingAndGlyphs" >42</text>
<text x="468.44" y="250.10" font-size="6.4" text-anchor="middle" textLength="7.00" lengthAdjust="spacingAndGlyphs" >49</text>
<text x="477.96" y="250.10" font-size="6.4" text-anchor="middle" textLength="7.00" lengthAdjust="spacingAndGlyphs" >56</text>
<text x="487.48" y="250.10" font-size="6.4" text-anchor="middle" textLength="7.00" lengthAdjust="spacingAndGlyphs" >63</text>
<text x="497.00" y="250.10" font-size="6.4" text-anchor="middle" textLength="7.00" lengthAdjust="spacingAndGlyphs" >70</text>
<text x="506.52" y="250.10" font-size="6.4" text-anchor="middle" textLength="7.00" lengthAdjust="spacingAndGlyphs" >77</text>
<text x="516.04" y="250.10" font-size="6.4" text-anchor="middle" textLength="7.00" lengthAdjust="spacingAndGlyphs" >84</text>
<text x="459.50" y="262.40" font-size="7.4" text-anchor="middle" textLength="75.00" lengthAdjust="spacingAndGlyphs" font-weight="bold" >Days after CAR T cell infusion</text>
<text transform="translate(377.6,199.0) rotate(-90)" x="0" y="0" font-size="6.9" font-weight="bold" text-anchor="middle" textLength="75" lengthAdjust="spacingAndGlyphs">Average radiance (p/s/cm<tspan font-size="4" dy="-2.3">2</tspan><tspan dy="2.3">/sr)</tspan></text>
<text x="459.30" y="152.00" font-size="7.6" text-anchor="middle" textLength="104.50" lengthAdjust="spacingAndGlyphs" >NKTR-255 starting on day 14</text>
<polyline points="401.50,224.45 411.02,214.25 420.54,206.60 430.06,201.75 439.58,193.85" fill="none" stroke="#f0a12a" stroke-width="1.1" stroke-linejoin="round" />
<polyline points="401.50,224.45 411.02,214.25 420.54,205.71 430.06,207.88 439.58,208.51 449.10,210.42 458.62,201.50 468.14,201.24 477.66,203.03 487.18,188.88 496.70,186.20 506.22,187.98" fill="none" stroke="#f0a12a" stroke-width="1.1" stroke-linejoin="round" />
<polyline points="401.50,223.17 411.02,214.89 420.54,207.11 430.06,208.38 439.58,210.42 449.10,211.70 458.62,211.95 468.14,201.63 477.66,190.92 487.18,180.21 496.70,186.84 506.22,200.35" fill="none" stroke="#f0a12a" stroke-width="1.1" stroke-linejoin="round" />
<polyline points="401.50,225.72 411.02,214.25 420.54,214.12 430.06,218.97 439.58,215.01 449.10,226.36 458.62,225.47 468.14,225.34 477.66,220.37 487.18,213.61 496.70,212.34 506.22,216.03" fill="none" stroke="#f0a12a" stroke-width="1.1" stroke-linejoin="round" />
<polyline points="401.50,227.00 411.02,215.52 420.54,219.73 430.06,223.69 439.58,224.32 449.10,230.95 458.62,230.19 468.14,230.44 477.66,221.77 487.18,213.61 496.70,215.78 506.22,219.73" fill="none" stroke="#f0a12a" stroke-width="1.1" stroke-linejoin="round" />
<polyline points="401.50,227.64 411.02,198.31 420.54,191.30 430.06,174.98" fill="none" stroke="#1d4f8c" stroke-width="1.1" stroke-linejoin="round" />
<polyline points="401.50,229.55 411.02,201.50 420.54,193.21 430.06,176.38" fill="none" stroke="#1d4f8c" stroke-width="1.1" stroke-linejoin="round" />
<polyline points="401.50,230.82 411.02,204.05 420.54,194.74 430.06,178.55" fill="none" stroke="#1d4f8c" stroke-width="1.1" stroke-linejoin="round" />
<polyline points="401.50,225.72 411.02,206.60 420.54,196.40 430.06,179.82" fill="none" stroke="#1d4f8c" stroke-width="1.1" stroke-linejoin="round" />
<polyline points="401.50,228.91 411.02,209.15 420.54,197.67 430.06,186.33 439.58,175.74 449.10,170.90 458.62,165.80 468.14,168.99 477.66,166.44 487.18,165.42" fill="none" stroke="#1d4f8c" stroke-width="1.1" stroke-linejoin="round" />
<line x1="400.30" y1="292.80" x2="400.30" y2="373.50" stroke="#1a1a1a" stroke-width="1.5" />
<line x1="399.60" y1="372.90" x2="518.50" y2="372.90" stroke="#1a1a1a" stroke-width="1.4" />
<line x1="397.60" y1="372.90" x2="400.30" y2="372.90" stroke="#1a1a1a" stroke-width="1.0" />
<text x="388.60" y="375.20" font-size="6.3" text-anchor="middle" >10<tspan font-size="4.2" dy="-2.6">3</tspan></text>
<line x1="397.60" y1="360.15" x2="400.30" y2="360.15" stroke="#1a1a1a" stroke-width="1.0" />
<text x="388.60" y="362.45" font-size="6.3" text-anchor="middle" >10<tspan font-size="4.2" dy="-2.6">4</tspan></text>
<line x1="397.60" y1="347.40" x2="400.30" y2="347.40" stroke="#1a1a1a" stroke-width="1.0" />
<text x="388.60" y="349.70" font-size="6.3" text-anchor="middle" >10<tspan font-size="4.2" dy="-2.6">5</tspan></text>
<line x1="397.60" y1="334.65" x2="400.30" y2="334.65" stroke="#1a1a1a" stroke-width="1.0" />
<text x="388.60" y="336.95" font-size="6.3" text-anchor="middle" >10<tspan font-size="4.2" dy="-2.6">6</tspan></text>
<line x1="397.60" y1="321.90" x2="400.30" y2="321.90" stroke="#1a1a1a" stroke-width="1.0" />
<text x="388.60" y="324.20" font-size="6.3" text-anchor="middle" >10<tspan font-size="4.2" dy="-2.6">7</tspan></text>
<line x1="397.60" y1="309.15" x2="400.30" y2="309.15" stroke="#1a1a1a" stroke-width="1.0" />
<text x="388.60" y="311.45" font-size="6.3" text-anchor="middle" >10<tspan font-size="4.2" dy="-2.6">8</tspan></text>
<line x1="397.60" y1="296.40" x2="400.30" y2="296.40" stroke="#1a1a1a" stroke-width="1.0" />
<text x="388.60" y="298.70" font-size="6.3" text-anchor="middle" >10<tspan font-size="4.2" dy="-2.6">9</tspan></text>
<line x1="401.50" y1="372.90" x2="401.50" y2="375.10" stroke="#1a1a1a" stroke-width="1.0" />
<line x1="411.02" y1="372.90" x2="411.02" y2="375.10" stroke="#1a1a1a" stroke-width="1.0" />
<line x1="420.54" y1="372.90" x2="420.54" y2="375.10" stroke="#1a1a1a" stroke-width="1.0" />
<line x1="430.06" y1="372.90" x2="430.06" y2="375.10" stroke="#1a1a1a" stroke-width="1.0" />
<line x1="439.58" y1="372.90" x2="439.58" y2="375.10" stroke="#1a1a1a" stroke-width="1.0" />
<line x1="449.10" y1="372.90" x2="449.10" y2="375.10" stroke="#1a1a1a" stroke-width="1.0" />
<line x1="458.62" y1="372.90" x2="458.62" y2="375.10" stroke="#1a1a1a" stroke-width="1.0" />
<line x1="468.14" y1="372.90" x2="468.14" y2="375.10" stroke="#1a1a1a" stroke-width="1.0" />
<line x1="477.66" y1="372.90" x2="477.66" y2="375.10" stroke="#1a1a1a" stroke-width="1.0" />
<line x1="487.18" y1="372.90" x2="487.18" y2="375.10" stroke="#1a1a1a" stroke-width="1.0" />
<line x1="496.70" y1="372.90" x2="496.70" y2="375.10" stroke="#1a1a1a" stroke-width="1.0" />
<line x1="506.22" y1="372.90" x2="506.22" y2="375.10" stroke="#1a1a1a" stroke-width="1.0" />
<line x1="515.74" y1="372.90" x2="515.74" y2="375.10" stroke="#1a1a1a" stroke-width="1.0" />
<text x="401.80" y="385.80" font-size="6.4" text-anchor="middle" textLength="3.40" lengthAdjust="spacingAndGlyphs" >0</text>
<text x="411.32" y="385.80" font-size="6.4" text-anchor="middle" textLength="3.40" lengthAdjust="spacingAndGlyphs" >7</text>
<text x="420.84" y="385.80" font-size="6.4" text-anchor="middle" textLength="7.00" lengthAdjust="spacingAndGlyphs" >14</text>
<text x="430.36" y="385.80" font-size="6.4" text-anchor="middle" textLength="7.00" lengthAdjust="spacingAndGlyphs" >21</text>
<text x="439.88" y="385.80" font-size="6.4" text-anchor="middle" textLength="7.00" lengthAdjust="spacingAndGlyphs" >28</text>
<text x="449.40" y="385.80" font-size="6.4" text-anchor="middle" textLength="7.00" lengthAdjust="spacingAndGlyphs" >35</text>
<text x="458.92" y="385.80" font-size="6.4" text-anchor="middle" textLength="7.00" lengthAdjust="spacingAndGlyphs" >42</text>
<text x="468.44" y="385.80" font-size="6.4" text-anchor="middle" textLength="7.00" lengthAdjust="spacingAndGlyphs" >49</text>
<text x="477.96" y="385.80" font-size="6.4" text-anchor="middle" textLength="7.00" lengthAdjust="spacingAndGlyphs" >56</text>
<text x="487.48" y="385.80" font-size="6.4" text-anchor="middle" textLength="7.00" lengthAdjust="spacingAndGlyphs" >63</text>
<text x="497.00" y="385.80" font-size="6.4" text-anchor="middle" textLength="7.00" lengthAdjust="spacingAndGlyphs" >70</text>
<text x="506.52" y="385.80" font-size="6.4" text-anchor="middle" textLength="7.00" lengthAdjust="spacingAndGlyphs" >77</text>
<text x="516.04" y="385.80" font-size="6.4" text-anchor="middle" textLength="7.00" lengthAdjust="spacingAndGlyphs" >84</text>
<text x="459.50" y="398.10" font-size="7.4" text-anchor="middle" textLength="75.00" lengthAdjust="spacingAndGlyphs" font-weight="bold" >Days after CAR T cell infusion</text>
<text transform="translate(377.6,334.7) rotate(-90)" x="0" y="0" font-size="6.9" font-weight="bold" text-anchor="middle" textLength="75" lengthAdjust="spacingAndGlyphs">Average radiance (p/s/cm<tspan font-size="4" dy="-2.3">2</tspan><tspan dy="2.3">/sr)</tspan></text>
<text x="459.30" y="287.20" font-size="7.6" text-anchor="middle" textLength="103.80" lengthAdjust="spacingAndGlyphs" >NKTR-255 starting on day 21</text>
<polyline points="401.50,362.19 411.02,362.19 420.54,361.68 430.06,353.39 439.58,339.24 449.10,328.02 458.62,314.50 468.14,313.36 477.66,312.08 487.18,308.64 496.70,330.70" fill="none" stroke="#c0213f" stroke-width="1.1" stroke-linejoin="round" />
<polyline points="401.50,365.25 411.02,350.71 420.54,340.64 430.06,332.74 439.58,324.07 449.10,325.34 458.62,324.96 468.14,315.65 477.66,317.95 487.18,308.00 496.70,306.34 506.22,304.05" fill="none" stroke="#c0213f" stroke-width="1.1" stroke-linejoin="round" />
<polyline points="401.50,366.52 411.02,346.00 420.54,339.24 430.06,337.96 439.58,331.97 449.10,349.95 458.62,348.04 468.14,343.45 477.66,343.45 487.18,337.71 496.70,336.43 506.22,338.86" fill="none" stroke="#c0213f" stroke-width="1.1" stroke-linejoin="round" />
<polyline points="401.50,363.97 411.02,346.63 420.54,349.31 430.06,340.64 439.58,340.64 449.10,333.38 458.62,345.74 468.14,344.08 477.66,344.08 487.18,338.86 496.70,334.14 506.22,335.29" fill="none" stroke="#c0213f" stroke-width="1.1" stroke-linejoin="round" />
<polyline points="401.50,365.25 411.02,348.67 420.54,343.57 430.06,335.92" fill="none" stroke="#c0213f" stroke-width="1.1" stroke-linejoin="round" />
<polyline points="401.50,363.34 411.02,334.01 420.54,327.00 430.06,310.68" fill="none" stroke="#1d4f8c" stroke-width="1.1" stroke-linejoin="round" />
<polyline points="401.50,365.25 411.02,337.20 420.54,328.91 430.06,312.08" fill="none" stroke="#1d4f8c" stroke-width="1.1" stroke-linejoin="round" />
<polyline points="401.50,366.52 411.02,339.75 420.54,330.44 430.06,314.25" fill="none" stroke="#1d4f8c" stroke-width="1.1" stroke-linejoin="round" />
<polyline points="401.50,361.42 411.02,342.30 420.54,332.10 430.06,315.52" fill="none" stroke="#1d4f8c" stroke-width="1.1" stroke-linejoin="round" />
<polyline points="401.50,364.61 411.02,344.85 420.54,333.38 430.06,322.03 439.58,311.44 449.10,306.60 458.62,301.50 468.14,304.69 477.66,302.14 487.18,301.12" fill="none" stroke="#1d4f8c" stroke-width="1.1" stroke-linejoin="round" />
<line x1="44.30" y1="449.30" x2="44.30" y2="536.20" stroke="#1a1a1a" stroke-width="1.5" />
<line x1="43.60" y1="535.60" x2="160.50" y2="535.60" stroke="#1a1a1a" stroke-width="1.5" />
<line x1="41.20" y1="535.60" x2="44.30" y2="535.60" stroke="#1a1a1a" stroke-width="1.1" />
<text x="37.90" y="538.10" font-size="7.2" text-anchor="end" textLength="3.90" lengthAdjust="spacingAndGlyphs" >0</text>
<line x1="41.20" y1="515.05" x2="44.30" y2="515.05" stroke="#1a1a1a" stroke-width="1.1" />
<text x="37.90" y="517.55" font-size="7.2" text-anchor="end" textLength="7.80" lengthAdjust="spacingAndGlyphs" >25</text>
<line x1="41.20" y1="494.50" x2="44.30" y2="494.50" stroke="#1a1a1a" stroke-width="1.1" />
<text x="37.90" y="497.00" font-size="7.2" text-anchor="end" textLength="7.80" lengthAdjust="spacingAndGlyphs" >50</text>
<line x1="41.20" y1="473.95" x2="44.30" y2="473.95" stroke="#1a1a1a" stroke-width="1.1" />
<text x="37.90" y="476.45" font-size="7.2" text-anchor="end" textLength="7.80" lengthAdjust="spacingAndGlyphs" >75</text>
<line x1="41.20" y1="453.40" x2="44.30" y2="453.40" stroke="#1a1a1a" stroke-width="1.1" />
<text x="37.90" y="455.90" font-size="7.2" text-anchor="end" textLength="11.80" lengthAdjust="spacingAndGlyphs" >100</text>
<line x1="44.40" y1="535.60" x2="44.40" y2="538.00" stroke="#1a1a1a" stroke-width="1.1" />
<line x1="53.85" y1="535.60" x2="53.85" y2="538.00" stroke="#1a1a1a" stroke-width="1.1" />
<line x1="63.30" y1="535.60" x2="63.30" y2="538.00" stroke="#1a1a1a" stroke-width="1.1" />
<line x1="72.75" y1="535.60" x2="72.75" y2="538.00" stroke="#1a1a1a" stroke-width="1.1" />
<line x1="82.20" y1="535.60" x2="82.20" y2="538.00" stroke="#1a1a1a" stroke-width="1.1" />
<line x1="91.65" y1="535.60" x2="91.65" y2="538.00" stroke="#1a1a1a" stroke-width="1.1" />
<line x1="101.10" y1="535.60" x2="101.10" y2="538.00" stroke="#1a1a1a" stroke-width="1.1" />
<line x1="110.55" y1="535.60" x2="110.55" y2="538.00" stroke="#1a1a1a" stroke-width="1.1" />
<line x1="120.00" y1="535.60" x2="120.00" y2="538.00" stroke="#1a1a1a" stroke-width="1.1" />
<line x1="129.45" y1="535.60" x2="129.45" y2="538.00" stroke="#1a1a1a" stroke-width="1.1" />
<line x1="138.90" y1="535.60" x2="138.90" y2="538.00" stroke="#1a1a1a" stroke-width="1.1" />
<line x1="148.35" y1="535.60" x2="148.35" y2="538.00" stroke="#1a1a1a" stroke-width="1.1" />
<line x1="157.80" y1="535.60" x2="157.80" y2="538.00" stroke="#1a1a1a" stroke-width="1.1" />
<text x="44.40" y="547.80" font-size="6.4" text-anchor="middle" textLength="3.40" lengthAdjust="spacingAndGlyphs" >0</text>
<text x="53.85" y="547.80" font-size="6.4" text-anchor="middle" textLength="3.40" lengthAdjust="spacingAndGlyphs" >7</text>
<text x="63.30" y="547.80" font-size="6.4" text-anchor="middle" textLength="7.00" lengthAdjust="spacingAndGlyphs" >14</text>
<text x="72.75" y="547.80" font-size="6.4" text-anchor="middle" textLength="7.00" lengthAdjust="spacingAndGlyphs" >21</text>
<text x="82.20" y="547.80" font-size="6.4" text-anchor="middle" textLength="7.00" lengthAdjust="spacingAndGlyphs" >28</text>
<text x="91.65" y="547.80" font-size="6.4" text-anchor="middle" textLength="7.00" lengthAdjust="spacingAndGlyphs" >35</text>
<text x="101.10" y="547.80" font-size="6.4" text-anchor="middle" textLength="7.00" lengthAdjust="spacingAndGlyphs" >42</text>
<text x="110.55" y="547.80" font-size="6.4" text-anchor="middle" textLength="7.00" lengthAdjust="spacingAndGlyphs" >49</text>
<text x="120.00" y="547.80" font-size="6.4" text-anchor="middle" textLength="7.00" lengthAdjust="spacingAndGlyphs" >56</text>
<text x="129.45" y="547.80" font-size="6.4" text-anchor="middle" textLength="7.00" lengthAdjust="spacingAndGlyphs" >63</text>
<text x="138.90" y="547.80" font-size="6.4" text-anchor="middle" textLength="7.00" lengthAdjust="spacingAndGlyphs" >70</text>
<text x="148.35" y="547.80" font-size="6.4" text-anchor="middle" textLength="7.00" lengthAdjust="spacingAndGlyphs" >77</text>
<text x="157.80" y="547.80" font-size="6.4" text-anchor="middle" textLength="7.00" lengthAdjust="spacingAndGlyphs" >84</text>
<text x="102.60" y="558.70" font-size="7.4" text-anchor="middle" textLength="75.00" lengthAdjust="spacingAndGlyphs" font-weight="bold" >Days after CAR T cell infusion</text>
<text transform="translate(19.6,492.3) rotate(-90)" x="0" y="0" font-size="6.6" font-weight="bold" text-anchor="middle" textLength="65" lengthAdjust="spacingAndGlyphs">Probability of survival (%)</text>
<polyline points="80.85,453.40 148.35,453.40 148.35,469.84 158.47,469.84" fill="none" stroke="#6cbb5a" stroke-width="1.4" stroke-linejoin="round" />
<polyline points="82.88,453.40 82.88,469.84 148.35,469.84" fill="none" stroke="#f0b450" stroke-width="1.4" stroke-linejoin="round" />
<polyline points="44.40,453.40 80.85,453.40 80.85,519.16 129.45,519.16 129.45,535.60" fill="none" stroke="#5a82b8" stroke-width="1.4" stroke-linejoin="round" />
<polyline points="63.30,453.40 74.10,453.40 74.10,469.84 82.88,469.84" fill="none" stroke="#c23a58" stroke-width="1.4" stroke-linejoin="round" />
<polyline points="148.35,469.84 148.35,486.28 157.80,486.28" fill="none" stroke="#c23a58" stroke-width="1.4" stroke-linejoin="round" />
<polyline points="44.40,453.40 63.30,453.40 63.30,535.60" fill="none" stroke="#6a4a82" stroke-width="1.4" stroke-linejoin="round" />
<polyline points="44.40,453.40 63.30,453.40" fill="none" stroke="#564a6c" stroke-width="1.4" stroke-linejoin="round" />
<polyline points="63.30,453.40 80.85,453.40" fill="none" stroke="#4b5068" stroke-width="1.4" stroke-linejoin="round" />
<line x1="13.80" y1="571.30" x2="21.60" y2="571.30" stroke="#6a4a82" stroke-width="1.3" />
<text x="26.00" y="573.70" font-size="6.8" textLength="46.00" lengthAdjust="spacingAndGlyphs" >NKTR-255 only</text>
<line x1="13.80" y1="580.05" x2="21.60" y2="580.05" stroke="#5a82b8" stroke-width="1.3" />
<text x="26.00" y="582.45" font-size="6.8" textLength="49.40" lengthAdjust="spacingAndGlyphs" >CAR T cells only</text>
<line x1="13.80" y1="588.80" x2="21.60" y2="588.80" stroke="#6cbb5a" stroke-width="1.3" />
<text x="26.00" y="591.20" font-size="6.8" textLength="116.20" lengthAdjust="spacingAndGlyphs" >CAR T cells + NKTR-255 (starting D7)</text>
<line x1="13.80" y1="597.55" x2="21.60" y2="597.55" stroke="#f0b450" stroke-width="1.3" />
<text x="26.00" y="599.95" font-size="6.8" textLength="119.50" lengthAdjust="spacingAndGlyphs" >CAR T cells + NKTR-255 (starting D14)</text>
<line x1="13.80" y1="606.30" x2="21.60" y2="606.30" stroke="#c23a58" stroke-width="1.3" />
<text x="26.00" y="608.70" font-size="6.8" textLength="119.50" lengthAdjust="spacingAndGlyphs" >CAR T cells + NKTR-255 (starting D21)</text>
<polyline points="145.00,580.20 148.30,580.20 148.30,590.80 145.00,590.80" fill="none" stroke="#231f20" stroke-width="0.9" stroke-linejoin="round" />
<polyline points="156.30,580.50 159.70,580.50 159.70,599.00 156.30,599.00" fill="none" stroke="#231f20" stroke-width="0.9" stroke-linejoin="round" />
<polyline points="167.60,580.50 171.10,580.50 171.10,608.40 167.60,608.40" fill="none" stroke="#231f20" stroke-width="0.9" stroke-linejoin="round" />
<text x="153.10" y="589.20" font-size="7.4" text-anchor="middle" >**</text>
<text x="165.20" y="593.20" font-size="7.4" text-anchor="middle" >**</text>
<text x="175.00" y="597.60" font-size="7.4" text-anchor="middle" >*</text>
<text x="26.00" y="622.60" font-size="6.8" textLength="59.60" lengthAdjust="spacingAndGlyphs" >* <tspan font-style="italic">P</tspan> &lt; .05; ** <tspan font-style="italic">P</tspan> &lt; .01</text>
<line x1="238.30" y1="475.10" x2="238.30" y2="562.30" stroke="#1a1a1a" stroke-width="1.5" />
<line x1="237.60" y1="561.60" x2="355.00" y2="561.60" stroke="#1a1a1a" stroke-width="1.5" />
<line x1="257.00" y1="561.60" x2="257.00" y2="564.00" stroke="#1a1a1a" stroke-width="1.1" />
<line x1="284.60" y1="561.60" x2="284.60" y2="564.00" stroke="#1a1a1a" stroke-width="1.1" />
<line x1="314.50" y1="561.60" x2="314.50" y2="564.00" stroke="#1a1a1a" stroke-width="1.1" />
<line x1="343.00" y1="561.60" x2="343.00" y2="564.00" stroke="#1a1a1a" stroke-width="1.1" />
<line x1="235.50" y1="561.60" x2="238.30" y2="561.60" stroke="#1a1a1a" stroke-width="1.2" />
<text x="226.70" y="564.20" font-size="7.2" text-anchor="middle" >10<tspan font-size="4.6" dy="-2.9">−1</tspan></text>
<line x1="235.50" y1="540.85" x2="238.30" y2="540.85" stroke="#1a1a1a" stroke-width="1.2" />
<text x="226.70" y="543.45" font-size="7.2" text-anchor="middle" >10<tspan font-size="4.6" dy="-2.9">0</tspan></text>
<line x1="235.50" y1="520.10" x2="238.30" y2="520.10" stroke="#1a1a1a" stroke-width="1.2" />
<text x="226.70" y="522.70" font-size="7.2" text-anchor="middle" >10<tspan font-size="4.6" dy="-2.9">1</tspan></text>
<line x1="235.50" y1="499.35" x2="238.30" y2="499.35" stroke="#1a1a1a" stroke-width="1.2" />
<text x="226.70" y="501.95" font-size="7.2" text-anchor="middle" >10<tspan font-size="4.6" dy="-2.9">2</tspan></text>
<line x1="235.50" y1="478.60" x2="238.30" y2="478.60" stroke="#1a1a1a" stroke-width="1.2" />
<text x="226.70" y="481.20" font-size="7.2" text-anchor="middle" >10<tspan font-size="4.6" dy="-2.9">3</tspan></text>
<text x="257.00" y="573.80" font-size="7.5" text-anchor="middle" textLength="34.50" lengthAdjust="spacingAndGlyphs" >CAR T cells</text>
<text x="257.00" y="582.40" font-size="7.5" text-anchor="middle" textLength="13.00" lengthAdjust="spacingAndGlyphs" >only</text>
<text x="284.60" y="573.80" font-size="7.5" text-anchor="middle" textLength="9.40" lengthAdjust="spacingAndGlyphs" >D7</text>
<text x="314.50" y="573.80" font-size="7.5" text-anchor="middle" textLength="13.20" lengthAdjust="spacingAndGlyphs" >D14</text>
<text x="343.00" y="573.80" font-size="7.5" text-anchor="middle" textLength="13.20" lengthAdjust="spacingAndGlyphs" >D21</text>
<text x="296.80" y="593.30" font-size="7.4" text-anchor="middle" textLength="49.00" lengthAdjust="spacingAndGlyphs" font-weight="bold" >NKTR-255 start day</text>
<text x="301.30" y="454.00" font-size="8.5" text-anchor="middle" textLength="65.50" lengthAdjust="spacingAndGlyphs" >CD8<tspan font-size="5.4" dy="-3.2">+</tspan><tspan dy="3.2"> CAR T cells</tspan></text>
<text transform="translate(213.8,521.6) rotate(-90)" x="0" y="0" font-size="7.0" font-weight="bold" text-anchor="middle" textLength="80" lengthAdjust="spacingAndGlyphs">CAR T cells AUC<tspan font-size="4" dy="1.5">0–28</tspan><tspan dy="-1.5"> (cells/μL x days)</tspan></text>
<line x1="405.60" y1="476.10" x2="405.60" y2="561.90" stroke="#1a1a1a" stroke-width="1.5" />
<line x1="404.90" y1="561.20" x2="520.00" y2="561.20" stroke="#1a1a1a" stroke-width="1.5" />
<line x1="424.00" y1="561.20" x2="424.00" y2="563.60" stroke="#1a1a1a" stroke-width="1.1" />
<line x1="451.60" y1="561.20" x2="451.60" y2="563.60" stroke="#1a1a1a" stroke-width="1.1" />
<line x1="479.60" y1="561.20" x2="479.60" y2="563.60" stroke="#1a1a1a" stroke-width="1.1" />
<line x1="508.40" y1="561.20" x2="508.40" y2="563.60" stroke="#1a1a1a" stroke-width="1.1" />
<line x1="402.80" y1="561.20" x2="405.60" y2="561.20" stroke="#1a1a1a" stroke-width="1.2" />
<text x="394.00" y="563.80" font-size="7.2" text-anchor="middle" >10<tspan font-size="4.6" dy="-2.9">−1</tspan></text>
<line x1="402.80" y1="540.80" x2="405.60" y2="540.80" stroke="#1a1a1a" stroke-width="1.2" />
<text x="394.00" y="543.40" font-size="7.2" text-anchor="middle" >10<tspan font-size="4.6" dy="-2.9">0</tspan></text>
<line x1="402.80" y1="520.40" x2="405.60" y2="520.40" stroke="#1a1a1a" stroke-width="1.2" />
<text x="394.00" y="523.00" font-size="7.2" text-anchor="middle" >10<tspan font-size="4.6" dy="-2.9">1</tspan></text>
<line x1="402.80" y1="500.00" x2="405.60" y2="500.00" stroke="#1a1a1a" stroke-width="1.2" />
<text x="394.00" y="502.60" font-size="7.2" text-anchor="middle" >10<tspan font-size="4.6" dy="-2.9">2</tspan></text>
<line x1="402.80" y1="479.60" x2="405.60" y2="479.60" stroke="#1a1a1a" stroke-width="1.2" />
<text x="394.00" y="482.20" font-size="7.2" text-anchor="middle" >10<tspan font-size="4.6" dy="-2.9">3</tspan></text>
<text x="424.00" y="573.80" font-size="7.5" text-anchor="middle" textLength="34.50" lengthAdjust="spacingAndGlyphs" >CAR T cells</text>
<text x="424.00" y="582.40" font-size="7.5" text-anchor="middle" textLength="13.00" lengthAdjust="spacingAndGlyphs" >only</text>
<text x="451.60" y="573.80" font-size="7.5" text-anchor="middle" textLength="9.40" lengthAdjust="spacingAndGlyphs" >D7</text>
<text x="479.60" y="573.80" font-size="7.5" text-anchor="middle" textLength="13.20" lengthAdjust="spacingAndGlyphs" >D14</text>
<text x="508.40" y="573.80" font-size="7.5" text-anchor="middle" textLength="13.20" lengthAdjust="spacingAndGlyphs" >D21</text>
<text x="462.40" y="593.30" font-size="7.4" text-anchor="middle" textLength="49.00" lengthAdjust="spacingAndGlyphs" font-weight="bold" >NKTR-255 start day</text>
<text x="467.70" y="454.00" font-size="8.5" text-anchor="middle" textLength="65.50" lengthAdjust="spacingAndGlyphs" >CD4<tspan font-size="5.4" dy="-3.2">+</tspan><tspan dy="3.2"> CAR T cells</tspan></text>
<text transform="translate(378.3,521.9) rotate(-90)" x="0" y="0" font-size="7.0" font-weight="bold" text-anchor="middle" textLength="80" lengthAdjust="spacingAndGlyphs">CAR T cells AUC<tspan font-size="4" dy="1.5">0–28</tspan><tspan dy="-1.5"> (cells/μL x days)</tspan></text>
<rect x="249.40" y="531.10" width="15.20" height="5.60" fill="#c5d3e6" />
<line x1="257.00" y1="527.99" x2="257.00" y2="531.10" stroke="#1f4f8a" stroke-width="0.9" />
<line x1="257.00" y1="536.70" x2="257.00" y2="538.36" stroke="#1f4f8a" stroke-width="0.9" />
<line x1="254.80" y1="527.99" x2="259.20" y2="527.99" stroke="#1f4f8a" stroke-width="0.9" />
<line x1="254.80" y1="538.36" x2="259.20" y2="538.36" stroke="#1f4f8a" stroke-width="0.9" />
<line x1="249.40" y1="534.21" x2="264.60" y2="534.21" stroke="#1f4f8a" stroke-width="1.0" />
<rect x="253.70" y="530.84" width="2.60" height="2.60" fill="#1f4f8a" />
<rect x="257.20" y="531.67" width="2.60" height="2.60" fill="#1f4f8a" />
<rect x="254.70" y="535.82" width="2.60" height="2.60" fill="#1f4f8a" />
<rect x="257.70" y="535.40" width="2.60" height="2.60" fill="#1f4f8a" />
<circle cx="257.00" cy="528.40" r="1.35" fill="#1f4f8a"/>
<circle cx="254.00" cy="534.62" r="1.35" fill="#1f4f8a"/>
<rect x="276.30" y="494.79" width="16.60" height="10.79" fill="#cfe9cc" />
<line x1="284.60" y1="493.12" x2="284.60" y2="494.79" stroke="#3aa843" stroke-width="0.9" />
<line x1="284.60" y1="505.58" x2="284.60" y2="510.14" stroke="#3aa843" stroke-width="0.9" />
<line x1="282.40" y1="493.12" x2="286.80" y2="493.12" stroke="#3aa843" stroke-width="0.9" />
<line x1="282.40" y1="510.14" x2="286.80" y2="510.14" stroke="#3aa843" stroke-width="0.9" />
<line x1="276.30" y1="501.84" x2="292.90" y2="501.84" stroke="#3aa843" stroke-width="1.0" />
<circle cx="282.60" cy="499.35" r="1.35" fill="#3aa843"/>
<circle cx="286.60" cy="501.01" r="1.35" fill="#3aa843"/>
<circle cx="284.60" cy="508.69" r="1.35" fill="#3aa843"/>
<circle cx="285.60" cy="495.20" r="1.35" fill="#3aa843"/>
<circle cx="283.10" cy="502.46" r="1.35" fill="#3aa843"/>
<rect x="306.20" y="496.86" width="16.60" height="36.73" fill="#fde3c4" />
<line x1="314.50" y1="490.64" x2="314.50" y2="496.86" stroke="#f0a02a" stroke-width="0.9" />
<line x1="314.50" y1="533.59" x2="314.50" y2="535.04" stroke="#f0a02a" stroke-width="0.9" />
<line x1="312.30" y1="490.64" x2="316.70" y2="490.64" stroke="#f0a02a" stroke-width="0.9" />
<line x1="312.30" y1="535.04" x2="316.70" y2="535.04" stroke="#f0a02a" stroke-width="0.9" />
<line x1="306.20" y1="520.10" x2="322.80" y2="520.10" stroke="#f0a02a" stroke-width="1.0" />
<circle cx="314.50" cy="509.73" r="1.35" fill="#f0a02a"/>
<circle cx="313.50" cy="534.62" r="1.35" fill="#f0a02a"/>
<circle cx="316.00" cy="530.48" r="1.35" fill="#f0a02a"/>
<circle cx="314.50" cy="491.05" r="1.35" fill="#f0a02a"/>
<rect x="334.10" y="505.99" width="17.80" height="35.90" fill="#f1c3c9" />
<line x1="343.00" y1="499.35" x2="343.00" y2="505.99" stroke="#b8173a" stroke-width="0.9" />
<line x1="343.00" y1="541.89" x2="343.00" y2="551.23" stroke="#b8173a" stroke-width="0.9" />
<line x1="340.80" y1="499.35" x2="345.20" y2="499.35" stroke="#b8173a" stroke-width="0.9" />
<line x1="340.80" y1="551.23" x2="345.20" y2="551.23" stroke="#b8173a" stroke-width="0.9" />
<line x1="334.10" y1="532.13" x2="351.90" y2="532.13" stroke="#b8173a" stroke-width="1.0" />
<circle cx="343.00" cy="525.29" r="1.35" fill="#b8173a"/>
<circle cx="343.00" cy="532.55" r="1.35" fill="#b8173a"/>
<circle cx="343.00" cy="539.81" r="1.35" fill="#b8173a"/>
<circle cx="343.00" cy="551.23" r="1.35" fill="#b8173a"/>
<circle cx="343.00" cy="499.35" r="1.35" fill="#b8173a"/>
<rect x="415.60" y="531.01" width="16.80" height="5.71" fill="#c5d3e6" />
<line x1="424.00" y1="528.15" x2="424.00" y2="531.01" stroke="#1f4f8a" stroke-width="0.9" />
<line x1="424.00" y1="536.72" x2="424.00" y2="538.35" stroke="#1f4f8a" stroke-width="0.9" />
<line x1="421.80" y1="528.15" x2="426.20" y2="528.15" stroke="#1f4f8a" stroke-width="0.9" />
<line x1="421.80" y1="538.35" x2="426.20" y2="538.35" stroke="#1f4f8a" stroke-width="0.9" />
<line x1="415.60" y1="534.27" x2="432.40" y2="534.27" stroke="#1f4f8a" stroke-width="1.0" />
<rect x="420.70" y="530.93" width="2.60" height="2.60" fill="#1f4f8a" />
<rect x="424.20" y="531.75" width="2.60" height="2.60" fill="#1f4f8a" />
<rect x="421.70" y="535.83" width="2.60" height="2.60" fill="#1f4f8a" />
<rect x="424.70" y="535.42" width="2.60" height="2.60" fill="#1f4f8a" />
<circle cx="424.00" cy="528.15" r="1.35" fill="#1f4f8a"/>
<circle cx="421.00" cy="534.68" r="1.35" fill="#1f4f8a"/>
<rect x="442.35" y="494.90" width="18.50" height="8.77" fill="#cfe9cc" />
<line x1="451.60" y1="490.21" x2="451.60" y2="494.90" stroke="#3aa843" stroke-width="0.9" />
<line x1="451.60" y1="503.67" x2="451.60" y2="504.49" stroke="#3aa843" stroke-width="0.9" />
<line x1="449.40" y1="490.21" x2="453.80" y2="490.21" stroke="#3aa843" stroke-width="0.9" />
<line x1="449.40" y1="504.49" x2="453.80" y2="504.49" stroke="#3aa843" stroke-width="0.9" />
<line x1="442.35" y1="500.00" x2="460.85" y2="500.00" stroke="#3aa843" stroke-width="1.0" />
<circle cx="449.60" cy="498.98" r="1.35" fill="#3aa843"/>
<circle cx="453.60" cy="502.04" r="1.35" fill="#3aa843"/>
<circle cx="451.60" cy="493.88" r="1.35" fill="#3aa843"/>
<circle cx="452.60" cy="490.82" r="1.35" fill="#3aa843"/>
<circle cx="450.10" cy="502.45" r="1.35" fill="#3aa843"/>
<rect x="470.70" y="504.08" width="17.80" height="16.32" fill="#fde3c4" />
<line x1="479.60" y1="498.98" x2="479.60" y2="504.08" stroke="#f0a02a" stroke-width="0.9" />
<line x1="479.60" y1="520.40" x2="479.60" y2="524.48" stroke="#f0a02a" stroke-width="0.9" />
<line x1="477.40" y1="498.98" x2="481.80" y2="498.98" stroke="#f0a02a" stroke-width="0.9" />
<line x1="477.40" y1="524.48" x2="481.80" y2="524.48" stroke="#f0a02a" stroke-width="0.9" />
<line x1="470.70" y1="514.28" x2="488.50" y2="514.28" stroke="#f0a02a" stroke-width="1.0" />
<circle cx="479.60" cy="512.24" r="1.35" fill="#f0a02a"/>
<circle cx="478.60" cy="518.36" r="1.35" fill="#f0a02a"/>
<circle cx="481.10" cy="508.16" r="1.35" fill="#f0a02a"/>
<circle cx="479.60" cy="498.98" r="1.35" fill="#f0a02a"/>
<circle cx="479.60" cy="524.48" r="1.35" fill="#f0a02a"/>
<rect x="499.65" y="517.95" width="17.50" height="13.67" fill="#f1c3c9" />
<line x1="508.40" y1="514.69" x2="508.40" y2="517.95" stroke="#b8173a" stroke-width="0.9" />
<line x1="508.40" y1="531.62" x2="508.40" y2="544.47" stroke="#b8173a" stroke-width="0.9" />
<line x1="506.20" y1="514.69" x2="510.60" y2="514.69" stroke="#b8173a" stroke-width="0.9" />
<line x1="506.20" y1="544.47" x2="510.60" y2="544.47" stroke="#b8173a" stroke-width="0.9" />
<line x1="499.65" y1="522.85" x2="517.15" y2="522.85" stroke="#b8173a" stroke-width="1.0" />
<circle cx="508.40" cy="521.42" r="1.35" fill="#b8173a"/>
<circle cx="506.40" cy="523.46" r="1.35" fill="#b8173a"/>
<circle cx="510.40" cy="520.40" r="1.35" fill="#b8173a"/>
<circle cx="508.40" cy="515.30" r="1.35" fill="#b8173a"/>
<circle cx="508.40" cy="544.47" r="1.35" fill="#b8173a"/>
<circle cx="508.40" cy="528.56" r="1.35" fill="#b8173a"/>
<polyline points="257.00,472.30 257.00,470.00 343.00,470.00 343.00,472.30" fill="none" stroke="#1a1a1a" stroke-width="1.25" stroke-linejoin="round" />
<text x="300.00" y="467.00" font-size="6.6" text-anchor="middle" >ns</text>
<polyline points="257.00,483.50 257.00,481.20 314.50,481.20 314.50,483.50" fill="none" stroke="#1a1a1a" stroke-width="1.25" stroke-linejoin="round" />
<text x="285.80" y="478.20" font-size="6.6" text-anchor="middle" >ns</text>
<polyline points="257.00,493.50 257.00,491.20 284.60,491.20 284.60,493.50" fill="none" stroke="#1a1a1a" stroke-width="1.25" stroke-linejoin="round" />
<text x="271.20" y="488.00" font-size="6.8" text-anchor="middle" textLength="26.80" lengthAdjust="spacingAndGlyphs" ><tspan font-style="italic">P</tspan> = .008</text>
<polyline points="424.00,467.60 424.00,465.30 508.40,465.30 508.40,467.60" fill="none" stroke="#1a1a1a" stroke-width="1.25" stroke-linejoin="round" />
<text x="466.20" y="462.30" font-size="6.6" text-anchor="middle" >ns</text>
<polyline points="424.00,478.60 424.00,476.30 479.60,476.30 479.60,478.60" fill="none" stroke="#1a1a1a" stroke-width="1.25" stroke-linejoin="round" />
<text x="452.00" y="473.00" font-size="6.8" text-anchor="middle" textLength="26.80" lengthAdjust="spacingAndGlyphs" ><tspan font-style="italic">P</tspan> = .008</text>
<polyline points="424.00,488.50 424.00,486.20 451.60,486.20 451.60,488.50" fill="none" stroke="#1a1a1a" stroke-width="1.25" stroke-linejoin="round" />
<text x="437.80" y="483.00" font-size="6.8" text-anchor="middle" textLength="26.80" lengthAdjust="spacingAndGlyphs" ><tspan font-style="italic">P</tspan> = .008</text>
</svg></body></html>
